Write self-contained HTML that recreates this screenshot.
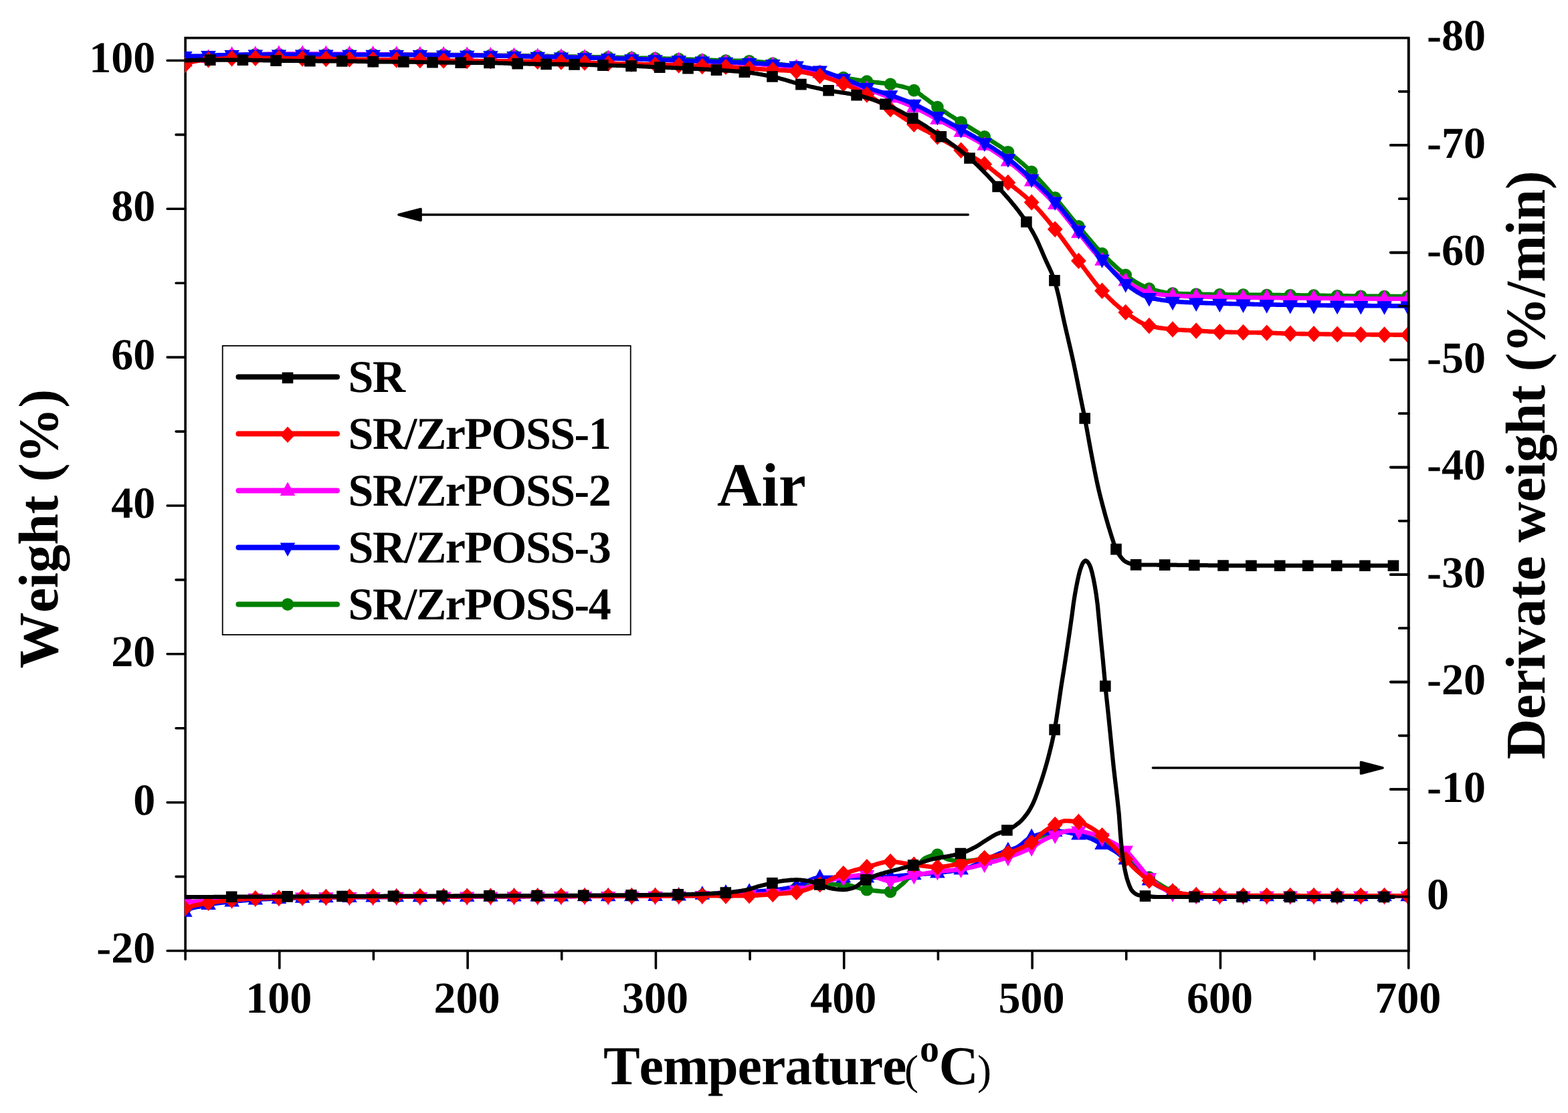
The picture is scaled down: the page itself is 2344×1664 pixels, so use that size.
<!DOCTYPE html>
<html lang="en">
<head>
<meta charset="utf-8">
<title>TG and DTG curves of SR and SR/ZrPOSS in air</title>
<style>
html,body{margin:0;padding:0;background:#fff}
body{width:2344px;height:1664px;overflow:hidden}
svg{display:block}
text{font-family:"Liberation Serif",serif;font-weight:700;fill:#000;font-kerning:none;text-rendering:geometricPrecision}
</style>
</head>
<body>
<svg width="2344" height="1664" viewBox="0 0 2344 1664">
<rect width="2344" height="1664" fill="#fff"/>
<defs><clipPath id="plot"><rect x="276.2" y="56.7" width="1827.8" height="1364.8"/></clipPath></defs>
<rect x="277.1" y="56.7" width="1828.6" height="1364.8" fill="none" stroke="#000" stroke-width="3.6"/>
<path d="M277.1 1421.5v12.8M417.8 1421.5v25.9M558.4 1421.5v12.8M699.1 1421.5v25.9M839.7 1421.5v12.8M980.4 1421.5v25.9M1121.1 1421.5v12.8M1261.7 1421.5v25.9M1402.4 1421.5v12.8M1543.1 1421.5v25.9M1683.7 1421.5v12.8M1824.4 1421.5v25.9M1965.0 1421.5v12.8M2105.7 1421.5v25.9M277.1 1421.5h-27.0M277.1 1310.6h-14.0M277.1 1199.7h-27.0M277.1 1088.7h-14.0M277.1 977.8h-27.0M277.1 866.9h-14.0M277.1 756.0h-27.0M277.1 645.1h-14.0M277.1 534.1h-27.0M277.1 423.2h-14.0M277.1 312.3h-27.0M277.1 201.4h-14.0M277.1 90.5h-27.0M2105.7 136.8h-14.0M2105.7 217.1h-27.0M2105.7 297.3h-14.0M2105.7 377.6h-27.0M2105.7 457.8h-14.0M2105.7 538.1h-27.0M2105.7 618.3h-14.0M2105.7 698.6h-27.0M2105.7 778.8h-14.0M2105.7 859.1h-27.0M2105.7 939.3h-14.0M2105.7 1019.6h-27.0M2105.7 1099.8h-14.0M2105.7 1180.1h-27.0M2105.7 1260.3h-14.0M2105.7 1340.6h-27.0" fill="none" stroke="#000" stroke-width="3.6" stroke-linecap="round"/>
<g clip-path="url(#plot)">
<g>
<path d="M276.0 90.0 L278.0 89.7 L280.0 89.4 L282.0 89.1 L284.0 88.8 L286.0 88.5 L288.0 88.2 L290.0 88.0 L292.0 87.8 L294.0 87.6 L296.0 87.4 L298.0 87.2 L300.0 87.0 L302.0 86.8 L304.0 86.6 L306.0 86.5 L308.0 86.3 L310.0 86.1 L312.0 85.9 L314.0 85.7 L316.0 85.5 L318.0 85.3 L320.0 85.1 L322.0 84.9 L324.0 84.7 L326.0 84.5 L328.0 84.3 L330.0 84.1 L332.0 83.9 L334.0 83.7 L336.0 83.6 L338.0 83.4 L340.0 83.2 L342.0 83.1 L344.0 82.9 L346.0 82.8 L348.0 82.7 L350.0 82.6 L352.0 82.4 L354.0 82.3 L356.0 82.2 L358.0 82.1 L360.0 82.0 L362.0 81.9 L364.0 81.8 L366.0 81.7 L368.0 81.6 L370.0 81.5 L372.0 81.4 L374.0 81.3 L376.0 81.3 L378.0 81.2 L380.0 81.2 L382.0 81.2 L384.0 81.2 L386.0 81.2 L388.0 81.1 L390.0 81.1 L392.0 81.1 L394.0 81.1 L396.0 81.1 L398.0 81.1 L400.0 81.0 L402.0 81.0 L404.0 81.0 L406.0 81.0 L408.0 81.0 L410.0 81.0 L412.0 81.0 L414.0 81.0 L416.0 81.0 L418.0 81.0 L420.0 81.0 L422.0 81.0 L424.0 81.0 L426.0 81.0 L428.0 81.0 L430.0 81.0 L432.0 81.0 L434.0 81.0 L436.0 81.0 L438.0 81.0 L440.0 81.0 L442.0 81.0 L444.0 81.0 L446.0 81.0 L448.0 81.0 L450.0 81.0 L452.0 81.0 L454.0 81.0 L456.0 81.0 L458.0 81.0 L460.0 81.1 L462.0 81.1 L464.0 81.1 L466.0 81.1 L468.0 81.1 L470.0 81.1 L472.0 81.1 L474.0 81.1 L476.0 81.1 L478.0 81.1 L480.0 81.1 L482.0 81.1 L484.0 81.1 L486.0 81.1 L488.0 81.1 L490.0 81.1 L492.0 81.1 L494.0 81.1 L496.0 81.2 L498.0 81.2 L500.0 81.2 L502.0 81.2 L504.0 81.2 L506.0 81.2 L508.0 81.2 L510.0 81.2 L512.0 81.2 L514.0 81.2 L516.0 81.2 L518.0 81.2 L520.0 81.2 L522.0 81.3 L524.0 81.3 L526.0 81.3 L528.0 81.3 L530.0 81.3 L532.0 81.3 L534.0 81.3 L536.0 81.3 L538.0 81.3 L540.0 81.3 L542.0 81.3 L544.0 81.3 L546.0 81.4 L548.0 81.4 L550.0 81.4 L552.0 81.4 L554.0 81.4 L556.0 81.4 L558.0 81.4 L560.0 81.4 L562.0 81.4 L564.0 81.4 L566.0 81.4 L568.0 81.5 L570.0 81.5 L572.0 81.5 L574.0 81.5 L576.0 81.5 L578.0 81.5 L580.0 81.5 L582.0 81.5 L584.0 81.5 L586.0 81.5 L588.0 81.5 L590.0 81.6 L592.0 81.6 L594.0 81.6 L596.0 81.6 L598.0 81.6 L600.0 81.6 L602.0 81.6 L604.0 81.6 L606.0 81.6 L608.0 81.6 L610.0 81.6 L612.0 81.7 L614.0 81.7 L616.0 81.7 L618.0 81.7 L620.0 81.7 L622.0 81.7 L624.0 81.7 L626.0 81.7 L628.0 81.7 L630.0 81.7 L632.0 81.8 L634.0 81.8 L636.0 81.8 L638.0 81.8 L640.0 81.8 L642.0 81.8 L644.0 81.8 L646.0 81.8 L648.0 81.8 L650.0 81.8 L652.0 81.9 L654.0 81.9 L656.0 81.9 L658.0 81.9 L660.0 81.9 L662.0 81.9 L664.0 81.9 L666.0 81.9 L668.0 82.0 L670.0 82.0 L672.0 82.0 L674.0 82.0 L676.0 82.0 L678.0 82.0 L680.0 82.0 L682.0 82.1 L684.0 82.1 L686.0 82.1 L688.0 82.1 L690.0 82.1 L692.0 82.1 L694.0 82.2 L696.0 82.2 L698.0 82.2 L700.0 82.2 L702.0 82.2 L704.0 82.2 L706.0 82.3 L708.0 82.3 L710.0 82.3 L712.0 82.3 L714.0 82.3 L716.0 82.4 L718.0 82.4 L720.0 82.4 L722.0 82.4 L724.0 82.5 L726.0 82.5 L728.0 82.5 L730.0 82.5 L732.0 82.6 L734.0 82.6 L736.0 82.6 L738.0 82.6 L740.0 82.7 L742.0 82.7 L744.0 82.7 L746.0 82.7 L748.0 82.8 L750.0 82.8 L752.0 82.8 L754.0 82.9 L756.0 82.9 L758.0 82.9 L760.0 83.0 L762.0 83.0 L764.0 83.0 L766.0 83.1 L768.0 83.1 L770.0 83.1 L772.0 83.2 L774.0 83.2 L776.0 83.2 L778.0 83.2 L780.0 83.3 L782.0 83.3 L784.0 83.3 L786.0 83.4 L788.0 83.4 L790.0 83.4 L792.0 83.5 L794.0 83.5 L796.0 83.5 L798.0 83.6 L800.0 83.6 L802.0 83.6 L804.0 83.7 L806.0 83.7 L808.0 83.7 L810.0 83.8 L812.0 83.8 L814.0 83.8 L816.0 83.9 L818.0 83.9 L820.0 83.9 L822.0 84.0 L824.0 84.0 L826.0 84.0 L828.0 84.1 L830.0 84.1 L832.0 84.1 L834.0 84.2 L836.0 84.2 L838.0 84.2 L840.0 84.3 L842.0 84.3 L844.0 84.3 L846.0 84.4 L848.0 84.4 L850.0 84.4 L852.0 84.5 L854.0 84.5 L856.0 84.5 L858.0 84.6 L860.0 84.6 L862.0 84.7 L864.0 84.7 L866.0 84.7 L868.0 84.8 L870.0 84.8 L872.0 84.8 L874.0 84.9 L876.0 84.9 L878.0 85.0 L880.0 85.0 L882.0 85.0 L884.0 85.1 L886.0 85.1 L888.0 85.2 L890.0 85.2 L892.0 85.2 L894.0 85.3 L896.0 85.3 L898.0 85.4 L900.0 85.4 L902.0 85.4 L904.0 85.5 L906.0 85.5 L908.0 85.6 L910.0 85.6 L912.0 85.7 L914.0 85.7 L916.0 85.7 L918.0 85.8 L920.0 85.8 L922.0 85.9 L924.0 85.9 L926.0 86.0 L928.0 86.0 L930.0 86.0 L932.0 86.1 L934.0 86.1 L936.0 86.2 L938.0 86.2 L940.0 86.3 L942.0 86.3 L944.0 86.4 L946.0 86.4 L948.0 86.5 L950.0 86.5 L952.0 86.6 L954.0 86.6 L956.0 86.7 L958.0 86.7 L960.0 86.8 L962.0 86.8 L964.0 86.9 L966.0 86.9 L968.0 87.0 L970.0 87.0 L972.0 87.1 L974.0 87.1 L976.0 87.2 L978.0 87.2 L980.0 87.3 L982.0 87.3 L984.0 87.4 L986.0 87.4 L988.0 87.5 L990.0 87.5 L992.0 87.6 L994.0 87.6 L996.0 87.7 L998.0 87.7 L1000.0 87.8 L1002.0 87.9 L1004.0 87.9 L1006.0 88.0 L1008.0 88.0 L1010.0 88.1 L1012.0 88.2 L1014.0 88.2 L1016.0 88.3 L1018.0 88.4 L1020.0 88.4 L1022.0 88.5 L1024.0 88.6 L1026.0 88.6 L1028.0 88.7 L1030.0 88.8 L1032.0 88.8 L1034.0 88.9 L1036.0 89.0 L1038.0 89.0 L1040.0 89.1 L1042.0 89.2 L1044.0 89.3 L1046.0 89.3 L1048.0 89.4 L1050.0 89.5 L1052.0 89.5 L1054.0 89.6 L1056.0 89.7 L1058.0 89.7 L1060.0 89.8 L1062.0 89.9 L1064.0 89.9 L1066.0 90.0 L1068.0 90.1 L1070.0 90.1 L1072.0 90.2 L1074.0 90.2 L1076.0 90.3 L1078.0 90.3 L1080.0 90.4 L1082.0 90.5 L1084.0 90.5 L1086.0 90.5 L1088.0 90.6 L1090.0 90.6 L1092.0 90.7 L1094.0 90.7 L1096.0 90.7 L1098.0 90.8 L1100.0 90.8 L1102.0 90.8 L1104.0 90.8 L1106.0 90.9 L1108.0 90.9 L1110.0 91.0 L1112.0 91.0 L1114.0 91.0 L1116.0 91.1 L1118.0 91.2 L1120.0 91.2 L1122.0 91.3 L1124.0 91.4 L1126.0 91.6 L1128.0 91.7 L1130.0 91.9 L1132.0 92.1 L1134.0 92.3 L1136.0 92.5 L1138.0 92.7 L1140.0 92.9 L1142.0 93.1 L1144.0 93.4 L1146.0 93.6 L1148.0 93.9 L1150.0 94.1 L1152.0 94.3 L1154.0 94.6 L1156.0 94.8 L1158.0 95.0 L1160.0 95.3 L1162.0 95.5 L1164.0 95.8 L1166.0 96.0 L1168.0 96.3 L1170.0 96.6 L1172.0 96.8 L1174.0 97.1 L1176.0 97.4 L1178.0 97.7 L1180.0 98.0 L1182.0 98.3 L1184.0 98.6 L1186.0 98.9 L1188.0 99.3 L1190.0 99.6 L1192.0 99.9 L1194.0 100.3 L1196.0 100.7 L1198.0 101.1 L1200.0 101.5 L1202.0 101.9 L1204.0 102.3 L1206.0 102.7 L1208.0 103.1 L1210.0 103.6 L1212.0 104.0 L1214.0 104.5 L1216.0 104.9 L1218.0 105.4 L1220.0 105.8 L1222.0 106.3 L1224.0 106.8 L1226.0 107.2 L1228.0 107.7 L1230.0 108.2 L1232.0 108.7 L1234.0 109.3 L1236.0 109.8 L1238.0 110.3 L1240.0 110.9 L1242.0 111.4 L1244.0 112.0 L1246.0 112.5 L1248.0 113.0 L1250.0 113.6 L1252.0 114.1 L1254.0 114.5 L1256.0 115.0 L1258.0 115.4 L1260.0 115.8 L1262.0 116.2 L1264.0 116.6 L1266.0 116.9 L1268.0 117.3 L1270.0 117.6 L1272.0 118.0 L1274.0 118.3 L1276.0 118.6 L1278.0 118.9 L1280.0 119.3 L1282.0 119.6 L1284.0 119.9 L1286.0 120.2 L1288.0 120.4 L1290.0 120.7 L1292.0 121.0 L1294.0 121.3 L1296.0 121.6 L1298.0 121.8 L1300.0 122.1 L1302.0 122.3 L1304.0 122.6 L1306.0 122.8 L1308.0 123.0 L1310.0 123.2 L1312.0 123.4 L1314.0 123.6 L1316.0 123.9 L1318.0 124.1 L1320.0 124.3 L1322.0 124.6 L1324.0 124.8 L1326.0 125.1 L1328.0 125.4 L1330.0 125.7 L1332.0 126.1 L1334.0 126.4 L1336.0 126.8 L1338.0 127.1 L1340.0 127.5 L1342.0 127.9 L1344.0 128.4 L1346.0 128.8 L1348.0 129.3 L1350.0 129.8 L1352.0 130.3 L1354.0 130.9 L1356.0 131.4 L1358.0 132.1 L1360.0 132.7 L1362.0 133.4 L1364.0 134.2 L1366.0 135.0 L1368.0 136.0 L1370.0 137.2 L1372.0 138.5 L1374.0 140.0 L1376.0 141.5 L1378.0 143.0 L1380.0 144.6 L1382.0 146.0 L1384.0 147.4 L1386.0 148.8 L1388.0 150.3 L1390.0 151.8 L1392.0 153.3 L1394.0 154.7 L1396.0 156.2 L1398.0 157.6 L1400.0 159.0 L1402.0 160.4 L1404.0 161.7 L1406.0 163.1 L1408.0 164.4 L1410.0 165.7 L1412.0 167.0 L1414.0 168.3 L1416.0 169.6 L1418.0 170.9 L1420.0 172.2 L1422.0 173.5 L1424.0 174.7 L1426.0 176.0 L1428.0 177.3 L1430.0 178.5 L1432.0 179.8 L1434.0 181.0 L1436.0 182.3 L1438.0 183.5 L1440.0 184.8 L1442.0 186.0 L1444.0 187.3 L1446.0 188.5 L1448.0 189.7 L1450.0 190.9 L1452.0 192.1 L1454.0 193.4 L1456.0 194.6 L1458.0 195.8 L1460.0 197.0 L1462.0 198.2 L1464.0 199.5 L1466.0 200.7 L1468.0 202.0 L1470.0 203.2 L1472.0 204.5 L1474.0 205.7 L1476.0 207.0 L1478.0 208.2 L1480.0 209.5 L1482.0 210.7 L1484.0 211.9 L1486.0 213.2 L1488.0 214.4 L1490.0 215.7 L1492.0 217.0 L1494.0 218.3 L1496.0 219.6 L1498.0 220.9 L1500.0 222.3 L1502.0 223.7 L1504.0 225.1 L1506.0 226.5 L1508.0 228.0 L1510.0 229.5 L1512.0 231.0 L1514.0 232.6 L1516.0 234.1 L1518.0 235.7 L1520.0 237.3 L1522.0 239.0 L1524.0 240.7 L1526.0 242.4 L1528.0 244.1 L1530.0 245.8 L1532.0 247.6 L1534.0 249.4 L1536.0 251.2 L1538.0 253.1 L1540.0 255.0 L1542.0 256.9 L1544.0 258.8 L1546.0 260.8 L1548.0 262.9 L1550.0 264.9 L1552.0 267.1 L1554.0 269.2 L1556.0 271.4 L1558.0 273.6 L1560.0 275.8 L1562.0 278.1 L1564.0 280.4 L1566.0 282.7 L1568.0 285.0 L1570.0 287.3 L1572.0 289.6 L1574.0 291.9 L1576.0 294.2 L1578.0 296.5 L1580.0 298.9 L1582.0 301.2 L1584.0 303.6 L1586.0 306.0 L1588.0 308.5 L1590.0 310.9 L1592.0 313.4 L1594.0 315.9 L1596.0 318.4 L1598.0 320.9 L1600.0 323.3 L1602.0 325.8 L1604.0 328.3 L1606.0 330.7 L1608.0 333.2 L1610.0 335.6 L1612.0 338.0 L1614.0 340.4 L1616.0 342.8 L1618.0 345.2 L1620.0 347.6 L1622.0 350.0 L1624.0 352.4 L1626.0 354.8 L1628.0 357.2 L1630.0 359.5 L1632.0 361.9 L1634.0 364.2 L1636.0 366.5 L1638.0 368.8 L1640.0 371.0 L1642.0 373.2 L1644.0 375.4 L1646.0 377.5 L1648.0 379.5 L1650.0 381.5 L1652.0 383.5 L1654.0 385.5 L1656.0 387.5 L1658.0 389.4 L1660.0 391.3 L1662.0 393.2 L1664.0 395.0 L1666.0 396.9 L1668.0 398.7 L1670.0 400.5 L1672.0 402.2 L1674.0 403.9 L1676.0 405.6 L1678.0 407.2 L1680.0 408.8 L1682.0 410.4 L1684.0 412.0 L1686.0 413.5 L1688.0 415.0 L1690.0 416.5 L1692.0 417.9 L1694.0 419.3 L1696.0 420.6 L1698.0 421.8 L1700.0 423.0 L1702.0 424.1 L1704.0 425.2 L1706.0 426.3 L1708.0 427.3 L1710.0 428.3 L1712.0 429.3 L1714.0 430.1 L1716.0 430.8 L1718.0 431.5 L1720.0 432.1 L1722.0 432.7 L1724.0 433.2 L1726.0 433.8 L1728.0 434.3 L1730.0 434.8 L1732.0 435.3 L1734.0 435.8 L1736.0 436.2 L1738.0 436.6 L1740.0 437.0 L1742.0 437.4 L1744.0 437.7 L1746.0 437.9 L1748.0 438.2 L1750.0 438.4 L1752.0 438.5 L1754.0 438.6 L1756.0 438.7 L1758.0 438.8 L1760.0 438.9 L1762.0 439.0 L1764.0 439.1 L1766.0 439.1 L1768.0 439.2 L1770.0 439.3 L1772.0 439.3 L1774.0 439.4 L1776.0 439.4 L1778.0 439.5 L1780.0 439.5 L1782.0 439.6 L1784.0 439.6 L1786.0 439.7 L1788.0 439.7 L1790.0 439.8 L1792.0 439.8 L1794.0 439.8 L1796.0 439.9 L1798.0 439.9 L1800.0 440.0 L1802.0 440.0 L1804.0 440.0 L1806.0 440.1 L1808.0 440.1 L1810.0 440.1 L1812.0 440.2 L1814.0 440.2 L1816.0 440.2 L1818.0 440.2 L1820.0 440.3 L1822.0 440.3 L1824.0 440.3 L1826.0 440.3 L1828.0 440.4 L1830.0 440.4 L1832.0 440.4 L1834.0 440.4 L1836.0 440.5 L1838.0 440.5 L1840.0 440.5 L1842.0 440.5 L1844.0 440.5 L1846.0 440.6 L1848.0 440.6 L1850.0 440.6 L1852.0 440.6 L1854.0 440.6 L1856.0 440.7 L1858.0 440.7 L1860.0 440.7 L1862.0 440.7 L1864.0 440.7 L1866.0 440.7 L1868.0 440.8 L1870.0 440.8 L1872.0 440.8 L1874.0 440.8 L1876.0 440.8 L1878.0 440.8 L1880.0 440.9 L1882.0 440.9 L1884.0 440.9 L1886.0 440.9 L1888.0 440.9 L1890.0 440.9 L1892.0 441.0 L1894.0 441.0 L1896.0 441.0 L1898.0 441.0 L1900.0 441.0 L1902.0 441.0 L1904.0 441.1 L1906.0 441.1 L1908.0 441.1 L1910.0 441.1 L1912.0 441.1 L1914.0 441.1 L1916.0 441.2 L1918.0 441.2 L1920.0 441.2 L1922.0 441.2 L1924.0 441.2 L1926.0 441.3 L1928.0 441.3 L1930.0 441.3 L1932.0 441.3 L1934.0 441.3 L1936.0 441.4 L1938.0 441.4 L1940.0 441.4 L1942.0 441.4 L1944.0 441.5 L1946.0 441.5 L1948.0 441.5 L1950.0 441.5 L1952.0 441.6 L1954.0 441.6 L1956.0 441.6 L1958.0 441.6 L1960.0 441.7 L1962.0 441.7 L1964.0 441.7 L1966.0 441.7 L1968.0 441.8 L1970.0 441.8 L1972.0 441.8 L1974.0 441.9 L1976.0 441.9 L1978.0 441.9 L1980.0 441.9 L1982.0 442.0 L1984.0 442.0 L1986.0 442.0 L1988.0 442.0 L1990.0 442.1 L1992.0 442.1 L1994.0 442.1 L1996.0 442.2 L1998.0 442.2 L2000.0 442.2 L2002.0 442.2 L2004.0 442.3 L2006.0 442.3 L2008.0 442.3 L2010.0 442.4 L2012.0 442.4 L2014.0 442.4 L2016.0 442.4 L2018.0 442.5 L2020.0 442.5 L2022.0 442.5 L2024.0 442.5 L2026.0 442.6 L2028.0 442.6 L2030.0 442.6 L2032.0 442.6 L2034.0 442.7 L2036.0 442.7 L2038.0 442.7 L2040.0 442.7 L2042.0 442.8 L2044.0 442.8 L2046.0 442.8 L2048.0 442.8 L2050.0 442.8 L2052.0 442.9 L2054.0 442.9 L2056.0 442.9 L2058.0 442.9 L2060.0 442.9 L2062.0 442.9 L2064.0 443.0 L2066.0 443.0 L2068.0 443.0 L2070.0 443.0 L2072.0 443.0 L2074.0 443.0 L2076.0 443.0 L2078.0 443.1 L2080.0 443.1 L2082.0 443.1 L2084.0 443.1 L2086.0 443.1 L2088.0 443.1 L2090.0 443.1 L2092.0 443.1 L2094.0 443.1 L2096.0 443.1 L2098.0 443.2 L2100.0 443.2 L2102.0 443.2 L2104.0 443.2 L2106.0 443.2 L2108.0 443.2 L2110.0 443.2" fill="none" stroke="#008000" stroke-width="6.6" stroke-linejoin="round" stroke-linecap="butt"/>
<path d="M267.0 90.0a9.3 9.3 0 1 0 18.6 0a9.3 9.3 0 1 0 -18.6 0zM302.2 86.0a9.3 9.3 0 1 0 18.6 0a9.3 9.3 0 1 0 -18.6 0zM337.3 82.8a9.3 9.3 0 1 0 18.6 0a9.3 9.3 0 1 0 -18.6 0zM372.5 81.2a9.3 9.3 0 1 0 18.6 0a9.3 9.3 0 1 0 -18.6 0zM407.6 81.0a9.3 9.3 0 1 0 18.6 0a9.3 9.3 0 1 0 -18.6 0zM442.8 81.0a9.3 9.3 0 1 0 18.6 0a9.3 9.3 0 1 0 -18.6 0zM478.0 81.1a9.3 9.3 0 1 0 18.6 0a9.3 9.3 0 1 0 -18.6 0zM513.1 81.3a9.3 9.3 0 1 0 18.6 0a9.3 9.3 0 1 0 -18.6 0zM548.3 81.4a9.3 9.3 0 1 0 18.6 0a9.3 9.3 0 1 0 -18.6 0zM583.4 81.6a9.3 9.3 0 1 0 18.6 0a9.3 9.3 0 1 0 -18.6 0zM618.6 81.7a9.3 9.3 0 1 0 18.6 0a9.3 9.3 0 1 0 -18.6 0zM653.8 81.9a9.3 9.3 0 1 0 18.6 0a9.3 9.3 0 1 0 -18.6 0zM688.9 82.2a9.3 9.3 0 1 0 18.6 0a9.3 9.3 0 1 0 -18.6 0zM724.1 82.6a9.3 9.3 0 1 0 18.6 0a9.3 9.3 0 1 0 -18.6 0zM759.2 83.1a9.3 9.3 0 1 0 18.6 0a9.3 9.3 0 1 0 -18.6 0zM794.4 83.7a9.3 9.3 0 1 0 18.6 0a9.3 9.3 0 1 0 -18.6 0zM829.6 84.2a9.3 9.3 0 1 0 18.6 0a9.3 9.3 0 1 0 -18.6 0zM864.7 84.9a9.3 9.3 0 1 0 18.6 0a9.3 9.3 0 1 0 -18.6 0zM899.9 85.6a9.3 9.3 0 1 0 18.6 0a9.3 9.3 0 1 0 -18.6 0zM935.0 86.4a9.3 9.3 0 1 0 18.6 0a9.3 9.3 0 1 0 -18.6 0zM970.2 87.2a9.3 9.3 0 1 0 18.6 0a9.3 9.3 0 1 0 -18.6 0zM1005.4 88.2a9.3 9.3 0 1 0 18.6 0a9.3 9.3 0 1 0 -18.6 0zM1040.5 89.5a9.3 9.3 0 1 0 18.6 0a9.3 9.3 0 1 0 -18.6 0zM1075.7 90.5a9.3 9.3 0 1 0 18.6 0a9.3 9.3 0 1 0 -18.6 0zM1110.8 91.2a9.3 9.3 0 1 0 18.6 0a9.3 9.3 0 1 0 -18.6 0zM1146.0 94.7a9.3 9.3 0 1 0 18.6 0a9.3 9.3 0 1 0 -18.6 0zM1181.2 99.7a9.3 9.3 0 1 0 18.6 0a9.3 9.3 0 1 0 -18.6 0zM1216.3 107.1a9.3 9.3 0 1 0 18.6 0a9.3 9.3 0 1 0 -18.6 0zM1251.5 116.0a9.3 9.3 0 1 0 18.6 0a9.3 9.3 0 1 0 -18.6 0zM1286.6 121.6a9.3 9.3 0 1 0 18.6 0a9.3 9.3 0 1 0 -18.6 0zM1321.8 125.9a9.3 9.3 0 1 0 18.6 0a9.3 9.3 0 1 0 -18.6 0zM1357.0 135.1a9.3 9.3 0 1 0 18.6 0a9.3 9.3 0 1 0 -18.6 0zM1392.1 160.0a9.3 9.3 0 1 0 18.6 0a9.3 9.3 0 1 0 -18.6 0zM1427.3 182.7a9.3 9.3 0 1 0 18.6 0a9.3 9.3 0 1 0 -18.6 0zM1462.4 204.3a9.3 9.3 0 1 0 18.6 0a9.3 9.3 0 1 0 -18.6 0zM1497.6 227.2a9.3 9.3 0 1 0 18.6 0a9.3 9.3 0 1 0 -18.6 0zM1532.8 256.9a9.3 9.3 0 1 0 18.6 0a9.3 9.3 0 1 0 -18.6 0zM1567.9 295.6a9.3 9.3 0 1 0 18.6 0a9.3 9.3 0 1 0 -18.6 0zM1603.1 338.4a9.3 9.3 0 1 0 18.6 0a9.3 9.3 0 1 0 -18.6 0zM1638.2 379.0a9.3 9.3 0 1 0 18.6 0a9.3 9.3 0 1 0 -18.6 0zM1673.4 411.0a9.3 9.3 0 1 0 18.6 0a9.3 9.3 0 1 0 -18.6 0zM1708.6 431.5a9.3 9.3 0 1 0 18.6 0a9.3 9.3 0 1 0 -18.6 0zM1743.7 438.6a9.3 9.3 0 1 0 18.6 0a9.3 9.3 0 1 0 -18.6 0zM1778.9 439.7a9.3 9.3 0 1 0 18.6 0a9.3 9.3 0 1 0 -18.6 0zM1814.0 440.3a9.3 9.3 0 1 0 18.6 0a9.3 9.3 0 1 0 -18.6 0zM1849.2 440.7a9.3 9.3 0 1 0 18.6 0a9.3 9.3 0 1 0 -18.6 0zM1884.4 441.0a9.3 9.3 0 1 0 18.6 0a9.3 9.3 0 1 0 -18.6 0zM1919.5 441.3a9.3 9.3 0 1 0 18.6 0a9.3 9.3 0 1 0 -18.6 0zM1954.7 441.7a9.3 9.3 0 1 0 18.6 0a9.3 9.3 0 1 0 -18.6 0zM1989.8 442.2a9.3 9.3 0 1 0 18.6 0a9.3 9.3 0 1 0 -18.6 0zM2025.0 442.7a9.3 9.3 0 1 0 18.6 0a9.3 9.3 0 1 0 -18.6 0zM2060.2 443.0a9.3 9.3 0 1 0 18.6 0a9.3 9.3 0 1 0 -18.6 0zM2095.3 443.2a9.3 9.3 0 1 0 18.6 0a9.3 9.3 0 1 0 -18.6 0z" fill="#008000"/>
<path d="M276.0 92.0 L278.0 91.5 L280.0 91.0 L282.0 90.6 L284.0 90.1 L286.0 89.7 L288.0 89.3 L290.0 89.0 L292.0 88.7 L294.0 88.4 L296.0 88.2 L298.0 87.9 L300.0 87.7 L302.0 87.5 L304.0 87.3 L306.0 87.1 L308.0 86.8 L310.0 86.6 L312.0 86.4 L314.0 86.1 L316.0 85.8 L318.0 85.6 L320.0 85.3 L322.0 85.0 L324.0 84.7 L326.0 84.4 L328.0 84.1 L330.0 83.8 L332.0 83.5 L334.0 83.3 L336.0 83.1 L338.0 82.9 L340.0 82.7 L342.0 82.5 L344.0 82.4 L346.0 82.3 L348.0 82.2 L350.0 82.2 L352.0 82.1 L354.0 82.1 L356.0 82.0 L358.0 82.0 L360.0 82.0 L362.0 81.9 L364.0 81.9 L366.0 81.9 L368.0 81.8 L370.0 81.8 L372.0 81.8 L374.0 81.7 L376.0 81.7 L378.0 81.7 L380.0 81.6 L382.0 81.6 L384.0 81.5 L386.0 81.5 L388.0 81.4 L390.0 81.3 L392.0 81.2 L394.0 81.2 L396.0 81.1 L398.0 81.0 L400.0 80.9 L402.0 80.9 L404.0 80.8 L406.0 80.8 L408.0 80.7 L410.0 80.7 L412.0 80.6 L414.0 80.6 L416.0 80.6 L418.0 80.6 L420.0 80.6 L422.0 80.6 L424.0 80.6 L426.0 80.6 L428.0 80.6 L430.0 80.6 L432.0 80.6 L434.0 80.6 L436.0 80.6 L438.0 80.6 L440.0 80.6 L442.0 80.6 L444.0 80.6 L446.0 80.6 L448.0 80.6 L450.0 80.6 L452.0 80.6 L454.0 80.6 L456.0 80.6 L458.0 80.6 L460.0 80.6 L462.0 80.6 L464.0 80.6 L466.0 80.6 L468.0 80.6 L470.0 80.6 L472.0 80.6 L474.0 80.6 L476.0 80.6 L478.0 80.7 L480.0 80.7 L482.0 80.7 L484.0 80.7 L486.0 80.7 L488.0 80.7 L490.0 80.7 L492.0 80.7 L494.0 80.7 L496.0 80.7 L498.0 80.8 L500.0 80.8 L502.0 80.8 L504.0 80.8 L506.0 80.8 L508.0 80.8 L510.0 80.8 L512.0 80.9 L514.0 80.9 L516.0 80.9 L518.0 80.9 L520.0 80.9 L522.0 80.9 L524.0 80.9 L526.0 81.0 L528.0 81.0 L530.0 81.0 L532.0 81.0 L534.0 81.0 L536.0 81.0 L538.0 81.1 L540.0 81.1 L542.0 81.1 L544.0 81.1 L546.0 81.1 L548.0 81.1 L550.0 81.2 L552.0 81.2 L554.0 81.2 L556.0 81.2 L558.0 81.2 L560.0 81.3 L562.0 81.3 L564.0 81.3 L566.0 81.3 L568.0 81.3 L570.0 81.3 L572.0 81.4 L574.0 81.4 L576.0 81.4 L578.0 81.4 L580.0 81.4 L582.0 81.5 L584.0 81.5 L586.0 81.5 L588.0 81.5 L590.0 81.5 L592.0 81.5 L594.0 81.6 L596.0 81.6 L598.0 81.6 L600.0 81.6 L602.0 81.6 L604.0 81.6 L606.0 81.6 L608.0 81.7 L610.0 81.7 L612.0 81.7 L614.0 81.7 L616.0 81.7 L618.0 81.7 L620.0 81.8 L622.0 81.8 L624.0 81.8 L626.0 81.8 L628.0 81.8 L630.0 81.8 L632.0 81.8 L634.0 81.9 L636.0 81.9 L638.0 81.9 L640.0 81.9 L642.0 81.9 L644.0 81.9 L646.0 82.0 L648.0 82.0 L650.0 82.0 L652.0 82.0 L654.0 82.0 L656.0 82.0 L658.0 82.1 L660.0 82.1 L662.0 82.1 L664.0 82.1 L666.0 82.1 L668.0 82.2 L670.0 82.2 L672.0 82.2 L674.0 82.2 L676.0 82.2 L678.0 82.3 L680.0 82.3 L682.0 82.3 L684.0 82.3 L686.0 82.3 L688.0 82.4 L690.0 82.4 L692.0 82.4 L694.0 82.4 L696.0 82.5 L698.0 82.5 L700.0 82.5 L702.0 82.5 L704.0 82.6 L706.0 82.6 L708.0 82.6 L710.0 82.6 L712.0 82.7 L714.0 82.7 L716.0 82.7 L718.0 82.8 L720.0 82.8 L722.0 82.8 L724.0 82.8 L726.0 82.9 L728.0 82.9 L730.0 83.0 L732.0 83.0 L734.0 83.0 L736.0 83.1 L738.0 83.1 L740.0 83.1 L742.0 83.2 L744.0 83.2 L746.0 83.2 L748.0 83.3 L750.0 83.3 L752.0 83.4 L754.0 83.4 L756.0 83.4 L758.0 83.5 L760.0 83.5 L762.0 83.6 L764.0 83.6 L766.0 83.7 L768.0 83.7 L770.0 83.7 L772.0 83.8 L774.0 83.8 L776.0 83.9 L778.0 83.9 L780.0 84.0 L782.0 84.0 L784.0 84.0 L786.0 84.1 L788.0 84.1 L790.0 84.2 L792.0 84.2 L794.0 84.3 L796.0 84.3 L798.0 84.4 L800.0 84.4 L802.0 84.4 L804.0 84.5 L806.0 84.5 L808.0 84.6 L810.0 84.6 L812.0 84.7 L814.0 84.7 L816.0 84.8 L818.0 84.8 L820.0 84.9 L822.0 84.9 L824.0 85.0 L826.0 85.0 L828.0 85.1 L830.0 85.1 L832.0 85.2 L834.0 85.2 L836.0 85.3 L838.0 85.3 L840.0 85.4 L842.0 85.4 L844.0 85.5 L846.0 85.5 L848.0 85.6 L850.0 85.6 L852.0 85.7 L854.0 85.7 L856.0 85.8 L858.0 85.8 L860.0 85.9 L862.0 85.9 L864.0 86.0 L866.0 86.1 L868.0 86.1 L870.0 86.2 L872.0 86.2 L874.0 86.3 L876.0 86.3 L878.0 86.4 L880.0 86.4 L882.0 86.5 L884.0 86.6 L886.0 86.6 L888.0 86.7 L890.0 86.7 L892.0 86.8 L894.0 86.8 L896.0 86.9 L898.0 86.9 L900.0 87.0 L902.0 87.1 L904.0 87.1 L906.0 87.2 L908.0 87.2 L910.0 87.3 L912.0 87.3 L914.0 87.4 L916.0 87.4 L918.0 87.5 L920.0 87.6 L922.0 87.6 L924.0 87.7 L926.0 87.7 L928.0 87.8 L930.0 87.8 L932.0 87.9 L934.0 88.0 L936.0 88.0 L938.0 88.1 L940.0 88.1 L942.0 88.2 L944.0 88.2 L946.0 88.3 L948.0 88.4 L950.0 88.4 L952.0 88.5 L954.0 88.5 L956.0 88.6 L958.0 88.7 L960.0 88.7 L962.0 88.8 L964.0 88.8 L966.0 88.9 L968.0 89.0 L970.0 89.0 L972.0 89.1 L974.0 89.1 L976.0 89.2 L978.0 89.3 L980.0 89.3 L982.0 89.4 L984.0 89.5 L986.0 89.5 L988.0 89.6 L990.0 89.7 L992.0 89.7 L994.0 89.8 L996.0 89.9 L998.0 89.9 L1000.0 90.0 L1002.0 90.1 L1004.0 90.1 L1006.0 90.2 L1008.0 90.3 L1010.0 90.4 L1012.0 90.4 L1014.0 90.5 L1016.0 90.6 L1018.0 90.6 L1020.0 90.7 L1022.0 90.8 L1024.0 90.9 L1026.0 90.9 L1028.0 91.0 L1030.0 91.1 L1032.0 91.2 L1034.0 91.3 L1036.0 91.3 L1038.0 91.4 L1040.0 91.5 L1042.0 91.6 L1044.0 91.7 L1046.0 91.7 L1048.0 91.8 L1050.0 91.9 L1052.0 92.0 L1054.0 92.1 L1056.0 92.2 L1058.0 92.2 L1060.0 92.3 L1062.0 92.4 L1064.0 92.5 L1066.0 92.6 L1068.0 92.7 L1070.0 92.8 L1072.0 92.9 L1074.0 92.9 L1076.0 93.0 L1078.0 93.1 L1080.0 93.2 L1082.0 93.3 L1084.0 93.4 L1086.0 93.5 L1088.0 93.6 L1090.0 93.7 L1092.0 93.8 L1094.0 93.9 L1096.0 94.0 L1098.0 94.1 L1100.0 94.2 L1102.0 94.3 L1104.0 94.4 L1106.0 94.5 L1108.0 94.6 L1110.0 94.7 L1112.0 94.8 L1114.0 94.9 L1116.0 95.0 L1118.0 95.1 L1120.0 95.3 L1122.0 95.4 L1124.0 95.5 L1126.0 95.6 L1128.0 95.7 L1130.0 95.8 L1132.0 95.9 L1134.0 96.1 L1136.0 96.2 L1138.0 96.3 L1140.0 96.4 L1142.0 96.6 L1144.0 96.7 L1146.0 96.8 L1148.0 97.0 L1150.0 97.1 L1152.0 97.3 L1154.0 97.4 L1156.0 97.6 L1158.0 97.7 L1160.0 97.9 L1162.0 98.0 L1164.0 98.2 L1166.0 98.3 L1168.0 98.5 L1170.0 98.7 L1172.0 98.8 L1174.0 99.0 L1176.0 99.2 L1178.0 99.4 L1180.0 99.6 L1182.0 99.8 L1184.0 100.0 L1186.0 100.3 L1188.0 100.5 L1190.0 100.8 L1192.0 101.1 L1194.0 101.4 L1196.0 101.8 L1198.0 102.1 L1200.0 102.5 L1202.0 103.0 L1204.0 103.4 L1206.0 103.9 L1208.0 104.4 L1210.0 104.9 L1212.0 105.4 L1214.0 105.9 L1216.0 106.5 L1218.0 107.0 L1220.0 107.6 L1222.0 108.2 L1224.0 108.7 L1226.0 109.3 L1228.0 109.9 L1230.0 110.5 L1232.0 111.1 L1234.0 111.8 L1236.0 112.5 L1238.0 113.2 L1240.0 113.9 L1242.0 114.7 L1244.0 115.4 L1246.0 116.1 L1248.0 116.9 L1250.0 117.6 L1252.0 118.4 L1254.0 119.1 L1256.0 119.8 L1258.0 120.5 L1260.0 121.2 L1262.0 121.9 L1264.0 122.5 L1266.0 123.2 L1268.0 123.9 L1270.0 124.5 L1272.0 125.2 L1274.0 125.8 L1276.0 126.5 L1278.0 127.1 L1280.0 127.8 L1282.0 128.4 L1284.0 129.1 L1286.0 129.8 L1288.0 130.4 L1290.0 131.1 L1292.0 131.8 L1294.0 132.5 L1296.0 133.2 L1298.0 133.9 L1300.0 134.6 L1302.0 135.3 L1304.0 136.0 L1306.0 136.7 L1308.0 137.5 L1310.0 138.2 L1312.0 138.9 L1314.0 139.7 L1316.0 140.4 L1318.0 141.1 L1320.0 141.9 L1322.0 142.6 L1324.0 143.4 L1326.0 144.2 L1328.0 144.9 L1330.0 145.7 L1332.0 146.5 L1334.0 147.2 L1336.0 148.0 L1338.0 148.8 L1340.0 149.5 L1342.0 150.3 L1344.0 151.1 L1346.0 151.9 L1348.0 152.7 L1350.0 153.5 L1352.0 154.3 L1354.0 155.1 L1356.0 155.9 L1358.0 156.8 L1360.0 157.6 L1362.0 158.5 L1364.0 159.4 L1366.0 160.3 L1368.0 161.2 L1370.0 162.1 L1372.0 163.1 L1374.0 164.1 L1376.0 165.1 L1378.0 166.1 L1380.0 167.1 L1382.0 168.1 L1384.0 169.2 L1386.0 170.2 L1388.0 171.3 L1390.0 172.3 L1392.0 173.4 L1394.0 174.5 L1396.0 175.5 L1398.0 176.6 L1400.0 177.6 L1402.0 178.7 L1404.0 179.7 L1406.0 180.8 L1408.0 181.8 L1410.0 182.9 L1412.0 184.0 L1414.0 185.0 L1416.0 186.1 L1418.0 187.2 L1420.0 188.3 L1422.0 189.4 L1424.0 190.4 L1426.0 191.5 L1428.0 192.6 L1430.0 193.7 L1432.0 194.8 L1434.0 195.9 L1436.0 197.0 L1438.0 198.1 L1440.0 199.2 L1442.0 200.3 L1444.0 201.4 L1446.0 202.5 L1448.0 203.6 L1450.0 204.7 L1452.0 205.8 L1454.0 206.9 L1456.0 208.0 L1458.0 209.1 L1460.0 210.2 L1462.0 211.4 L1464.0 212.6 L1466.0 213.7 L1468.0 214.9 L1470.0 216.1 L1472.0 217.4 L1474.0 218.6 L1476.0 219.8 L1478.0 221.1 L1480.0 222.4 L1482.0 223.6 L1484.0 224.9 L1486.0 226.2 L1488.0 227.5 L1490.0 228.9 L1492.0 230.2 L1494.0 231.6 L1496.0 233.0 L1498.0 234.4 L1500.0 235.8 L1502.0 237.2 L1504.0 238.7 L1506.0 240.2 L1508.0 241.7 L1510.0 243.3 L1512.0 244.8 L1514.0 246.5 L1516.0 248.1 L1518.0 249.8 L1520.0 251.4 L1522.0 253.1 L1524.0 254.9 L1526.0 256.6 L1528.0 258.4 L1530.0 260.2 L1532.0 261.9 L1534.0 263.7 L1536.0 265.6 L1538.0 267.4 L1540.0 269.2 L1542.0 271.0 L1544.0 272.8 L1546.0 274.7 L1548.0 276.5 L1550.0 278.3 L1552.0 280.2 L1554.0 282.1 L1556.0 284.0 L1558.0 285.9 L1560.0 287.8 L1562.0 289.7 L1564.0 291.7 L1566.0 293.7 L1568.0 295.7 L1570.0 297.8 L1572.0 299.8 L1574.0 301.9 L1576.0 304.1 L1578.0 306.2 L1580.0 308.5 L1582.0 310.8 L1584.0 313.1 L1586.0 315.5 L1588.0 317.9 L1590.0 320.4 L1592.0 322.9 L1594.0 325.4 L1596.0 327.9 L1598.0 330.4 L1600.0 332.9 L1602.0 335.4 L1604.0 337.9 L1606.0 340.4 L1608.0 342.9 L1610.0 345.3 L1612.0 347.8 L1614.0 350.2 L1616.0 352.6 L1618.0 355.0 L1620.0 357.5 L1622.0 360.0 L1624.0 362.4 L1626.0 364.9 L1628.0 367.4 L1630.0 369.8 L1632.0 372.2 L1634.0 374.6 L1636.0 376.9 L1638.0 379.2 L1640.0 381.5 L1642.0 383.7 L1644.0 385.8 L1646.0 387.9 L1648.0 389.9 L1650.0 391.9 L1652.0 393.9 L1654.0 395.8 L1656.0 397.7 L1658.0 399.6 L1660.0 401.5 L1662.0 403.3 L1664.0 405.1 L1666.0 406.8 L1668.0 408.6 L1670.0 410.2 L1672.0 411.9 L1674.0 413.5 L1676.0 415.1 L1678.0 416.6 L1680.0 418.1 L1682.0 419.5 L1684.0 420.9 L1686.0 422.3 L1688.0 423.6 L1690.0 424.9 L1692.0 426.1 L1694.0 427.3 L1696.0 428.4 L1698.0 429.5 L1700.0 430.5 L1702.0 431.5 L1704.0 432.4 L1706.0 433.4 L1708.0 434.3 L1710.0 435.1 L1712.0 435.9 L1714.0 436.6 L1716.0 437.1 L1718.0 437.6 L1720.0 438.0 L1722.0 438.4 L1724.0 438.7 L1726.0 439.1 L1728.0 439.4 L1730.0 439.7 L1732.0 440.0 L1734.0 440.3 L1736.0 440.5 L1738.0 440.8 L1740.0 441.0 L1742.0 441.2 L1744.0 441.4 L1746.0 441.6 L1748.0 441.7 L1750.0 441.9 L1752.0 442.0 L1754.0 442.1 L1756.0 442.2 L1758.0 442.3 L1760.0 442.4 L1762.0 442.5 L1764.0 442.6 L1766.0 442.7 L1768.0 442.8 L1770.0 442.9 L1772.0 442.9 L1774.0 443.0 L1776.0 443.1 L1778.0 443.1 L1780.0 443.2 L1782.0 443.3 L1784.0 443.3 L1786.0 443.4 L1788.0 443.4 L1790.0 443.5 L1792.0 443.5 L1794.0 443.6 L1796.0 443.6 L1798.0 443.7 L1800.0 443.7 L1802.0 443.8 L1804.0 443.8 L1806.0 443.9 L1808.0 443.9 L1810.0 444.0 L1812.0 444.0 L1814.0 444.0 L1816.0 444.1 L1818.0 444.1 L1820.0 444.2 L1822.0 444.2 L1824.0 444.2 L1826.0 444.3 L1828.0 444.3 L1830.0 444.3 L1832.0 444.3 L1834.0 444.4 L1836.0 444.4 L1838.0 444.4 L1840.0 444.5 L1842.0 444.5 L1844.0 444.5 L1846.0 444.6 L1848.0 444.6 L1850.0 444.6 L1852.0 444.6 L1854.0 444.7 L1856.0 444.7 L1858.0 444.7 L1860.0 444.7 L1862.0 444.8 L1864.0 444.8 L1866.0 444.8 L1868.0 444.8 L1870.0 444.9 L1872.0 444.9 L1874.0 444.9 L1876.0 444.9 L1878.0 445.0 L1880.0 445.0 L1882.0 445.0 L1884.0 445.0 L1886.0 445.0 L1888.0 445.1 L1890.0 445.1 L1892.0 445.1 L1894.0 445.1 L1896.0 445.2 L1898.0 445.2 L1900.0 445.2 L1902.0 445.2 L1904.0 445.2 L1906.0 445.3 L1908.0 445.3 L1910.0 445.3 L1912.0 445.3 L1914.0 445.3 L1916.0 445.4 L1918.0 445.4 L1920.0 445.4 L1922.0 445.4 L1924.0 445.4 L1926.0 445.5 L1928.0 445.5 L1930.0 445.5 L1932.0 445.5 L1934.0 445.5 L1936.0 445.6 L1938.0 445.6 L1940.0 445.6 L1942.0 445.6 L1944.0 445.6 L1946.0 445.7 L1948.0 445.7 L1950.0 445.7 L1952.0 445.7 L1954.0 445.7 L1956.0 445.8 L1958.0 445.8 L1960.0 445.8 L1962.0 445.8 L1964.0 445.8 L1966.0 445.9 L1968.0 445.9 L1970.0 445.9 L1972.0 445.9 L1974.0 445.9 L1976.0 446.0 L1978.0 446.0 L1980.0 446.0 L1982.0 446.0 L1984.0 446.0 L1986.0 446.0 L1988.0 446.1 L1990.0 446.1 L1992.0 446.1 L1994.0 446.1 L1996.0 446.1 L1998.0 446.2 L2000.0 446.2 L2002.0 446.2 L2004.0 446.2 L2006.0 446.2 L2008.0 446.2 L2010.0 446.3 L2012.0 446.3 L2014.0 446.3 L2016.0 446.3 L2018.0 446.3 L2020.0 446.3 L2022.0 446.4 L2024.0 446.4 L2026.0 446.4 L2028.0 446.4 L2030.0 446.4 L2032.0 446.4 L2034.0 446.5 L2036.0 446.5 L2038.0 446.5 L2040.0 446.5 L2042.0 446.5 L2044.0 446.5 L2046.0 446.5 L2048.0 446.6 L2050.0 446.6 L2052.0 446.6 L2054.0 446.6 L2056.0 446.6 L2058.0 446.6 L2060.0 446.6 L2062.0 446.7 L2064.0 446.7 L2066.0 446.7 L2068.0 446.7 L2070.0 446.7 L2072.0 446.7 L2074.0 446.7 L2076.0 446.7 L2078.0 446.7 L2080.0 446.8 L2082.0 446.8 L2084.0 446.8 L2086.0 446.8 L2088.0 446.8 L2090.0 446.8 L2092.0 446.8 L2094.0 446.8 L2096.0 446.8 L2098.0 446.8 L2100.0 446.9 L2102.0 446.9 L2104.0 446.9 L2106.0 446.9 L2108.0 446.9 L2110.0 446.9" fill="none" stroke="#ff00ff" stroke-width="6.6" stroke-linejoin="round" stroke-linecap="butt"/>
<path d="M276.3 78.9l11.3 20.5h-22.6zM311.5 73.4l11.3 20.5h-22.6zM346.6 69.3l11.3 20.5h-22.6zM381.8 68.6l11.3 20.5h-22.6zM416.9 67.6l11.3 20.5h-22.6zM452.1 67.6l11.3 20.5h-22.6zM487.3 67.7l11.3 20.5h-22.6zM522.4 67.9l11.3 20.5h-22.6zM557.6 68.2l11.3 20.5h-22.6zM592.7 68.5l11.3 20.5h-22.6zM627.9 68.8l11.3 20.5h-22.6zM663.1 69.1l11.3 20.5h-22.6zM698.2 69.5l11.3 20.5h-22.6zM733.4 70.0l11.3 20.5h-22.6zM768.5 70.7l11.3 20.5h-22.6zM803.7 71.5l11.3 20.5h-22.6zM838.9 72.3l11.3 20.5h-22.6zM874.0 73.3l11.3 20.5h-22.6zM909.2 74.3l11.3 20.5h-22.6zM944.3 75.3l11.3 20.5h-22.6zM979.5 76.3l11.3 20.5h-22.6zM1014.7 77.5l11.3 20.5h-22.6zM1049.8 78.9l11.3 20.5h-22.6zM1085.0 80.4l11.3 20.5h-22.6zM1120.1 82.3l11.3 20.5h-22.6zM1155.3 84.5l11.3 20.5h-22.6zM1190.5 87.9l11.3 20.5h-22.6zM1225.6 96.2l11.3 20.5h-22.6zM1260.8 108.5l11.3 20.5h-22.6zM1295.9 120.2l11.3 20.5h-22.6zM1331.1 133.1l11.3 20.5h-22.6zM1366.3 147.4l11.3 20.5h-22.6zM1401.4 165.4l11.3 20.5h-22.6zM1436.6 184.3l11.3 20.5h-22.6zM1471.7 204.2l11.3 20.5h-22.6zM1506.9 227.9l11.3 20.5h-22.6zM1542.1 258.1l11.3 20.5h-22.6zM1577.2 292.4l11.3 20.5h-22.6zM1612.4 335.2l11.3 20.5h-22.6zM1647.5 376.4l11.3 20.5h-22.6zM1682.7 407.0l11.3 20.5h-22.6zM1717.9 424.6l11.3 20.5h-22.6zM1753.0 429.1l11.3 20.5h-22.6zM1788.2 430.4l11.3 20.5h-22.6zM1823.3 431.2l11.3 20.5h-22.6zM1858.5 431.7l11.3 20.5h-22.6zM1893.7 432.1l11.3 20.5h-22.6zM1928.8 432.5l11.3 20.5h-22.6zM1964.0 432.8l11.3 20.5h-22.6zM1999.1 433.2l11.3 20.5h-22.6zM2034.3 433.5l11.3 20.5h-22.6zM2069.5 433.7l11.3 20.5h-22.6zM2104.6 433.9l11.3 20.5h-22.6z" fill="#ff00ff"/>
<path d="M276.0 84.0 L278.0 84.0 L280.0 84.0 L282.0 84.0 L284.0 84.0 L286.0 83.9 L288.0 83.9 L290.0 83.9 L292.0 83.9 L294.0 83.8 L296.0 83.8 L298.0 83.7 L300.0 83.7 L302.0 83.6 L304.0 83.5 L306.0 83.3 L308.0 83.1 L310.0 83.0 L312.0 82.9 L314.0 82.8 L316.0 82.7 L318.0 82.6 L320.0 82.6 L322.0 82.5 L324.0 82.5 L326.0 82.4 L328.0 82.4 L330.0 82.3 L332.0 82.3 L334.0 82.2 L336.0 82.2 L338.0 82.1 L340.0 82.1 L342.0 82.1 L344.0 82.0 L346.0 82.0 L348.0 82.0 L350.0 81.9 L352.0 81.9 L354.0 81.8 L356.0 81.8 L358.0 81.8 L360.0 81.7 L362.0 81.7 L364.0 81.7 L366.0 81.6 L368.0 81.6 L370.0 81.6 L372.0 81.6 L374.0 81.5 L376.0 81.5 L378.0 81.5 L380.0 81.5 L382.0 81.5 L384.0 81.5 L386.0 81.5 L388.0 81.5 L390.0 81.5 L392.0 81.5 L394.0 81.5 L396.0 81.5 L398.0 81.5 L400.0 81.5 L402.0 81.5 L404.0 81.5 L406.0 81.5 L408.0 81.5 L410.0 81.5 L412.0 81.5 L414.0 81.5 L416.0 81.5 L418.0 81.5 L420.0 81.5 L422.0 81.5 L424.0 81.5 L426.0 81.5 L428.0 81.5 L430.0 81.5 L432.0 81.5 L434.0 81.5 L436.0 81.5 L438.0 81.5 L440.0 81.5 L442.0 81.5 L444.0 81.5 L446.0 81.5 L448.0 81.5 L450.0 81.5 L452.0 81.5 L454.0 81.5 L456.0 81.5 L458.0 81.5 L460.0 81.5 L462.0 81.6 L464.0 81.6 L466.0 81.6 L468.0 81.6 L470.0 81.6 L472.0 81.6 L474.0 81.6 L476.0 81.6 L478.0 81.6 L480.0 81.6 L482.0 81.6 L484.0 81.6 L486.0 81.6 L488.0 81.6 L490.0 81.6 L492.0 81.6 L494.0 81.6 L496.0 81.6 L498.0 81.6 L500.0 81.6 L502.0 81.6 L504.0 81.6 L506.0 81.6 L508.0 81.6 L510.0 81.6 L512.0 81.6 L514.0 81.6 L516.0 81.6 L518.0 81.6 L520.0 81.6 L522.0 81.6 L524.0 81.7 L526.0 81.7 L528.0 81.7 L530.0 81.7 L532.0 81.7 L534.0 81.7 L536.0 81.7 L538.0 81.7 L540.0 81.7 L542.0 81.7 L544.0 81.7 L546.0 81.7 L548.0 81.7 L550.0 81.8 L552.0 81.8 L554.0 81.8 L556.0 81.8 L558.0 81.8 L560.0 81.8 L562.0 81.8 L564.0 81.8 L566.0 81.8 L568.0 81.8 L570.0 81.9 L572.0 81.9 L574.0 81.9 L576.0 81.9 L578.0 81.9 L580.0 81.9 L582.0 81.9 L584.0 81.9 L586.0 81.9 L588.0 81.9 L590.0 82.0 L592.0 82.0 L594.0 82.0 L596.0 82.0 L598.0 82.0 L600.0 82.0 L602.0 82.0 L604.0 82.0 L606.0 82.0 L608.0 82.0 L610.0 82.0 L612.0 82.1 L614.0 82.1 L616.0 82.1 L618.0 82.1 L620.0 82.1 L622.0 82.1 L624.0 82.1 L626.0 82.1 L628.0 82.1 L630.0 82.2 L632.0 82.2 L634.0 82.2 L636.0 82.2 L638.0 82.2 L640.0 82.2 L642.0 82.2 L644.0 82.2 L646.0 82.2 L648.0 82.3 L650.0 82.3 L652.0 82.3 L654.0 82.3 L656.0 82.3 L658.0 82.3 L660.0 82.3 L662.0 82.4 L664.0 82.4 L666.0 82.4 L668.0 82.4 L670.0 82.4 L672.0 82.4 L674.0 82.4 L676.0 82.5 L678.0 82.5 L680.0 82.5 L682.0 82.5 L684.0 82.5 L686.0 82.6 L688.0 82.6 L690.0 82.6 L692.0 82.6 L694.0 82.7 L696.0 82.7 L698.0 82.7 L700.0 82.7 L702.0 82.8 L704.0 82.8 L706.0 82.8 L708.0 82.9 L710.0 82.9 L712.0 82.9 L714.0 83.0 L716.0 83.0 L718.0 83.0 L720.0 83.1 L722.0 83.1 L724.0 83.2 L726.0 83.2 L728.0 83.2 L730.0 83.3 L732.0 83.3 L734.0 83.3 L736.0 83.4 L738.0 83.4 L740.0 83.5 L742.0 83.5 L744.0 83.6 L746.0 83.6 L748.0 83.6 L750.0 83.7 L752.0 83.7 L754.0 83.8 L756.0 83.8 L758.0 83.8 L760.0 83.9 L762.0 83.9 L764.0 84.0 L766.0 84.0 L768.0 84.1 L770.0 84.1 L772.0 84.1 L774.0 84.2 L776.0 84.2 L778.0 84.3 L780.0 84.3 L782.0 84.3 L784.0 84.4 L786.0 84.4 L788.0 84.5 L790.0 84.5 L792.0 84.5 L794.0 84.6 L796.0 84.6 L798.0 84.7 L800.0 84.7 L802.0 84.7 L804.0 84.8 L806.0 84.8 L808.0 84.9 L810.0 84.9 L812.0 85.0 L814.0 85.0 L816.0 85.0 L818.0 85.1 L820.0 85.1 L822.0 85.2 L824.0 85.2 L826.0 85.3 L828.0 85.3 L830.0 85.3 L832.0 85.4 L834.0 85.4 L836.0 85.5 L838.0 85.5 L840.0 85.6 L842.0 85.6 L844.0 85.7 L846.0 85.7 L848.0 85.7 L850.0 85.8 L852.0 85.8 L854.0 85.9 L856.0 85.9 L858.0 86.0 L860.0 86.0 L862.0 86.1 L864.0 86.1 L866.0 86.2 L868.0 86.2 L870.0 86.3 L872.0 86.3 L874.0 86.3 L876.0 86.4 L878.0 86.4 L880.0 86.5 L882.0 86.5 L884.0 86.6 L886.0 86.6 L888.0 86.7 L890.0 86.7 L892.0 86.8 L894.0 86.8 L896.0 86.9 L898.0 86.9 L900.0 87.0 L902.0 87.0 L904.0 87.1 L906.0 87.1 L908.0 87.2 L910.0 87.2 L912.0 87.3 L914.0 87.3 L916.0 87.4 L918.0 87.4 L920.0 87.5 L922.0 87.5 L924.0 87.6 L926.0 87.7 L928.0 87.7 L930.0 87.8 L932.0 87.8 L934.0 87.9 L936.0 87.9 L938.0 88.0 L940.0 88.0 L942.0 88.1 L944.0 88.1 L946.0 88.2 L948.0 88.3 L950.0 88.3 L952.0 88.4 L954.0 88.4 L956.0 88.5 L958.0 88.5 L960.0 88.6 L962.0 88.7 L964.0 88.7 L966.0 88.8 L968.0 88.8 L970.0 88.9 L972.0 89.0 L974.0 89.0 L976.0 89.1 L978.0 89.1 L980.0 89.2 L982.0 89.3 L984.0 89.3 L986.0 89.4 L988.0 89.5 L990.0 89.5 L992.0 89.6 L994.0 89.7 L996.0 89.7 L998.0 89.8 L1000.0 89.8 L1002.0 89.9 L1004.0 90.0 L1006.0 90.0 L1008.0 90.1 L1010.0 90.2 L1012.0 90.2 L1014.0 90.3 L1016.0 90.4 L1018.0 90.4 L1020.0 90.5 L1022.0 90.6 L1024.0 90.7 L1026.0 90.7 L1028.0 90.8 L1030.0 90.9 L1032.0 90.9 L1034.0 91.0 L1036.0 91.1 L1038.0 91.1 L1040.0 91.2 L1042.0 91.3 L1044.0 91.3 L1046.0 91.4 L1048.0 91.5 L1050.0 91.5 L1052.0 91.6 L1054.0 91.7 L1056.0 91.7 L1058.0 91.8 L1060.0 91.9 L1062.0 91.9 L1064.0 92.0 L1066.0 92.1 L1068.0 92.1 L1070.0 92.2 L1072.0 92.3 L1074.0 92.3 L1076.0 92.4 L1078.0 92.5 L1080.0 92.5 L1082.0 92.6 L1084.0 92.6 L1086.0 92.7 L1088.0 92.8 L1090.0 92.8 L1092.0 92.9 L1094.0 93.0 L1096.0 93.1 L1098.0 93.1 L1100.0 93.2 L1102.0 93.3 L1104.0 93.4 L1106.0 93.4 L1108.0 93.5 L1110.0 93.6 L1112.0 93.7 L1114.0 93.8 L1116.0 93.9 L1118.0 93.9 L1120.0 94.0 L1122.0 94.1 L1124.0 94.2 L1126.0 94.3 L1128.0 94.4 L1130.0 94.6 L1132.0 94.7 L1134.0 94.8 L1136.0 94.9 L1138.0 95.0 L1140.0 95.1 L1142.0 95.2 L1144.0 95.4 L1146.0 95.5 L1148.0 95.6 L1150.0 95.7 L1152.0 95.9 L1154.0 96.0 L1156.0 96.1 L1158.0 96.2 L1160.0 96.4 L1162.0 96.5 L1164.0 96.6 L1166.0 96.7 L1168.0 96.8 L1170.0 97.0 L1172.0 97.1 L1174.0 97.2 L1176.0 97.4 L1178.0 97.5 L1180.0 97.7 L1182.0 97.8 L1184.0 98.0 L1186.0 98.2 L1188.0 98.4 L1190.0 98.6 L1192.0 98.8 L1194.0 99.1 L1196.0 99.3 L1198.0 99.6 L1200.0 100.0 L1202.0 100.3 L1204.0 100.7 L1206.0 101.0 L1208.0 101.4 L1210.0 101.8 L1212.0 102.3 L1214.0 102.7 L1216.0 103.2 L1218.0 103.6 L1220.0 104.1 L1222.0 104.6 L1224.0 105.1 L1226.0 105.6 L1228.0 106.1 L1230.0 106.6 L1232.0 107.2 L1234.0 107.9 L1236.0 108.5 L1238.0 109.2 L1240.0 109.9 L1242.0 110.6 L1244.0 111.3 L1246.0 112.0 L1248.0 112.8 L1250.0 113.5 L1252.0 114.3 L1254.0 115.0 L1256.0 115.8 L1258.0 116.5 L1260.0 117.2 L1262.0 117.9 L1264.0 118.7 L1266.0 119.5 L1268.0 120.2 L1270.0 121.0 L1272.0 121.8 L1274.0 122.6 L1276.0 123.4 L1278.0 124.2 L1280.0 125.0 L1282.0 125.7 L1284.0 126.5 L1286.0 127.3 L1288.0 128.1 L1290.0 128.8 L1292.0 129.5 L1294.0 130.3 L1296.0 131.0 L1298.0 131.7 L1300.0 132.3 L1302.0 133.0 L1304.0 133.6 L1306.0 134.3 L1308.0 134.9 L1310.0 135.5 L1312.0 136.1 L1314.0 136.8 L1316.0 137.4 L1318.0 138.0 L1320.0 138.6 L1322.0 139.3 L1324.0 139.9 L1326.0 140.6 L1328.0 141.2 L1330.0 141.9 L1332.0 142.6 L1334.0 143.3 L1336.0 144.0 L1338.0 144.7 L1340.0 145.4 L1342.0 146.1 L1344.0 146.9 L1346.0 147.6 L1348.0 148.3 L1350.0 149.1 L1352.0 149.8 L1354.0 150.6 L1356.0 151.4 L1358.0 152.2 L1360.0 153.0 L1362.0 153.8 L1364.0 154.7 L1366.0 155.6 L1368.0 156.5 L1370.0 157.4 L1372.0 158.4 L1374.0 159.3 L1376.0 160.3 L1378.0 161.4 L1380.0 162.4 L1382.0 163.5 L1384.0 164.5 L1386.0 165.6 L1388.0 166.7 L1390.0 167.8 L1392.0 168.9 L1394.0 170.0 L1396.0 171.1 L1398.0 172.2 L1400.0 173.2 L1402.0 174.3 L1404.0 175.4 L1406.0 176.4 L1408.0 177.5 L1410.0 178.6 L1412.0 179.7 L1414.0 180.8 L1416.0 181.8 L1418.0 182.9 L1420.0 184.0 L1422.0 185.1 L1424.0 186.2 L1426.0 187.3 L1428.0 188.4 L1430.0 189.5 L1432.0 190.7 L1434.0 191.8 L1436.0 192.9 L1438.0 194.0 L1440.0 195.1 L1442.0 196.3 L1444.0 197.4 L1446.0 198.5 L1448.0 199.6 L1450.0 200.7 L1452.0 201.9 L1454.0 203.0 L1456.0 204.1 L1458.0 205.3 L1460.0 206.4 L1462.0 207.6 L1464.0 208.8 L1466.0 210.0 L1468.0 211.2 L1470.0 212.4 L1472.0 213.7 L1474.0 214.9 L1476.0 216.2 L1478.0 217.4 L1480.0 218.7 L1482.0 220.0 L1484.0 221.2 L1486.0 222.5 L1488.0 223.9 L1490.0 225.2 L1492.0 226.5 L1494.0 227.9 L1496.0 229.3 L1498.0 230.7 L1500.0 232.1 L1502.0 233.5 L1504.0 235.0 L1506.0 236.5 L1508.0 238.0 L1510.0 239.6 L1512.0 241.2 L1514.0 242.8 L1516.0 244.4 L1518.0 246.1 L1520.0 247.8 L1522.0 249.5 L1524.0 251.3 L1526.0 253.1 L1528.0 254.8 L1530.0 256.6 L1532.0 258.4 L1534.0 260.2 L1536.0 262.0 L1538.0 263.9 L1540.0 265.7 L1542.0 267.5 L1544.0 269.3 L1546.0 271.1 L1548.0 273.0 L1550.0 274.8 L1552.0 276.6 L1554.0 278.5 L1556.0 280.3 L1558.0 282.2 L1560.0 284.1 L1562.0 286.0 L1564.0 287.9 L1566.0 289.9 L1568.0 291.9 L1570.0 293.9 L1572.0 296.0 L1574.0 298.0 L1576.0 300.2 L1578.0 302.3 L1580.0 304.6 L1582.0 306.9 L1584.0 309.2 L1586.0 311.6 L1588.0 314.0 L1590.0 316.4 L1592.0 318.9 L1594.0 321.4 L1596.0 323.9 L1598.0 326.5 L1600.0 329.0 L1602.0 331.5 L1604.0 334.1 L1606.0 336.6 L1608.0 339.1 L1610.0 341.6 L1612.0 344.1 L1614.0 346.5 L1616.0 349.0 L1618.0 351.5 L1620.0 353.9 L1622.0 356.4 L1624.0 358.9 L1626.0 361.4 L1628.0 363.9 L1630.0 366.4 L1632.0 368.9 L1634.0 371.4 L1636.0 373.8 L1638.0 376.2 L1640.0 378.6 L1642.0 381.0 L1644.0 383.3 L1646.0 385.6 L1648.0 387.9 L1650.0 390.2 L1652.0 392.5 L1654.0 394.7 L1656.0 397.0 L1658.0 399.3 L1660.0 401.5 L1662.0 403.8 L1664.0 406.0 L1666.0 408.1 L1668.0 410.2 L1670.0 412.3 L1672.0 414.4 L1674.0 416.3 L1676.0 418.3 L1678.0 420.1 L1680.0 421.9 L1682.0 423.6 L1684.0 425.2 L1686.0 426.9 L1688.0 428.4 L1690.0 430.0 L1692.0 431.4 L1694.0 432.8 L1696.0 434.1 L1698.0 435.4 L1700.0 436.6 L1702.0 437.8 L1704.0 438.9 L1706.0 440.0 L1708.0 441.1 L1710.0 442.1 L1712.0 443.0 L1714.0 443.8 L1716.0 444.5 L1718.0 445.1 L1720.0 445.6 L1722.0 446.0 L1724.0 446.4 L1726.0 446.8 L1728.0 447.1 L1730.0 447.4 L1732.0 447.7 L1734.0 448.0 L1736.0 448.4 L1738.0 448.7 L1740.0 449.0 L1742.0 449.3 L1744.0 449.6 L1746.0 449.9 L1748.0 450.2 L1750.0 450.4 L1752.0 450.6 L1754.0 450.8 L1756.0 450.9 L1758.0 451.0 L1760.0 451.2 L1762.0 451.3 L1764.0 451.4 L1766.0 451.5 L1768.0 451.6 L1770.0 451.8 L1772.0 451.9 L1774.0 451.9 L1776.0 452.0 L1778.0 452.1 L1780.0 452.2 L1782.0 452.3 L1784.0 452.4 L1786.0 452.5 L1788.0 452.5 L1790.0 452.6 L1792.0 452.7 L1794.0 452.8 L1796.0 452.9 L1798.0 452.9 L1800.0 453.0 L1802.0 453.1 L1804.0 453.1 L1806.0 453.2 L1808.0 453.3 L1810.0 453.3 L1812.0 453.4 L1814.0 453.5 L1816.0 453.5 L1818.0 453.6 L1820.0 453.6 L1822.0 453.7 L1824.0 453.7 L1826.0 453.8 L1828.0 453.8 L1830.0 453.9 L1832.0 453.9 L1834.0 454.0 L1836.0 454.0 L1838.0 454.1 L1840.0 454.1 L1842.0 454.2 L1844.0 454.2 L1846.0 454.3 L1848.0 454.3 L1850.0 454.4 L1852.0 454.4 L1854.0 454.5 L1856.0 454.5 L1858.0 454.6 L1860.0 454.6 L1862.0 454.7 L1864.0 454.7 L1866.0 454.7 L1868.0 454.8 L1870.0 454.8 L1872.0 454.9 L1874.0 454.9 L1876.0 455.0 L1878.0 455.0 L1880.0 455.0 L1882.0 455.1 L1884.0 455.1 L1886.0 455.2 L1888.0 455.2 L1890.0 455.2 L1892.0 455.3 L1894.0 455.3 L1896.0 455.4 L1898.0 455.4 L1900.0 455.4 L1902.0 455.5 L1904.0 455.5 L1906.0 455.5 L1908.0 455.6 L1910.0 455.6 L1912.0 455.6 L1914.0 455.7 L1916.0 455.7 L1918.0 455.7 L1920.0 455.8 L1922.0 455.8 L1924.0 455.8 L1926.0 455.8 L1928.0 455.9 L1930.0 455.9 L1932.0 455.9 L1934.0 456.0 L1936.0 456.0 L1938.0 456.0 L1940.0 456.0 L1942.0 456.1 L1944.0 456.1 L1946.0 456.1 L1948.0 456.1 L1950.0 456.2 L1952.0 456.2 L1954.0 456.2 L1956.0 456.2 L1958.0 456.3 L1960.0 456.3 L1962.0 456.3 L1964.0 456.3 L1966.0 456.4 L1968.0 456.4 L1970.0 456.4 L1972.0 456.4 L1974.0 456.5 L1976.0 456.5 L1978.0 456.5 L1980.0 456.5 L1982.0 456.5 L1984.0 456.6 L1986.0 456.6 L1988.0 456.6 L1990.0 456.6 L1992.0 456.6 L1994.0 456.7 L1996.0 456.7 L1998.0 456.7 L2000.0 456.7 L2002.0 456.7 L2004.0 456.8 L2006.0 456.8 L2008.0 456.8 L2010.0 456.8 L2012.0 456.8 L2014.0 456.9 L2016.0 456.9 L2018.0 456.9 L2020.0 456.9 L2022.0 456.9 L2024.0 457.0 L2026.0 457.0 L2028.0 457.0 L2030.0 457.0 L2032.0 457.0 L2034.0 457.0 L2036.0 457.1 L2038.0 457.1 L2040.0 457.1 L2042.0 457.1 L2044.0 457.1 L2046.0 457.1 L2048.0 457.1 L2050.0 457.2 L2052.0 457.2 L2054.0 457.2 L2056.0 457.2 L2058.0 457.2 L2060.0 457.2 L2062.0 457.2 L2064.0 457.3 L2066.0 457.3 L2068.0 457.3 L2070.0 457.3 L2072.0 457.3 L2074.0 457.3 L2076.0 457.3 L2078.0 457.3 L2080.0 457.4 L2082.0 457.4 L2084.0 457.4 L2086.0 457.4 L2088.0 457.4 L2090.0 457.4 L2092.0 457.4 L2094.0 457.4 L2096.0 457.4 L2098.0 457.4 L2100.0 457.5 L2102.0 457.5 L2104.0 457.5 L2106.0 457.5 L2108.0 457.5 L2110.0 457.5" fill="none" stroke="#0000ff" stroke-width="6.6" stroke-linejoin="round" stroke-linecap="butt"/>
<path d="M276.3 97.5l11.3 -20.5h-22.6zM311.5 96.4l11.3 -20.5h-22.6zM346.6 95.5l11.3 -20.5h-22.6zM381.8 95.0l11.3 -20.5h-22.6zM416.9 95.0l11.3 -20.5h-22.6zM452.1 95.0l11.3 -20.5h-22.6zM487.3 95.1l11.3 -20.5h-22.6zM522.4 95.2l11.3 -20.5h-22.6zM557.6 95.3l11.3 -20.5h-22.6zM592.7 95.5l11.3 -20.5h-22.6zM627.9 95.6l11.3 -20.5h-22.6zM663.1 95.9l11.3 -20.5h-22.6zM698.2 96.2l11.3 -20.5h-22.6zM733.4 96.8l11.3 -20.5h-22.6zM768.5 97.6l11.3 -20.5h-22.6zM803.7 98.3l11.3 -20.5h-22.6zM838.9 99.0l11.3 -20.5h-22.6zM874.0 99.8l11.3 -20.5h-22.6zM909.2 100.7l11.3 -20.5h-22.6zM944.3 101.7l11.3 -20.5h-22.6zM979.5 102.7l11.3 -20.5h-22.6zM1014.7 103.8l11.3 -20.5h-22.6zM1049.8 105.0l11.3 -20.5h-22.6zM1085.0 106.2l11.3 -20.5h-22.6zM1120.1 107.5l11.3 -20.5h-22.6zM1155.3 109.6l11.3 -20.5h-22.6zM1190.5 112.1l11.3 -20.5h-22.6zM1225.6 119.0l11.3 -20.5h-22.6zM1260.8 131.0l11.3 -20.5h-22.6zM1295.9 144.5l11.3 -20.5h-22.6zM1331.1 155.8l11.3 -20.5h-22.6zM1366.3 169.2l11.3 -20.5h-22.6zM1401.4 187.5l11.3 -20.5h-22.6zM1436.6 206.7l11.3 -20.5h-22.6zM1471.7 227.0l11.3 -20.5h-22.6zM1506.9 250.7l11.3 -20.5h-22.6zM1542.1 281.1l11.3 -20.5h-22.6zM1577.2 315.0l11.3 -20.5h-22.6zM1612.4 358.0l11.3 -20.5h-22.6zM1647.5 400.9l11.3 -20.5h-22.6zM1682.7 437.7l11.3 -20.5h-22.6zM1717.9 458.6l11.3 -20.5h-22.6zM1753.0 464.2l11.3 -20.5h-22.6zM1788.2 466.0l11.3 -20.5h-22.6zM1823.3 467.2l11.3 -20.5h-22.6zM1858.5 468.1l11.3 -20.5h-22.6zM1893.7 468.8l11.3 -20.5h-22.6zM1928.8 469.4l11.3 -20.5h-22.6zM1964.0 469.8l11.3 -20.5h-22.6zM1999.1 470.2l11.3 -20.5h-22.6zM2034.3 470.5l11.3 -20.5h-22.6zM2069.5 470.8l11.3 -20.5h-22.6zM2104.6 471.0l11.3 -20.5h-22.6z" fill="#0000ff"/>
<path d="M276.0 97.5 L278.0 96.3 L280.0 95.2 L282.0 94.3 L284.0 93.5 L286.0 92.9 L288.0 92.4 L290.0 91.9 L292.0 91.5 L294.0 91.2 L296.0 90.8 L298.0 90.6 L300.0 90.3 L302.0 90.1 L304.0 89.8 L306.0 89.6 L308.0 89.5 L310.0 89.3 L312.0 89.1 L314.0 89.0 L316.0 88.8 L318.0 88.7 L320.0 88.5 L322.0 88.4 L324.0 88.2 L326.0 88.1 L328.0 88.0 L330.0 87.9 L332.0 87.8 L334.0 87.6 L336.0 87.6 L338.0 87.5 L340.0 87.4 L342.0 87.3 L344.0 87.3 L346.0 87.2 L348.0 87.2 L350.0 87.1 L352.0 87.1 L354.0 87.0 L356.0 87.0 L358.0 86.9 L360.0 86.9 L362.0 86.9 L364.0 86.8 L366.0 86.8 L368.0 86.8 L370.0 86.8 L372.0 86.7 L374.0 86.7 L376.0 86.7 L378.0 86.7 L380.0 86.7 L382.0 86.7 L384.0 86.7 L386.0 86.7 L388.0 86.7 L390.0 86.7 L392.0 86.7 L394.0 86.8 L396.0 86.8 L398.0 86.8 L400.0 86.8 L402.0 86.8 L404.0 86.9 L406.0 86.9 L408.0 86.9 L410.0 86.9 L412.0 87.0 L414.0 87.0 L416.0 87.0 L418.0 87.0 L420.0 87.0 L422.0 87.1 L424.0 87.1 L426.0 87.1 L428.0 87.1 L430.0 87.2 L432.0 87.2 L434.0 87.2 L436.0 87.2 L438.0 87.3 L440.0 87.3 L442.0 87.3 L444.0 87.4 L446.0 87.4 L448.0 87.4 L450.0 87.5 L452.0 87.5 L454.0 87.5 L456.0 87.5 L458.0 87.6 L460.0 87.6 L462.0 87.6 L464.0 87.7 L466.0 87.7 L468.0 87.7 L470.0 87.8 L472.0 87.8 L474.0 87.8 L476.0 87.9 L478.0 87.9 L480.0 87.9 L482.0 87.9 L484.0 88.0 L486.0 88.0 L488.0 88.0 L490.0 88.1 L492.0 88.1 L494.0 88.1 L496.0 88.1 L498.0 88.2 L500.0 88.2 L502.0 88.2 L504.0 88.3 L506.0 88.3 L508.0 88.3 L510.0 88.3 L512.0 88.4 L514.0 88.4 L516.0 88.4 L518.0 88.5 L520.0 88.5 L522.0 88.5 L524.0 88.5 L526.0 88.6 L528.0 88.6 L530.0 88.6 L532.0 88.6 L534.0 88.7 L536.0 88.7 L538.0 88.7 L540.0 88.8 L542.0 88.8 L544.0 88.8 L546.0 88.8 L548.0 88.9 L550.0 88.9 L552.0 88.9 L554.0 89.0 L556.0 89.0 L558.0 89.0 L560.0 89.0 L562.0 89.1 L564.0 89.1 L566.0 89.1 L568.0 89.2 L570.0 89.2 L572.0 89.2 L574.0 89.2 L576.0 89.3 L578.0 89.3 L580.0 89.3 L582.0 89.4 L584.0 89.4 L586.0 89.4 L588.0 89.4 L590.0 89.5 L592.0 89.5 L594.0 89.5 L596.0 89.6 L598.0 89.6 L600.0 89.6 L602.0 89.7 L604.0 89.7 L606.0 89.7 L608.0 89.7 L610.0 89.8 L612.0 89.8 L614.0 89.8 L616.0 89.9 L618.0 89.9 L620.0 89.9 L622.0 89.9 L624.0 90.0 L626.0 90.0 L628.0 90.0 L630.0 90.1 L632.0 90.1 L634.0 90.1 L636.0 90.1 L638.0 90.2 L640.0 90.2 L642.0 90.2 L644.0 90.3 L646.0 90.3 L648.0 90.3 L650.0 90.4 L652.0 90.4 L654.0 90.4 L656.0 90.5 L658.0 90.5 L660.0 90.5 L662.0 90.6 L664.0 90.6 L666.0 90.6 L668.0 90.6 L670.0 90.7 L672.0 90.7 L674.0 90.7 L676.0 90.8 L678.0 90.8 L680.0 90.8 L682.0 90.8 L684.0 90.9 L686.0 90.9 L688.0 90.9 L690.0 90.9 L692.0 90.9 L694.0 91.0 L696.0 91.0 L698.0 91.0 L700.0 91.0 L702.0 91.0 L704.0 91.1 L706.0 91.1 L708.0 91.1 L710.0 91.1 L712.0 91.1 L714.0 91.1 L716.0 91.2 L718.0 91.2 L720.0 91.2 L722.0 91.2 L724.0 91.2 L726.0 91.2 L728.0 91.2 L730.0 91.2 L732.0 91.2 L734.0 91.3 L736.0 91.3 L738.0 91.3 L740.0 91.3 L742.0 91.3 L744.0 91.3 L746.0 91.3 L748.0 91.3 L750.0 91.4 L752.0 91.4 L754.0 91.4 L756.0 91.4 L758.0 91.4 L760.0 91.4 L762.0 91.5 L764.0 91.5 L766.0 91.5 L768.0 91.5 L770.0 91.5 L772.0 91.5 L774.0 91.6 L776.0 91.6 L778.0 91.6 L780.0 91.6 L782.0 91.7 L784.0 91.7 L786.0 91.7 L788.0 91.7 L790.0 91.8 L792.0 91.8 L794.0 91.8 L796.0 91.8 L798.0 91.9 L800.0 91.9 L802.0 91.9 L804.0 91.9 L806.0 92.0 L808.0 92.0 L810.0 92.0 L812.0 92.1 L814.0 92.1 L816.0 92.1 L818.0 92.2 L820.0 92.2 L822.0 92.2 L824.0 92.3 L826.0 92.3 L828.0 92.3 L830.0 92.4 L832.0 92.4 L834.0 92.4 L836.0 92.5 L838.0 92.5 L840.0 92.6 L842.0 92.6 L844.0 92.7 L846.0 92.7 L848.0 92.8 L850.0 92.8 L852.0 92.9 L854.0 92.9 L856.0 93.0 L858.0 93.1 L860.0 93.1 L862.0 93.2 L864.0 93.3 L866.0 93.3 L868.0 93.4 L870.0 93.5 L872.0 93.6 L874.0 93.6 L876.0 93.7 L878.0 93.8 L880.0 93.8 L882.0 93.9 L884.0 94.0 L886.0 94.1 L888.0 94.1 L890.0 94.2 L892.0 94.3 L894.0 94.4 L896.0 94.4 L898.0 94.5 L900.0 94.6 L902.0 94.6 L904.0 94.7 L906.0 94.7 L908.0 94.8 L910.0 94.9 L912.0 94.9 L914.0 95.0 L916.0 95.0 L918.0 95.1 L920.0 95.1 L922.0 95.2 L924.0 95.2 L926.0 95.3 L928.0 95.3 L930.0 95.4 L932.0 95.4 L934.0 95.5 L936.0 95.5 L938.0 95.6 L940.0 95.6 L942.0 95.7 L944.0 95.7 L946.0 95.8 L948.0 95.8 L950.0 95.9 L952.0 95.9 L954.0 96.0 L956.0 96.0 L958.0 96.1 L960.0 96.1 L962.0 96.2 L964.0 96.2 L966.0 96.3 L968.0 96.3 L970.0 96.4 L972.0 96.4 L974.0 96.5 L976.0 96.5 L978.0 96.6 L980.0 96.7 L982.0 96.7 L984.0 96.8 L986.0 96.8 L988.0 96.9 L990.0 96.9 L992.0 97.0 L994.0 97.0 L996.0 97.1 L998.0 97.1 L1000.0 97.2 L1002.0 97.2 L1004.0 97.3 L1006.0 97.4 L1008.0 97.4 L1010.0 97.5 L1012.0 97.5 L1014.0 97.6 L1016.0 97.7 L1018.0 97.7 L1020.0 97.8 L1022.0 97.9 L1024.0 98.0 L1026.0 98.1 L1028.0 98.2 L1030.0 98.3 L1032.0 98.4 L1034.0 98.4 L1036.0 98.5 L1038.0 98.6 L1040.0 98.7 L1042.0 98.8 L1044.0 98.9 L1046.0 98.9 L1048.0 99.0 L1050.0 99.1 L1052.0 99.1 L1054.0 99.2 L1056.0 99.2 L1058.0 99.3 L1060.0 99.3 L1062.0 99.3 L1064.0 99.4 L1066.0 99.4 L1068.0 99.5 L1070.0 99.5 L1072.0 99.6 L1074.0 99.6 L1076.0 99.7 L1078.0 99.7 L1080.0 99.8 L1082.0 99.8 L1084.0 99.9 L1086.0 100.0 L1088.0 100.1 L1090.0 100.2 L1092.0 100.3 L1094.0 100.4 L1096.0 100.6 L1098.0 100.7 L1100.0 100.9 L1102.0 101.0 L1104.0 101.2 L1106.0 101.3 L1108.0 101.5 L1110.0 101.7 L1112.0 101.8 L1114.0 102.0 L1116.0 102.1 L1118.0 102.2 L1120.0 102.4 L1122.0 102.5 L1124.0 102.6 L1126.0 102.7 L1128.0 102.8 L1130.0 102.9 L1132.0 103.1 L1134.0 103.2 L1136.0 103.3 L1138.0 103.4 L1140.0 103.5 L1142.0 103.6 L1144.0 103.7 L1146.0 103.8 L1148.0 103.9 L1150.0 104.1 L1152.0 104.2 L1154.0 104.3 L1156.0 104.4 L1158.0 104.5 L1160.0 104.6 L1162.0 104.7 L1164.0 104.9 L1166.0 105.0 L1168.0 105.1 L1170.0 105.2 L1172.0 105.3 L1174.0 105.4 L1176.0 105.5 L1178.0 105.7 L1180.0 105.8 L1182.0 105.9 L1184.0 106.1 L1186.0 106.2 L1188.0 106.4 L1190.0 106.6 L1192.0 106.8 L1194.0 107.0 L1196.0 107.3 L1198.0 107.6 L1200.0 107.9 L1202.0 108.3 L1204.0 108.6 L1206.0 109.0 L1208.0 109.4 L1210.0 109.8 L1212.0 110.3 L1214.0 110.7 L1216.0 111.2 L1218.0 111.6 L1220.0 112.1 L1222.0 112.6 L1224.0 113.1 L1226.0 113.5 L1228.0 114.1 L1230.0 114.6 L1232.0 115.2 L1234.0 115.8 L1236.0 116.4 L1238.0 117.0 L1240.0 117.7 L1242.0 118.3 L1244.0 119.0 L1246.0 119.7 L1248.0 120.4 L1250.0 121.2 L1252.0 121.9 L1254.0 122.6 L1256.0 123.4 L1258.0 124.2 L1260.0 124.9 L1262.0 125.7 L1264.0 126.5 L1266.0 127.3 L1268.0 128.2 L1270.0 129.0 L1272.0 129.9 L1274.0 130.8 L1276.0 131.7 L1278.0 132.6 L1280.0 133.5 L1282.0 134.5 L1284.0 135.5 L1286.0 136.4 L1288.0 137.4 L1290.0 138.5 L1292.0 139.5 L1294.0 140.5 L1296.0 141.6 L1298.0 142.6 L1300.0 143.8 L1302.0 144.9 L1304.0 146.1 L1306.0 147.3 L1308.0 148.5 L1310.0 149.8 L1312.0 151.0 L1314.0 152.3 L1316.0 153.6 L1318.0 154.9 L1320.0 156.2 L1322.0 157.5 L1324.0 158.8 L1326.0 160.0 L1328.0 161.3 L1330.0 162.6 L1332.0 163.9 L1334.0 165.1 L1336.0 166.4 L1338.0 167.7 L1340.0 169.1 L1342.0 170.4 L1344.0 171.7 L1346.0 173.0 L1348.0 174.3 L1350.0 175.7 L1352.0 177.0 L1354.0 178.3 L1356.0 179.5 L1358.0 180.8 L1360.0 182.1 L1362.0 183.3 L1364.0 184.5 L1366.0 185.6 L1368.0 186.8 L1370.0 187.9 L1372.0 189.0 L1374.0 190.1 L1376.0 191.2 L1378.0 192.2 L1380.0 193.3 L1382.0 194.3 L1384.0 195.4 L1386.0 196.4 L1388.0 197.4 L1390.0 198.5 L1392.0 199.5 L1394.0 200.6 L1396.0 201.6 L1398.0 202.7 L1400.0 203.8 L1402.0 204.9 L1404.0 206.0 L1406.0 207.2 L1408.0 208.3 L1410.0 209.4 L1412.0 210.6 L1414.0 211.7 L1416.0 212.9 L1418.0 214.0 L1420.0 215.2 L1422.0 216.3 L1424.0 217.5 L1426.0 218.7 L1428.0 219.8 L1430.0 221.0 L1432.0 222.2 L1434.0 223.3 L1436.0 224.5 L1438.0 225.6 L1440.0 226.8 L1442.0 227.9 L1444.0 229.0 L1446.0 230.1 L1448.0 231.2 L1450.0 232.4 L1452.0 233.5 L1454.0 234.6 L1456.0 235.8 L1458.0 236.9 L1460.0 238.1 L1462.0 239.3 L1464.0 240.5 L1466.0 241.8 L1468.0 243.0 L1470.0 244.3 L1472.0 245.7 L1474.0 247.1 L1476.0 248.5 L1478.0 249.9 L1480.0 251.4 L1482.0 252.9 L1484.0 254.5 L1486.0 256.1 L1488.0 257.7 L1490.0 259.3 L1492.0 260.9 L1494.0 262.5 L1496.0 264.1 L1498.0 265.8 L1500.0 267.4 L1502.0 269.1 L1504.0 270.7 L1506.0 272.3 L1508.0 273.9 L1510.0 275.5 L1512.0 277.1 L1514.0 278.7 L1516.0 280.2 L1518.0 281.8 L1520.0 283.4 L1522.0 285.0 L1524.0 286.6 L1526.0 288.3 L1528.0 289.9 L1530.0 291.6 L1532.0 293.3 L1534.0 295.1 L1536.0 296.8 L1538.0 298.7 L1540.0 300.5 L1542.0 302.5 L1544.0 304.4 L1546.0 306.5 L1548.0 308.6 L1550.0 310.7 L1552.0 312.9 L1554.0 315.1 L1556.0 317.3 L1558.0 319.6 L1560.0 321.9 L1562.0 324.3 L1564.0 326.6 L1566.0 329.0 L1568.0 331.4 L1570.0 333.9 L1572.0 336.3 L1574.0 338.7 L1576.0 341.2 L1578.0 343.7 L1580.0 346.2 L1582.0 348.8 L1584.0 351.4 L1586.0 354.1 L1588.0 356.8 L1590.0 359.5 L1592.0 362.2 L1594.0 365.0 L1596.0 367.7 L1598.0 370.5 L1600.0 373.3 L1602.0 376.0 L1604.0 378.8 L1606.0 381.5 L1608.0 384.2 L1610.0 386.9 L1612.0 389.5 L1614.0 392.2 L1616.0 394.8 L1618.0 397.5 L1620.0 400.2 L1622.0 402.9 L1624.0 405.6 L1626.0 408.3 L1628.0 411.0 L1630.0 413.6 L1632.0 416.2 L1634.0 418.8 L1636.0 421.4 L1638.0 423.9 L1640.0 426.3 L1642.0 428.6 L1644.0 430.9 L1646.0 433.2 L1648.0 435.3 L1650.0 437.4 L1652.0 439.5 L1654.0 441.6 L1656.0 443.6 L1658.0 445.6 L1660.0 447.6 L1662.0 449.5 L1664.0 451.4 L1666.0 453.3 L1668.0 455.1 L1670.0 456.8 L1672.0 458.6 L1674.0 460.2 L1676.0 461.8 L1678.0 463.4 L1680.0 464.9 L1682.0 466.4 L1684.0 467.8 L1686.0 469.2 L1688.0 470.7 L1690.0 472.1 L1692.0 473.5 L1694.0 474.9 L1696.0 476.3 L1698.0 477.6 L1700.0 478.9 L1702.0 480.1 L1704.0 481.3 L1706.0 482.4 L1708.0 483.4 L1710.0 484.3 L1712.0 485.2 L1714.0 485.9 L1716.0 486.5 L1718.0 487.0 L1720.0 487.5 L1722.0 488.0 L1724.0 488.4 L1726.0 488.8 L1728.0 489.2 L1730.0 489.5 L1732.0 489.9 L1734.0 490.2 L1736.0 490.5 L1738.0 490.8 L1740.0 491.0 L1742.0 491.3 L1744.0 491.5 L1746.0 491.7 L1748.0 491.9 L1750.0 492.1 L1752.0 492.3 L1754.0 492.5 L1756.0 492.6 L1758.0 492.8 L1760.0 492.9 L1762.0 493.1 L1764.0 493.2 L1766.0 493.3 L1768.0 493.4 L1770.0 493.5 L1772.0 493.6 L1774.0 493.7 L1776.0 493.8 L1778.0 493.9 L1780.0 494.0 L1782.0 494.1 L1784.0 494.2 L1786.0 494.3 L1788.0 494.5 L1790.0 494.6 L1792.0 494.7 L1794.0 494.8 L1796.0 494.9 L1798.0 495.0 L1800.0 495.1 L1802.0 495.2 L1804.0 495.3 L1806.0 495.5 L1808.0 495.6 L1810.0 495.7 L1812.0 495.8 L1814.0 495.8 L1816.0 495.9 L1818.0 496.0 L1820.0 496.1 L1822.0 496.2 L1824.0 496.2 L1826.0 496.3 L1828.0 496.3 L1830.0 496.4 L1832.0 496.5 L1834.0 496.5 L1836.0 496.5 L1838.0 496.6 L1840.0 496.6 L1842.0 496.7 L1844.0 496.7 L1846.0 496.8 L1848.0 496.8 L1850.0 496.8 L1852.0 496.9 L1854.0 496.9 L1856.0 497.0 L1858.0 497.0 L1860.0 497.0 L1862.0 497.1 L1864.0 497.1 L1866.0 497.1 L1868.0 497.2 L1870.0 497.2 L1872.0 497.2 L1874.0 497.3 L1876.0 497.3 L1878.0 497.3 L1880.0 497.4 L1882.0 497.4 L1884.0 497.4 L1886.0 497.5 L1888.0 497.5 L1890.0 497.5 L1892.0 497.6 L1894.0 497.6 L1896.0 497.7 L1898.0 497.7 L1900.0 497.8 L1902.0 497.9 L1904.0 498.0 L1906.0 498.0 L1908.0 498.1 L1910.0 498.2 L1912.0 498.3 L1914.0 498.3 L1916.0 498.4 L1918.0 498.5 L1920.0 498.6 L1922.0 498.6 L1924.0 498.7 L1926.0 498.7 L1928.0 498.8 L1930.0 498.8 L1932.0 498.9 L1934.0 498.9 L1936.0 498.9 L1938.0 499.0 L1940.0 499.0 L1942.0 499.0 L1944.0 499.1 L1946.0 499.1 L1948.0 499.1 L1950.0 499.1 L1952.0 499.2 L1954.0 499.2 L1956.0 499.2 L1958.0 499.2 L1960.0 499.3 L1962.0 499.3 L1964.0 499.3 L1966.0 499.3 L1968.0 499.4 L1970.0 499.4 L1972.0 499.4 L1974.0 499.5 L1976.0 499.5 L1978.0 499.5 L1980.0 499.6 L1982.0 499.6 L1984.0 499.6 L1986.0 499.6 L1988.0 499.7 L1990.0 499.7 L1992.0 499.7 L1994.0 499.7 L1996.0 499.8 L1998.0 499.8 L2000.0 499.8 L2002.0 499.8 L2004.0 499.9 L2006.0 499.9 L2008.0 499.9 L2010.0 499.9 L2012.0 500.0 L2014.0 500.0 L2016.0 500.0 L2018.0 500.0 L2020.0 500.1 L2022.0 500.1 L2024.0 500.1 L2026.0 500.1 L2028.0 500.1 L2030.0 500.2 L2032.0 500.2 L2034.0 500.2 L2036.0 500.2 L2038.0 500.2 L2040.0 500.3 L2042.0 500.3 L2044.0 500.3 L2046.0 500.3 L2048.0 500.3 L2050.0 500.4 L2052.0 500.4 L2054.0 500.4 L2056.0 500.4 L2058.0 500.4 L2060.0 500.4 L2062.0 500.5 L2064.0 500.5 L2066.0 500.5 L2068.0 500.5 L2070.0 500.5 L2072.0 500.5 L2074.0 500.5 L2076.0 500.5 L2078.0 500.5 L2080.0 500.5 L2082.0 500.5 L2084.0 500.6 L2086.0 500.6 L2088.0 500.6 L2090.0 500.6 L2092.0 500.6 L2094.0 500.6 L2096.0 500.6 L2098.0 500.6 L2100.0 500.6 L2102.0 500.6 L2104.0 500.6 L2106.0 500.6 L2108.0 500.6 L2110.0 500.6" fill="none" stroke="#ff0000" stroke-width="6.6" stroke-linejoin="round" stroke-linecap="butt"/>
<path d="M276.3 85.1l11.4 12.2l-11.4 12.2l-11.4 -12.2zM311.5 77.0l11.4 12.2l-11.4 12.2l-11.4 -12.2zM346.6 75.0l11.4 12.2l-11.4 12.2l-11.4 -12.2zM381.8 74.5l11.4 12.2l-11.4 12.2l-11.4 -12.2zM416.9 74.8l11.4 12.2l-11.4 12.2l-11.4 -12.2zM452.1 75.3l11.4 12.2l-11.4 12.2l-11.4 -12.2zM487.3 75.8l11.4 12.2l-11.4 12.2l-11.4 -12.2zM522.4 76.3l11.4 12.2l-11.4 12.2l-11.4 -12.2zM557.6 76.8l11.4 12.2l-11.4 12.2l-11.4 -12.2zM592.7 77.3l11.4 12.2l-11.4 12.2l-11.4 -12.2zM627.9 77.8l11.4 12.2l-11.4 12.2l-11.4 -12.2zM663.1 78.4l11.4 12.2l-11.4 12.2l-11.4 -12.2zM698.2 78.8l11.4 12.2l-11.4 12.2l-11.4 -12.2zM733.4 79.1l11.4 12.2l-11.4 12.2l-11.4 -12.2zM768.5 79.3l11.4 12.2l-11.4 12.2l-11.4 -12.2zM803.7 79.7l11.4 12.2l-11.4 12.2l-11.4 -12.2zM838.9 80.3l11.4 12.2l-11.4 12.2l-11.4 -12.2zM874.0 81.4l11.4 12.2l-11.4 12.2l-11.4 -12.2zM909.2 82.6l11.4 12.2l-11.4 12.2l-11.4 -12.2zM944.3 83.5l11.4 12.2l-11.4 12.2l-11.4 -12.2zM979.5 84.4l11.4 12.2l-11.4 12.2l-11.4 -12.2zM1014.7 85.4l11.4 12.2l-11.4 12.2l-11.4 -12.2zM1049.8 86.9l11.4 12.2l-11.4 12.2l-11.4 -12.2zM1085.0 87.7l11.4 12.2l-11.4 12.2l-11.4 -12.2zM1120.1 90.2l11.4 12.2l-11.4 12.2l-11.4 -12.2zM1155.3 92.2l11.4 12.2l-11.4 12.2l-11.4 -12.2zM1190.5 94.4l11.4 12.2l-11.4 12.2l-11.4 -12.2zM1225.6 101.3l11.4 12.2l-11.4 12.2l-11.4 -12.2zM1260.8 113.0l11.4 12.2l-11.4 12.2l-11.4 -12.2zM1295.9 129.3l11.4 12.2l-11.4 12.2l-11.4 -12.2zM1331.1 151.1l11.4 12.2l-11.4 12.2l-11.4 -12.2zM1366.3 173.6l11.4 12.2l-11.4 12.2l-11.4 -12.2zM1401.4 192.4l11.4 12.2l-11.4 12.2l-11.4 -12.2zM1436.6 212.6l11.4 12.2l-11.4 12.2l-11.4 -12.2zM1471.7 233.3l11.4 12.2l-11.4 12.2l-11.4 -12.2zM1506.9 260.8l11.4 12.2l-11.4 12.2l-11.4 -12.2zM1542.1 290.3l11.4 12.2l-11.4 12.2l-11.4 -12.2zM1577.2 330.5l11.4 12.2l-11.4 12.2l-11.4 -12.2zM1612.4 377.8l11.4 12.2l-11.4 12.2l-11.4 -12.2zM1647.5 422.6l11.4 12.2l-11.4 12.2l-11.4 -12.2zM1682.7 454.7l11.4 12.2l-11.4 12.2l-11.4 -12.2zM1717.9 474.8l11.4 12.2l-11.4 12.2l-11.4 -12.2zM1753.0 480.2l11.4 12.2l-11.4 12.2l-11.4 -12.2zM1788.2 482.3l11.4 12.2l-11.4 12.2l-11.4 -12.2zM1823.3 484.0l11.4 12.2l-11.4 12.2l-11.4 -12.2zM1858.5 484.8l11.4 12.2l-11.4 12.2l-11.4 -12.2zM1893.7 485.4l11.4 12.2l-11.4 12.2l-11.4 -12.2zM1928.8 486.6l11.4 12.2l-11.4 12.2l-11.4 -12.2zM1964.0 487.1l11.4 12.2l-11.4 12.2l-11.4 -12.2zM1999.1 487.6l11.4 12.2l-11.4 12.2l-11.4 -12.2zM2034.3 488.0l11.4 12.2l-11.4 12.2l-11.4 -12.2zM2069.5 488.3l11.4 12.2l-11.4 12.2l-11.4 -12.2zM2104.6 488.4l11.4 12.2l-11.4 12.2l-11.4 -12.2z" fill="#ff0000"/>
<path d="M276.0 90.4 L278.0 90.3 L280.0 90.3 L282.0 90.2 L284.0 90.1 L286.0 90.1 L288.0 90.0 L290.0 90.0 L292.0 89.9 L294.0 89.9 L296.0 89.8 L298.0 89.8 L300.0 89.7 L302.0 89.7 L304.0 89.7 L306.0 89.7 L308.0 89.6 L310.0 89.6 L312.0 89.6 L314.0 89.6 L316.0 89.6 L318.0 89.6 L320.0 89.6 L322.0 89.6 L324.0 89.6 L326.0 89.6 L328.0 89.6 L330.0 89.6 L332.0 89.6 L334.0 89.6 L336.0 89.6 L338.0 89.7 L340.0 89.7 L342.0 89.7 L344.0 89.7 L346.0 89.7 L348.0 89.7 L350.0 89.7 L352.0 89.7 L354.0 89.7 L356.0 89.8 L358.0 89.8 L360.0 89.8 L362.0 89.8 L364.0 89.8 L366.0 89.8 L368.0 89.8 L370.0 89.9 L372.0 89.9 L374.0 89.9 L376.0 90.0 L378.1 90.0 L380.1 90.0 L382.1 90.1 L384.1 90.1 L386.1 90.1 L388.1 90.2 L390.1 90.2 L392.1 90.2 L394.1 90.3 L396.1 90.3 L398.1 90.4 L400.1 90.4 L402.1 90.4 L404.1 90.5 L406.1 90.5 L408.1 90.5 L410.1 90.6 L412.1 90.6 L414.1 90.6 L416.1 90.6 L418.1 90.7 L420.1 90.7 L422.1 90.7 L424.1 90.8 L426.1 90.8 L428.1 90.8 L430.1 90.8 L432.1 90.9 L434.1 90.9 L436.1 90.9 L438.1 91.0 L440.1 91.0 L442.1 91.0 L444.1 91.0 L446.1 91.0 L448.1 91.1 L450.1 91.1 L452.1 91.1 L454.1 91.1 L456.1 91.1 L458.1 91.2 L460.1 91.2 L462.1 91.2 L464.1 91.2 L466.1 91.2 L468.1 91.2 L470.1 91.2 L472.1 91.2 L474.1 91.3 L476.1 91.3 L478.1 91.3 L480.1 91.3 L482.1 91.3 L484.1 91.3 L486.1 91.3 L488.1 91.3 L490.1 91.3 L492.1 91.3 L494.1 91.3 L496.1 91.3 L498.1 91.3 L500.1 91.3 L502.1 91.3 L504.1 91.4 L506.1 91.4 L508.1 91.4 L510.1 91.4 L512.1 91.4 L514.1 91.4 L516.1 91.4 L518.1 91.5 L520.1 91.5 L522.1 91.5 L524.1 91.6 L526.1 91.6 L528.1 91.6 L530.1 91.7 L532.1 91.7 L534.1 91.8 L536.1 91.8 L538.1 91.9 L540.1 91.9 L542.1 91.9 L544.1 92.0 L546.1 92.0 L548.1 92.1 L550.1 92.1 L552.1 92.1 L554.1 92.2 L556.1 92.2 L558.1 92.2 L560.1 92.2 L562.1 92.2 L564.1 92.3 L566.1 92.3 L568.1 92.3 L570.1 92.3 L572.1 92.3 L574.1 92.3 L576.1 92.3 L578.2 92.3 L580.2 92.3 L582.2 92.4 L584.2 92.4 L586.2 92.4 L588.2 92.4 L590.2 92.4 L592.2 92.4 L594.2 92.4 L596.2 92.4 L598.2 92.5 L600.2 92.5 L602.2 92.5 L604.2 92.5 L606.2 92.5 L608.2 92.6 L610.2 92.6 L612.2 92.6 L614.2 92.6 L616.2 92.7 L618.2 92.7 L620.2 92.7 L622.2 92.8 L624.2 92.8 L626.2 92.8 L628.2 92.9 L630.2 92.9 L632.2 93.0 L634.2 93.0 L636.2 93.0 L638.2 93.1 L640.2 93.1 L642.2 93.1 L644.2 93.2 L646.2 93.2 L648.2 93.2 L650.2 93.3 L652.2 93.3 L654.2 93.3 L656.2 93.4 L658.2 93.4 L660.2 93.4 L662.2 93.5 L664.2 93.5 L666.2 93.5 L668.2 93.6 L670.2 93.6 L672.2 93.6 L674.2 93.6 L676.2 93.7 L678.2 93.7 L680.2 93.7 L682.2 93.7 L684.2 93.8 L686.2 93.8 L688.2 93.8 L690.2 93.8 L692.2 93.8 L694.2 93.8 L696.2 93.8 L698.2 93.9 L700.2 93.9 L702.2 93.9 L704.2 93.9 L706.2 93.9 L708.2 93.9 L710.2 93.9 L712.2 93.9 L714.2 93.9 L716.2 93.9 L718.2 93.9 L720.2 93.9 L722.2 93.9 L724.2 94.0 L726.2 94.0 L728.2 94.0 L730.2 94.0 L732.2 94.0 L734.2 94.0 L736.2 94.1 L738.2 94.1 L740.2 94.1 L742.2 94.2 L744.2 94.3 L746.2 94.3 L748.2 94.4 L750.2 94.4 L752.2 94.5 L754.2 94.6 L756.2 94.7 L758.2 94.7 L760.2 94.8 L762.2 94.9 L764.2 94.9 L766.2 95.0 L768.2 95.1 L770.2 95.1 L772.2 95.2 L774.2 95.2 L776.2 95.3 L778.3 95.3 L780.3 95.3 L782.3 95.4 L784.3 95.4 L786.3 95.5 L788.3 95.5 L790.3 95.6 L792.3 95.6 L794.3 95.6 L796.3 95.7 L798.3 95.7 L800.3 95.7 L802.3 95.8 L804.3 95.8 L806.3 95.9 L808.3 95.9 L810.3 95.9 L812.3 95.9 L814.3 96.0 L816.3 96.0 L818.3 96.0 L820.3 96.0 L822.3 96.1 L824.3 96.1 L826.3 96.1 L828.3 96.1 L830.3 96.1 L832.3 96.2 L834.3 96.2 L836.3 96.2 L838.3 96.2 L840.3 96.2 L842.3 96.2 L844.3 96.2 L846.3 96.3 L848.3 96.3 L850.3 96.3 L852.3 96.3 L854.3 96.3 L856.3 96.4 L858.3 96.4 L860.3 96.4 L862.3 96.5 L864.3 96.5 L866.3 96.5 L868.3 96.6 L870.3 96.7 L872.3 96.7 L874.3 96.8 L876.3 96.8 L878.3 96.9 L880.3 97.0 L882.3 97.0 L884.3 97.1 L886.3 97.1 L888.3 97.2 L890.3 97.3 L892.3 97.3 L894.3 97.4 L896.3 97.5 L898.3 97.5 L900.3 97.6 L902.3 97.6 L904.3 97.7 L906.3 97.7 L908.3 97.8 L910.3 97.8 L912.3 97.9 L914.3 97.9 L916.3 97.9 L918.3 98.0 L920.3 98.0 L922.3 98.1 L924.3 98.1 L926.3 98.2 L928.3 98.2 L930.3 98.2 L932.3 98.3 L934.3 98.3 L936.3 98.4 L938.3 98.4 L940.3 98.5 L942.3 98.6 L944.3 98.6 L946.3 98.7 L948.3 98.8 L950.3 98.8 L952.3 98.9 L954.3 99.0 L956.3 99.1 L958.3 99.2 L960.3 99.3 L962.3 99.4 L964.3 99.5 L966.3 99.6 L968.3 99.7 L970.3 99.8 L972.3 99.9 L974.3 100.0 L976.3 100.1 L978.3 100.2 L980.4 100.3 L982.4 100.4 L984.4 100.5 L986.4 100.6 L988.4 100.7 L990.4 100.8 L992.4 100.9 L994.4 100.9 L996.4 101.0 L998.4 101.1 L1000.4 101.2 L1002.4 101.2 L1004.4 101.3 L1006.4 101.4 L1008.4 101.5 L1010.4 101.5 L1012.4 101.6 L1014.4 101.7 L1016.4 101.8 L1018.4 101.9 L1020.4 101.9 L1022.4 102.0 L1024.4 102.1 L1026.4 102.2 L1028.4 102.3 L1030.4 102.4 L1032.4 102.5 L1034.4 102.6 L1036.4 102.7 L1038.4 102.8 L1040.4 102.9 L1042.4 103.0 L1044.4 103.1 L1046.4 103.2 L1048.4 103.3 L1050.4 103.4 L1052.4 103.5 L1054.4 103.6 L1056.4 103.7 L1058.4 103.8 L1060.4 104.0 L1062.4 104.1 L1064.4 104.2 L1066.4 104.3 L1068.4 104.4 L1070.4 104.6 L1072.4 104.7 L1074.4 104.8 L1076.4 104.9 L1078.4 105.1 L1080.4 105.2 L1082.4 105.3 L1084.4 105.4 L1086.4 105.6 L1088.4 105.7 L1090.4 105.8 L1092.4 106.0 L1094.4 106.1 L1096.4 106.3 L1098.4 106.4 L1100.4 106.6 L1102.4 106.7 L1104.4 106.9 L1106.4 107.1 L1108.4 107.3 L1110.4 107.5 L1112.4 107.7 L1114.4 107.9 L1116.4 108.1 L1118.4 108.3 L1120.4 108.6 L1122.4 108.8 L1124.4 109.1 L1126.4 109.4 L1128.4 109.7 L1130.4 110.0 L1132.4 110.4 L1134.4 110.7 L1136.4 111.0 L1138.4 111.4 L1140.4 111.8 L1142.4 112.1 L1144.4 112.5 L1146.4 112.9 L1148.4 113.3 L1150.4 113.7 L1152.4 114.1 L1154.4 114.5 L1156.4 114.9 L1158.4 115.4 L1160.4 115.8 L1162.4 116.3 L1164.4 116.8 L1166.4 117.4 L1168.4 117.9 L1170.4 118.5 L1172.4 119.1 L1174.4 119.6 L1176.4 120.2 L1178.4 120.8 L1180.5 121.4 L1182.5 122.0 L1184.5 122.6 L1186.5 123.2 L1188.5 123.7 L1190.5 124.3 L1192.5 124.8 L1194.5 125.4 L1196.5 125.9 L1198.5 126.4 L1200.5 126.8 L1202.5 127.3 L1204.5 127.8 L1206.5 128.3 L1208.5 128.7 L1210.5 129.2 L1212.5 129.7 L1214.5 130.1 L1216.5 130.6 L1218.5 131.0 L1220.5 131.5 L1222.5 131.9 L1224.5 132.3 L1226.5 132.8 L1228.5 133.2 L1230.5 133.6 L1232.5 134.0 L1234.5 134.4 L1236.5 134.8 L1238.5 135.2 L1240.5 135.5 L1242.5 135.9 L1244.5 136.2 L1246.5 136.6 L1248.5 136.9 L1250.5 137.2 L1252.5 137.5 L1254.5 137.8 L1256.5 138.1 L1258.5 138.4 L1260.5 138.7 L1262.5 139.0 L1264.5 139.3 L1266.5 139.6 L1268.5 139.9 L1270.5 140.3 L1272.5 140.6 L1274.5 141.0 L1276.5 141.4 L1278.5 141.8 L1280.5 142.2 L1282.5 142.6 L1284.5 143.1 L1286.5 143.6 L1288.5 144.1 L1290.5 144.6 L1292.5 145.2 L1294.5 145.8 L1296.5 146.4 L1298.5 147.0 L1300.5 147.6 L1302.5 148.2 L1304.5 148.9 L1306.5 149.6 L1308.5 150.3 L1310.5 151.0 L1312.5 151.7 L1314.5 152.4 L1316.5 153.2 L1318.5 153.9 L1320.5 154.7 L1322.5 155.5 L1324.5 156.2 L1326.5 157.1 L1328.5 157.9 L1330.5 158.8 L1332.5 159.7 L1334.5 160.7 L1336.5 161.6 L1338.5 162.6 L1340.5 163.7 L1342.5 164.7 L1344.5 165.8 L1346.5 166.8 L1348.5 167.9 L1350.5 169.0 L1352.5 170.1 L1354.5 171.2 L1356.5 172.4 L1358.5 173.5 L1360.5 174.7 L1362.5 175.8 L1364.5 176.9 L1366.5 178.1 L1368.5 179.3 L1370.5 180.5 L1372.5 181.7 L1374.5 182.9 L1376.5 184.1 L1378.5 185.4 L1380.6 186.6 L1382.6 187.9 L1384.6 189.2 L1386.6 190.5 L1388.6 191.8 L1390.6 193.1 L1392.6 194.5 L1394.6 195.8 L1396.6 197.2 L1398.6 198.5 L1400.6 199.9 L1402.6 201.3 L1404.6 202.6 L1406.6 204.0 L1408.6 205.4 L1410.6 206.8 L1412.6 208.2 L1414.6 209.6 L1416.6 211.1 L1418.6 212.5 L1420.6 213.9 L1422.6 215.4 L1424.6 216.8 L1426.6 218.3 L1428.6 219.8 L1430.6 221.3 L1432.6 222.8 L1434.6 224.3 L1436.6 225.9 L1438.6 227.5 L1440.6 229.1 L1442.6 230.7 L1444.6 232.3 L1446.6 234.0 L1448.6 235.7 L1450.6 237.4 L1452.6 239.2 L1454.6 241.0 L1456.6 242.8 L1458.6 244.7 L1460.6 246.6 L1462.6 248.5 L1464.6 250.5 L1466.6 252.5 L1468.6 254.5 L1470.6 256.5 L1472.6 258.6 L1474.6 260.6 L1476.6 262.7 L1478.6 264.9 L1480.6 267.0 L1482.6 269.1 L1484.6 271.3 L1486.6 273.5 L1488.6 275.7 L1490.6 277.9 L1492.6 280.1 L1494.6 282.3 L1496.6 284.6 L1498.6 286.8 L1500.6 289.1 L1502.6 291.3 L1504.6 293.6 L1506.6 295.9 L1508.6 298.2 L1510.6 300.6 L1512.6 303.0 L1514.6 305.4 L1516.6 307.8 L1518.6 310.3 L1520.6 312.9 L1522.6 315.4 L1524.6 318.1 L1526.6 320.8 L1528.6 323.5 L1530.6 326.3 L1532.6 329.1 L1534.6 332.0 L1536.6 335.1 L1538.6 338.2 L1540.6 341.5 L1542.6 344.9 L1544.6 348.4 L1546.6 352.1 L1548.6 356.0 L1550.6 360.0 L1552.6 364.4 L1554.6 368.9 L1556.6 373.5 L1558.6 378.2 L1560.6 382.9 L1562.6 387.5 L1564.6 391.9 L1566.6 396.1 L1568.6 400.3 L1570.6 404.7 L1572.6 409.3 L1574.6 414.4 L1576.6 420.2 L1578.6 426.9 L1580.6 434.7 L1582.7 443.3 L1584.7 452.4 L1586.7 461.8 L1588.7 471.3 L1590.7 480.6 L1592.7 489.5 L1594.7 498.1 L1596.7 506.6 L1598.7 515.2 L1600.7 523.8 L1602.7 532.6 L1604.7 541.7 L1606.7 551.2 L1608.7 560.9 L1610.7 570.8 L1612.7 580.9 L1614.7 590.9 L1616.7 600.9 L1618.7 610.6 L1620.7 620.3 L1622.7 630.6 L1624.7 641.4 L1626.7 652.5 L1628.7 663.6 L1630.7 674.3 L1632.7 684.8 L1634.7 695.2 L1636.7 705.4 L1638.7 715.2 L1640.7 724.5 L1642.7 733.2 L1644.7 741.4 L1646.7 749.3 L1648.7 756.9 L1650.7 764.4 L1652.7 771.7 L1654.7 778.7 L1656.7 785.6 L1658.7 792.1 L1660.7 798.6 L1662.7 805.0 L1664.7 811.2 L1666.7 816.8 L1668.7 821.5 L1670.7 825.4 L1672.7 828.9 L1674.7 831.8 L1676.7 834.3 L1678.7 836.6 L1680.7 838.5 L1682.7 839.8 L1684.7 840.8 L1686.7 841.7 L1688.7 842.4 L1690.7 843.1 L1692.7 843.7 L1694.7 844.1 L1696.7 844.3 L1698.7 844.4 L1700.7 844.4 L1702.7 844.4 L1704.7 844.5 L1706.7 844.5 L1708.7 844.5 L1710.7 844.5 L1712.7 844.5 L1714.7 844.5 L1716.7 844.5 L1718.7 844.5 L1720.7 844.5 L1722.7 844.5 L1724.7 844.5 L1726.7 844.5 L1728.7 844.5 L1730.7 844.6 L1732.7 844.6 L1734.7 844.6 L1736.7 844.6 L1738.7 844.6 L1740.7 844.6 L1742.7 844.6 L1744.7 844.6 L1746.7 844.6 L1748.7 844.7 L1750.7 844.7 L1752.7 844.7 L1754.7 844.7 L1756.7 844.7 L1758.7 844.7 L1760.7 844.8 L1762.7 844.8 L1764.7 844.8 L1766.7 844.8 L1768.7 844.8 L1770.7 844.9 L1772.7 844.9 L1774.7 844.9 L1776.7 844.9 L1778.7 844.9 L1780.7 845.0 L1782.8 845.0 L1784.8 845.0 L1786.8 845.0 L1788.8 845.0 L1790.8 845.1 L1792.8 845.1 L1794.8 845.1 L1796.8 845.1 L1798.8 845.2 L1800.8 845.2 L1802.8 845.2 L1804.8 845.2 L1806.8 845.3 L1808.8 845.3 L1810.8 845.3 L1812.8 845.3 L1814.8 845.4 L1816.8 845.4 L1818.8 845.4 L1820.8 845.4 L1822.8 845.5 L1824.8 845.5 L1826.8 845.5 L1828.8 845.5 L1830.8 845.5 L1832.8 845.5 L1834.8 845.5 L1836.8 845.6 L1838.8 845.6 L1840.8 845.6 L1842.8 845.6 L1844.8 845.6 L1846.8 845.6 L1848.8 845.6 L1850.8 845.6 L1852.8 845.7 L1854.8 845.7 L1856.8 845.7 L1858.8 845.7 L1860.8 845.7 L1862.8 845.7 L1864.8 845.7 L1866.8 845.7 L1868.8 845.7 L1870.8 845.7 L1872.8 845.7 L1874.8 845.7 L1876.8 845.7 L1878.8 845.7 L1880.8 845.7 L1882.8 845.7 L1884.8 845.7 L1886.8 845.7 L1888.8 845.7 L1890.8 845.7 L1892.8 845.7 L1894.8 845.7 L1896.8 845.7 L1898.8 845.7 L1900.8 845.7 L1902.8 845.7 L1904.8 845.7 L1906.8 845.7 L1908.8 845.7 L1910.8 845.7 L1912.8 845.7 L1914.8 845.7 L1916.8 845.7 L1918.8 845.7 L1920.8 845.7 L1922.8 845.7 L1924.8 845.7 L1926.8 845.7 L1928.8 845.7 L1930.8 845.7 L1932.8 845.7 L1934.8 845.7 L1936.8 845.7 L1938.8 845.7 L1940.8 845.7 L1942.8 845.7 L1944.8 845.7 L1946.8 845.7 L1948.8 845.7 L1950.8 845.7 L1952.8 845.7 L1954.8 845.7 L1956.8 845.7 L1958.8 845.7 L1960.8 845.7 L1962.8 845.7 L1964.8 845.7 L1966.8 845.7 L1968.8 845.7 L1970.8 845.7 L1972.8 845.7 L1974.8 845.7 L1976.8 845.7 L1978.8 845.7 L1980.8 845.7 L1982.9 845.7 L1984.9 845.7 L1986.9 845.7 L1988.9 845.7 L1990.9 845.7 L1992.9 845.7 L1994.9 845.7 L1996.9 845.7 L1998.9 845.7 L2000.9 845.7 L2002.9 845.7 L2004.9 845.7 L2006.9 845.7 L2008.9 845.7 L2010.9 845.7 L2012.9 845.7 L2014.9 845.7 L2016.9 845.7 L2018.9 845.7 L2020.9 845.7 L2022.9 845.7 L2024.9 845.7 L2026.9 845.7 L2028.9 845.7 L2030.9 845.7 L2032.9 845.7 L2034.9 845.7 L2036.9 845.7 L2038.9 845.7 L2040.9 845.7 L2042.9 845.7 L2044.9 845.7 L2046.9 845.7 L2048.9 845.7 L2050.9 845.7 L2052.9 845.7 L2054.9 845.7 L2056.9 845.7 L2058.9 845.7 L2060.9 845.7 L2062.9 845.7 L2064.9 845.7 L2066.9 845.7 L2068.9 845.7 L2070.9 845.7 L2072.9 845.7 L2074.9 845.7 L2076.9 845.7 L2078.9 845.7 L2080.9 845.7 L2082.9 845.7" fill="none" stroke="#000000" stroke-width="6.2" stroke-linejoin="round" stroke-linecap="butt"/>
<path d="M305.9 81.3h16.6v16.6h-16.6zM354.6 81.5h16.6v16.6h-16.6zM404.2 82.3h16.6v16.6h-16.6zM455.0 82.9h16.6v16.6h-16.6zM503.0 83.1h16.6v16.6h-16.6zM549.4 83.9h16.6v16.6h-16.6zM595.0 84.2h16.6v16.6h-16.6zM638.2 84.9h16.6v16.6h-16.6zM680.4 85.5h16.6v16.6h-16.6zM723.2 85.7h16.6v16.6h-16.6zM765.4 86.9h16.6v16.6h-16.6zM808.2 87.7h16.6v16.6h-16.6zM850.2 88.1h16.6v16.6h-16.6zM893.0 89.3h16.6v16.6h-16.6zM935.2 90.3h16.6v16.6h-16.6zM977.9 92.3h16.6v16.6h-16.6zM1020.2 94.0h16.6v16.6h-16.6zM1062.7 96.3h16.6v16.6h-16.6zM1104.6 99.4h16.6v16.6h-16.6zM1146.2 106.2h16.6v16.6h-16.6zM1189.1 117.8h16.6v16.6h-16.6zM1230.3 126.9h16.6v16.6h-16.6zM1272.3 133.9h16.6v16.6h-16.6zM1315.1 147.5h16.6v16.6h-16.6zM1356.0 168.5h16.6v16.6h-16.6zM1398.5 195.9h16.6v16.6h-16.6zM1441.2 228.2h16.6v16.6h-16.6zM1483.3 270.7h16.6v16.6h-16.6zM1526.1 323.4h16.6v16.6h-16.6zM1568.1 411.1h16.6v16.6h-16.6zM1613.4 617.2h16.6v16.6h-16.6zM1660.2 812.8h16.6v16.6h-16.6zM1689.8 836.1h16.6v16.6h-16.6zM1732.8 836.3h16.6v16.6h-16.6zM1776.9 836.7h16.6v16.6h-16.6zM1820.2 837.2h16.6v16.6h-16.6zM1862.1 837.4h16.6v16.6h-16.6zM1904.9 837.4h16.6v16.6h-16.6zM1946.9 837.4h16.6v16.6h-16.6zM1989.9 837.4h16.6v16.6h-16.6zM2032.1 837.4h16.6v16.6h-16.6zM2074.6 837.4h16.6v16.6h-16.6z" fill="#000000"/>
</g>
<g>
<path d="M276.0 1359.0 L278.0 1358.3 L280.0 1357.7 L282.0 1357.0 L284.0 1356.4 L286.0 1355.8 L288.0 1355.3 L290.0 1354.8 L292.0 1354.3 L294.0 1353.9 L296.0 1353.5 L298.0 1353.1 L300.0 1352.7 L302.0 1352.3 L304.0 1351.9 L306.0 1351.6 L308.0 1351.3 L310.0 1351.0 L312.0 1350.7 L314.0 1350.4 L316.0 1350.1 L318.0 1349.8 L320.0 1349.5 L322.0 1349.3 L324.0 1349.0 L326.0 1348.7 L328.0 1348.5 L330.0 1348.3 L332.0 1348.0 L334.0 1347.8 L336.0 1347.6 L338.0 1347.4 L340.0 1347.2 L342.0 1347.0 L344.0 1346.8 L346.0 1346.6 L348.0 1346.4 L350.0 1346.2 L352.0 1346.1 L354.0 1345.9 L356.0 1345.7 L358.0 1345.5 L360.0 1345.4 L362.0 1345.2 L364.0 1345.0 L366.0 1344.9 L368.0 1344.7 L370.0 1344.6 L372.0 1344.5 L374.0 1344.4 L376.0 1344.2 L378.0 1344.1 L380.0 1344.0 L382.0 1344.0 L384.0 1343.9 L386.0 1343.8 L388.0 1343.7 L390.0 1343.7 L392.0 1343.6 L394.0 1343.6 L396.0 1343.5 L398.0 1343.4 L400.0 1343.4 L402.0 1343.3 L404.0 1343.3 L406.0 1343.2 L408.0 1343.2 L410.0 1343.1 L412.0 1343.1 L414.0 1343.1 L416.0 1343.0 L418.0 1342.9 L420.0 1342.9 L422.0 1342.8 L424.0 1342.8 L426.0 1342.8 L428.0 1342.7 L430.0 1342.7 L432.0 1342.6 L434.0 1342.6 L436.0 1342.5 L438.0 1342.5 L440.0 1342.4 L442.0 1342.4 L444.0 1342.3 L446.0 1342.3 L448.0 1342.3 L450.0 1342.2 L452.0 1342.2 L454.0 1342.1 L456.0 1342.1 L458.0 1342.1 L460.0 1342.0 L462.0 1342.0 L464.0 1341.9 L466.0 1341.9 L468.0 1341.9 L470.0 1341.8 L472.0 1341.8 L474.0 1341.8 L476.0 1341.7 L478.0 1341.7 L480.0 1341.7 L482.0 1341.6 L484.0 1341.6 L486.0 1341.6 L488.0 1341.5 L490.0 1341.5 L492.0 1341.5 L494.0 1341.5 L496.0 1341.4 L498.0 1341.4 L500.0 1341.4 L502.0 1341.4 L504.0 1341.4 L506.0 1341.3 L508.0 1341.3 L510.0 1341.3 L512.0 1341.3 L514.0 1341.3 L516.0 1341.3 L518.0 1341.2 L520.0 1341.2 L522.0 1341.2 L524.0 1341.2 L526.0 1341.2 L528.0 1341.2 L530.0 1341.2 L532.0 1341.2 L534.0 1341.1 L536.0 1341.1 L538.0 1341.1 L540.0 1341.1 L542.0 1341.1 L544.0 1341.1 L546.0 1341.1 L548.0 1341.1 L550.0 1341.0 L552.0 1341.0 L554.0 1341.0 L556.0 1341.0 L558.0 1341.0 L560.0 1341.0 L562.0 1341.0 L564.0 1341.0 L566.0 1341.0 L568.0 1341.0 L570.0 1340.9 L572.0 1340.9 L574.0 1340.9 L576.0 1340.9 L578.0 1340.9 L580.0 1340.9 L582.0 1340.9 L584.0 1340.9 L586.0 1340.9 L588.0 1340.9 L590.0 1340.8 L592.0 1340.8 L594.0 1340.8 L596.0 1340.8 L598.0 1340.8 L600.0 1340.8 L602.0 1340.8 L604.0 1340.8 L606.0 1340.8 L608.0 1340.8 L610.0 1340.8 L612.0 1340.7 L614.0 1340.7 L616.0 1340.7 L618.0 1340.7 L620.0 1340.7 L622.0 1340.7 L624.0 1340.7 L626.0 1340.7 L628.0 1340.7 L630.0 1340.7 L632.0 1340.6 L634.0 1340.6 L636.0 1340.6 L638.0 1340.6 L640.0 1340.6 L642.0 1340.6 L644.0 1340.6 L646.0 1340.6 L648.0 1340.6 L650.0 1340.6 L652.0 1340.6 L654.0 1340.6 L656.0 1340.5 L658.0 1340.5 L660.0 1340.5 L662.0 1340.5 L664.0 1340.5 L666.0 1340.5 L668.0 1340.5 L670.0 1340.5 L672.0 1340.5 L674.0 1340.5 L676.0 1340.5 L678.0 1340.5 L680.0 1340.4 L682.0 1340.4 L684.0 1340.4 L686.0 1340.4 L688.0 1340.4 L690.0 1340.4 L692.0 1340.4 L694.0 1340.4 L696.0 1340.4 L698.0 1340.4 L700.0 1340.4 L702.0 1340.4 L704.0 1340.3 L706.0 1340.3 L708.0 1340.3 L710.0 1340.3 L712.0 1340.3 L714.0 1340.3 L716.0 1340.3 L718.0 1340.3 L720.0 1340.3 L722.0 1340.3 L724.0 1340.3 L726.0 1340.3 L728.0 1340.3 L730.0 1340.2 L732.0 1340.2 L734.0 1340.2 L736.0 1340.2 L738.0 1340.2 L740.0 1340.2 L742.0 1340.2 L744.0 1340.2 L746.0 1340.2 L748.0 1340.2 L750.0 1340.2 L752.0 1340.2 L754.0 1340.2 L756.0 1340.2 L758.0 1340.1 L760.0 1340.1 L762.0 1340.1 L764.0 1340.1 L766.0 1340.1 L768.0 1340.1 L770.0 1340.1 L772.0 1340.1 L774.0 1340.1 L776.0 1340.1 L778.0 1340.1 L780.0 1340.1 L782.0 1340.1 L784.0 1340.1 L786.0 1340.0 L788.0 1340.0 L790.0 1340.0 L792.0 1340.0 L794.0 1340.0 L796.0 1340.0 L798.0 1340.0 L800.0 1340.0 L802.0 1340.0 L804.0 1340.0 L806.0 1340.0 L808.0 1340.0 L810.0 1340.0 L812.0 1340.0 L814.0 1340.0 L816.0 1339.9 L818.0 1339.9 L820.0 1339.9 L822.0 1339.9 L824.0 1339.9 L826.0 1339.9 L828.0 1339.9 L830.0 1339.9 L832.0 1339.9 L834.0 1339.9 L836.0 1339.9 L838.0 1339.9 L840.0 1339.9 L842.0 1339.9 L844.0 1339.9 L846.0 1339.9 L848.0 1339.9 L850.0 1339.9 L852.0 1339.9 L854.0 1339.9 L856.0 1339.9 L858.0 1339.8 L860.0 1339.8 L862.0 1339.8 L864.0 1339.8 L866.0 1339.8 L868.0 1339.8 L870.0 1339.8 L872.0 1339.8 L874.0 1339.8 L876.0 1339.8 L878.0 1339.8 L880.0 1339.8 L882.0 1339.8 L884.0 1339.8 L886.0 1339.8 L888.0 1339.8 L890.0 1339.8 L892.0 1339.8 L894.0 1339.8 L896.0 1339.8 L898.0 1339.8 L900.0 1339.8 L902.0 1339.8 L904.0 1339.8 L906.0 1339.7 L908.0 1339.7 L910.0 1339.7 L912.0 1339.7 L914.0 1339.7 L916.0 1339.7 L918.0 1339.7 L920.0 1339.7 L922.0 1339.7 L924.0 1339.7 L926.0 1339.7 L928.0 1339.7 L930.0 1339.7 L932.0 1339.7 L934.0 1339.7 L936.0 1339.7 L938.0 1339.7 L940.0 1339.7 L942.0 1339.7 L944.0 1339.6 L946.0 1339.6 L948.0 1339.6 L950.0 1339.6 L952.0 1339.6 L954.0 1339.6 L956.0 1339.6 L958.0 1339.6 L960.0 1339.6 L962.0 1339.6 L964.0 1339.6 L966.0 1339.6 L968.0 1339.6 L970.0 1339.6 L972.0 1339.5 L974.0 1339.5 L976.0 1339.5 L978.0 1339.5 L980.0 1339.5 L982.0 1339.5 L984.0 1339.5 L986.0 1339.5 L988.0 1339.5 L990.0 1339.5 L992.0 1339.4 L994.0 1339.4 L996.0 1339.4 L998.0 1339.4 L1000.0 1339.4 L1002.0 1339.4 L1004.0 1339.4 L1006.0 1339.4 L1008.0 1339.3 L1010.0 1339.3 L1012.0 1339.3 L1014.0 1339.3 L1016.0 1339.2 L1018.0 1339.2 L1020.0 1339.2 L1022.0 1339.2 L1024.0 1339.1 L1026.0 1339.1 L1028.0 1339.0 L1030.0 1339.0 L1032.0 1339.0 L1034.0 1338.9 L1036.0 1338.9 L1038.0 1338.8 L1040.0 1338.8 L1042.0 1338.8 L1044.0 1338.7 L1046.0 1338.7 L1048.0 1338.6 L1050.0 1338.6 L1052.0 1338.5 L1054.0 1338.4 L1056.0 1338.4 L1058.0 1338.3 L1060.0 1338.3 L1062.0 1338.2 L1064.0 1338.2 L1066.0 1338.1 L1068.0 1338.0 L1070.0 1338.0 L1072.0 1337.9 L1074.0 1337.8 L1076.0 1337.8 L1078.0 1337.7 L1080.0 1337.7 L1082.0 1337.6 L1084.0 1337.5 L1086.0 1337.4 L1088.0 1337.4 L1090.0 1337.3 L1092.0 1337.2 L1094.0 1337.1 L1096.0 1337.0 L1098.0 1337.0 L1100.0 1336.9 L1102.0 1336.8 L1104.0 1336.7 L1106.0 1336.6 L1108.0 1336.4 L1110.0 1336.3 L1112.0 1336.2 L1114.0 1336.1 L1116.0 1336.0 L1118.0 1335.9 L1120.0 1335.7 L1122.0 1335.6 L1124.0 1335.5 L1126.0 1335.3 L1128.0 1335.2 L1130.0 1335.0 L1132.0 1334.9 L1134.0 1334.7 L1136.0 1334.6 L1138.0 1334.4 L1140.0 1334.3 L1142.0 1334.1 L1144.0 1333.9 L1146.0 1333.7 L1148.0 1333.6 L1150.0 1333.4 L1152.0 1333.2 L1154.0 1333.0 L1156.0 1332.8 L1158.0 1332.6 L1160.0 1332.4 L1162.0 1332.2 L1164.0 1331.9 L1166.0 1331.6 L1168.0 1331.4 L1170.0 1331.1 L1172.0 1330.8 L1174.0 1330.5 L1176.0 1330.1 L1178.0 1329.8 L1180.0 1329.5 L1182.0 1329.2 L1184.0 1328.9 L1186.0 1328.6 L1188.0 1328.3 L1190.0 1328.0 L1192.0 1327.6 L1194.0 1327.3 L1196.0 1326.9 L1198.0 1326.5 L1200.0 1326.1 L1202.0 1325.7 L1204.0 1325.2 L1206.0 1324.8 L1208.0 1324.4 L1210.0 1324.0 L1212.0 1323.7 L1214.0 1323.4 L1216.0 1323.1 L1218.0 1322.8 L1220.0 1322.6 L1222.0 1322.5 L1224.0 1322.4 L1226.0 1322.4 L1228.0 1322.4 L1230.0 1322.4 L1232.0 1322.4 L1234.0 1322.4 L1236.0 1322.4 L1238.0 1322.4 L1240.0 1322.4 L1242.0 1322.4 L1244.0 1322.4 L1246.0 1322.4 L1248.0 1322.4 L1250.0 1322.4 L1252.0 1322.4 L1254.0 1322.4 L1256.0 1322.4 L1258.0 1322.4 L1260.0 1322.4 L1262.0 1322.5 L1264.0 1322.7 L1266.0 1322.9 L1268.0 1323.3 L1270.0 1323.7 L1272.0 1324.2 L1274.0 1324.7 L1276.0 1325.3 L1278.0 1325.9 L1280.0 1326.5 L1282.0 1327.1 L1284.0 1327.7 L1286.0 1328.3 L1288.0 1328.8 L1290.0 1329.3 L1292.0 1329.7 L1294.0 1330.0 L1296.0 1330.3 L1298.0 1330.5 L1300.0 1330.8 L1302.0 1331.0 L1304.0 1331.3 L1306.0 1331.5 L1308.0 1331.7 L1310.0 1331.9 L1312.0 1332.1 L1314.0 1332.3 L1316.0 1332.5 L1318.0 1332.7 L1320.0 1332.8 L1322.0 1332.9 L1324.0 1333.0 L1326.0 1333.1 L1328.0 1333.2 L1330.0 1333.2 L1332.0 1333.1 L1334.0 1332.6 L1336.0 1331.7 L1338.0 1330.5 L1340.0 1329.0 L1342.0 1327.5 L1344.0 1325.8 L1346.0 1324.1 L1348.0 1322.5 L1350.0 1320.8 L1352.0 1318.9 L1354.0 1316.8 L1356.0 1314.6 L1358.0 1312.3 L1360.0 1309.9 L1362.0 1307.6 L1364.0 1305.3 L1366.0 1303.0 L1368.0 1300.4 L1370.0 1297.7 L1372.0 1294.9 L1374.0 1292.1 L1376.0 1289.5 L1378.0 1287.1 L1380.0 1285.1 L1382.0 1283.5 L1384.0 1282.5 L1386.0 1281.6 L1388.0 1280.8 L1390.0 1280.0 L1392.0 1279.3 L1394.0 1278.8 L1396.0 1278.3 L1398.0 1278.0 L1400.0 1277.8 L1402.0 1277.9 L1404.0 1278.3 L1406.0 1279.1 L1408.0 1280.1 L1410.0 1281.3 L1412.0 1282.4 L1414.0 1283.5 L1416.0 1284.4 L1418.0 1285.0 L1420.0 1285.4 L1422.0 1285.8 L1424.0 1286.2 L1426.0 1286.6 L1428.0 1286.9 L1430.0 1287.1 L1432.0 1287.3 L1434.0 1287.5 L1436.0 1287.5 L1438.0 1287.5 L1440.0 1287.4 L1442.0 1287.3 L1444.0 1287.2 L1446.0 1287.1 L1448.0 1286.9 L1450.0 1286.7 L1452.0 1286.5 L1454.0 1286.3 L1456.0 1286.0 L1458.0 1285.8 L1460.0 1285.5 L1462.0 1285.2 L1464.0 1285.0 L1466.0 1284.7 L1468.0 1284.4 L1470.0 1284.1 L1472.0 1283.8 L1474.0 1283.5 L1476.0 1283.2 L1478.0 1282.9 L1480.0 1282.5 L1482.0 1282.1 L1484.0 1281.7 L1486.0 1281.3 L1488.0 1280.9 L1490.0 1280.4 L1492.0 1279.9 L1494.0 1279.4 L1496.0 1278.9 L1498.0 1278.4 L1500.0 1277.8 L1502.0 1277.2 L1504.0 1276.6 L1506.0 1276.0 L1508.0 1275.3 L1510.0 1274.5 L1512.0 1273.7 L1514.0 1272.8 L1516.0 1271.8 L1518.0 1270.7 L1520.0 1269.6 L1522.0 1268.5 L1524.0 1267.4 L1526.0 1266.2 L1528.0 1265.0 L1530.0 1263.9 L1532.0 1262.7 L1534.0 1261.6 L1536.0 1260.4 L1538.0 1259.4 L1540.0 1258.3 L1542.0 1257.4 L1544.0 1256.3 L1546.0 1255.3 L1548.0 1254.3 L1550.0 1253.3 L1552.0 1252.3 L1554.0 1251.3 L1556.0 1250.5 L1558.0 1249.7 L1560.0 1249.0 L1562.0 1248.4 L1564.0 1247.7 L1566.0 1247.1 L1568.0 1246.5 L1570.0 1245.9 L1572.0 1245.3 L1574.0 1244.9 L1576.0 1244.4 L1578.0 1244.0 L1580.0 1243.8 L1582.0 1243.6 L1584.0 1243.5 L1586.0 1243.4 L1588.0 1243.3 L1590.0 1243.2 L1592.0 1243.1 L1594.0 1243.1 L1596.0 1243.0 L1598.0 1243.0 L1600.0 1243.0 L1602.0 1243.1 L1604.0 1243.3 L1606.0 1243.6 L1608.0 1244.1 L1610.0 1244.6 L1612.0 1245.2 L1614.0 1245.9 L1616.0 1246.5 L1618.0 1247.3 L1620.0 1248.0 L1622.0 1248.7 L1624.0 1249.4 L1626.0 1250.0 L1628.0 1250.6 L1630.0 1251.2 L1632.0 1251.8 L1634.0 1252.5 L1636.0 1253.1 L1638.0 1253.8 L1640.0 1254.5 L1642.0 1255.2 L1644.0 1256.0 L1646.0 1256.8 L1648.0 1257.6 L1650.0 1258.5 L1652.0 1259.4 L1654.0 1260.4 L1656.0 1261.4 L1658.0 1262.4 L1660.0 1263.6 L1662.0 1264.8 L1664.0 1266.0 L1666.0 1267.4 L1668.0 1268.9 L1670.0 1270.5 L1672.0 1272.3 L1674.0 1274.1 L1676.0 1275.9 L1678.0 1277.8 L1680.0 1279.6 L1682.0 1281.4 L1684.0 1283.1 L1686.0 1284.9 L1688.0 1286.6 L1690.0 1288.4 L1692.0 1290.1 L1694.0 1291.9 L1696.0 1293.6 L1698.0 1295.3 L1700.0 1297.0 L1702.0 1298.7 L1704.0 1300.4 L1706.0 1302.0 L1708.0 1303.7 L1710.0 1305.3 L1712.0 1307.0 L1714.0 1308.5 L1716.0 1310.1 L1718.0 1311.6 L1720.0 1313.0 L1722.0 1314.5 L1724.0 1315.9 L1726.0 1317.2 L1728.0 1318.6 L1730.0 1319.9 L1732.0 1321.2 L1734.0 1322.4 L1736.0 1323.6 L1738.0 1324.8 L1740.0 1326.0 L1742.0 1327.2 L1744.0 1328.3 L1746.0 1329.4 L1748.0 1330.4 L1750.0 1331.3 L1752.0 1332.1 L1754.0 1332.8 L1756.0 1333.5 L1758.0 1334.2 L1760.0 1334.8 L1762.0 1335.3 L1764.0 1335.8 L1766.0 1336.3 L1768.0 1336.7 L1770.0 1337.0 L1772.0 1337.3 L1774.0 1337.6 L1776.0 1337.8 L1778.0 1338.0 L1780.0 1338.3 L1782.0 1338.4 L1784.0 1338.6 L1786.0 1338.7 L1788.0 1338.8 L1790.0 1338.9 L1792.0 1338.9 L1794.0 1339.0 L1796.0 1339.0 L1798.0 1339.1 L1800.0 1339.1 L1802.0 1339.2 L1804.0 1339.2 L1806.0 1339.2 L1808.0 1339.3 L1810.0 1339.3 L1812.0 1339.3 L1814.0 1339.4 L1816.0 1339.4 L1818.0 1339.4 L1820.0 1339.4 L1822.0 1339.4 L1824.0 1339.4 L1826.0 1339.4 L1828.0 1339.4 L1830.0 1339.4 L1832.0 1339.4 L1834.0 1339.4 L1836.0 1339.4 L1838.0 1339.4 L1840.0 1339.4 L1842.0 1339.4 L1844.0 1339.4 L1846.0 1339.4 L1848.0 1339.4 L1850.0 1339.4 L1852.0 1339.4 L1854.0 1339.5 L1856.0 1339.5 L1858.0 1339.5 L1860.0 1339.5 L1862.0 1339.5 L1864.0 1339.5 L1866.0 1339.5 L1868.0 1339.5 L1870.0 1339.5 L1872.0 1339.5 L1874.0 1339.5 L1876.0 1339.5 L1878.0 1339.5 L1880.0 1339.5 L1882.0 1339.5 L1884.0 1339.5 L1886.0 1339.5 L1888.0 1339.5 L1890.0 1339.5 L1892.0 1339.5 L1894.0 1339.5 L1896.0 1339.5 L1898.0 1339.5 L1900.0 1339.5 L1902.0 1339.5 L1904.0 1339.5 L1906.0 1339.5 L1908.0 1339.5 L1910.0 1339.5 L1912.0 1339.5 L1914.0 1339.5 L1916.0 1339.5 L1918.0 1339.5 L1920.0 1339.5 L1922.0 1339.5 L1924.0 1339.5 L1926.0 1339.5 L1928.0 1339.5 L1930.0 1339.5 L1932.0 1339.5 L1934.0 1339.5 L1936.0 1339.5 L1938.0 1339.5 L1940.0 1339.5 L1942.0 1339.5 L1944.0 1339.5 L1946.0 1339.6 L1948.0 1339.6 L1950.0 1339.6 L1952.0 1339.6 L1954.0 1339.6 L1956.0 1339.6 L1958.0 1339.6 L1960.0 1339.6 L1962.0 1339.6 L1964.0 1339.6 L1966.0 1339.6 L1968.0 1339.6 L1970.0 1339.6 L1972.0 1339.6 L1974.0 1339.6 L1976.0 1339.6 L1978.0 1339.6 L1980.0 1339.6 L1982.0 1339.6 L1984.0 1339.6 L1986.0 1339.6 L1988.0 1339.6 L1990.0 1339.6 L1992.0 1339.6 L1994.0 1339.6 L1996.0 1339.6 L1998.0 1339.6 L2000.0 1339.6 L2002.0 1339.6 L2004.0 1339.6 L2006.0 1339.6 L2008.0 1339.6 L2010.0 1339.6 L2012.0 1339.6 L2014.0 1339.6 L2016.0 1339.6 L2018.0 1339.6 L2020.0 1339.6 L2022.0 1339.6 L2024.0 1339.6 L2026.0 1339.6 L2028.0 1339.6 L2030.0 1339.6 L2032.0 1339.6 L2034.0 1339.6 L2036.0 1339.6 L2038.0 1339.6 L2040.0 1339.6 L2042.0 1339.6 L2044.0 1339.6 L2046.0 1339.6 L2048.0 1339.6 L2050.0 1339.6 L2052.0 1339.6 L2054.0 1339.6 L2056.0 1339.6 L2058.0 1339.6 L2060.0 1339.6 L2062.0 1339.6 L2064.0 1339.6 L2066.0 1339.6 L2068.0 1339.6 L2070.0 1339.6 L2072.0 1339.6 L2074.0 1339.6 L2076.0 1339.6 L2078.0 1339.6 L2080.0 1339.6 L2082.0 1339.6 L2084.0 1339.6 L2086.0 1339.6 L2088.0 1339.6 L2090.0 1339.6 L2092.0 1339.6 L2094.0 1339.6 L2096.0 1339.6 L2098.0 1339.6 L2100.0 1339.6 L2102.0 1339.6 L2104.0 1339.6 L2106.0 1339.6 L2108.0 1339.6 L2110.0 1339.6" fill="none" stroke="#008000" stroke-width="6.6" stroke-linejoin="round" stroke-linecap="butt"/>
<path d="M267.0 1358.9a9.3 9.3 0 1 0 18.6 0a9.3 9.3 0 1 0 -18.6 0zM302.2 1350.7a9.3 9.3 0 1 0 18.6 0a9.3 9.3 0 1 0 -18.6 0zM337.3 1346.5a9.3 9.3 0 1 0 18.6 0a9.3 9.3 0 1 0 -18.6 0zM372.5 1344.0a9.3 9.3 0 1 0 18.6 0a9.3 9.3 0 1 0 -18.6 0zM407.6 1343.0a9.3 9.3 0 1 0 18.6 0a9.3 9.3 0 1 0 -18.6 0zM442.8 1342.2a9.3 9.3 0 1 0 18.6 0a9.3 9.3 0 1 0 -18.6 0zM478.0 1341.6a9.3 9.3 0 1 0 18.6 0a9.3 9.3 0 1 0 -18.6 0zM513.1 1341.2a9.3 9.3 0 1 0 18.6 0a9.3 9.3 0 1 0 -18.6 0zM548.3 1341.0a9.3 9.3 0 1 0 18.6 0a9.3 9.3 0 1 0 -18.6 0zM583.4 1340.8a9.3 9.3 0 1 0 18.6 0a9.3 9.3 0 1 0 -18.6 0zM618.6 1340.7a9.3 9.3 0 1 0 18.6 0a9.3 9.3 0 1 0 -18.6 0zM653.8 1340.5a9.3 9.3 0 1 0 18.6 0a9.3 9.3 0 1 0 -18.6 0zM688.9 1340.4a9.3 9.3 0 1 0 18.6 0a9.3 9.3 0 1 0 -18.6 0zM724.1 1340.2a9.3 9.3 0 1 0 18.6 0a9.3 9.3 0 1 0 -18.6 0zM759.2 1340.1a9.3 9.3 0 1 0 18.6 0a9.3 9.3 0 1 0 -18.6 0zM794.4 1340.0a9.3 9.3 0 1 0 18.6 0a9.3 9.3 0 1 0 -18.6 0zM829.6 1339.9a9.3 9.3 0 1 0 18.6 0a9.3 9.3 0 1 0 -18.6 0zM864.7 1339.8a9.3 9.3 0 1 0 18.6 0a9.3 9.3 0 1 0 -18.6 0zM899.9 1339.7a9.3 9.3 0 1 0 18.6 0a9.3 9.3 0 1 0 -18.6 0zM935.0 1339.6a9.3 9.3 0 1 0 18.6 0a9.3 9.3 0 1 0 -18.6 0zM970.2 1339.5a9.3 9.3 0 1 0 18.6 0a9.3 9.3 0 1 0 -18.6 0zM1005.4 1339.3a9.3 9.3 0 1 0 18.6 0a9.3 9.3 0 1 0 -18.6 0zM1040.5 1338.6a9.3 9.3 0 1 0 18.6 0a9.3 9.3 0 1 0 -18.6 0zM1075.7 1337.5a9.3 9.3 0 1 0 18.6 0a9.3 9.3 0 1 0 -18.6 0zM1110.8 1335.7a9.3 9.3 0 1 0 18.6 0a9.3 9.3 0 1 0 -18.6 0zM1146.0 1332.9a9.3 9.3 0 1 0 18.6 0a9.3 9.3 0 1 0 -18.6 0zM1181.2 1327.9a9.3 9.3 0 1 0 18.6 0a9.3 9.3 0 1 0 -18.6 0zM1216.3 1322.4a9.3 9.3 0 1 0 18.6 0a9.3 9.3 0 1 0 -18.6 0zM1251.5 1322.4a9.3 9.3 0 1 0 18.6 0a9.3 9.3 0 1 0 -18.6 0zM1286.6 1330.3a9.3 9.3 0 1 0 18.6 0a9.3 9.3 0 1 0 -18.6 0zM1321.8 1333.2a9.3 9.3 0 1 0 18.6 0a9.3 9.3 0 1 0 -18.6 0zM1357.0 1302.6a9.3 9.3 0 1 0 18.6 0a9.3 9.3 0 1 0 -18.6 0zM1392.1 1277.8a9.3 9.3 0 1 0 18.6 0a9.3 9.3 0 1 0 -18.6 0zM1427.3 1287.5a9.3 9.3 0 1 0 18.6 0a9.3 9.3 0 1 0 -18.6 0zM1462.4 1283.9a9.3 9.3 0 1 0 18.6 0a9.3 9.3 0 1 0 -18.6 0zM1497.6 1275.7a9.3 9.3 0 1 0 18.6 0a9.3 9.3 0 1 0 -18.6 0zM1532.8 1257.3a9.3 9.3 0 1 0 18.6 0a9.3 9.3 0 1 0 -18.6 0zM1567.9 1244.2a9.3 9.3 0 1 0 18.6 0a9.3 9.3 0 1 0 -18.6 0zM1603.1 1245.3a9.3 9.3 0 1 0 18.6 0a9.3 9.3 0 1 0 -18.6 0zM1638.2 1257.4a9.3 9.3 0 1 0 18.6 0a9.3 9.3 0 1 0 -18.6 0zM1673.4 1282.0a9.3 9.3 0 1 0 18.6 0a9.3 9.3 0 1 0 -18.6 0zM1708.6 1311.5a9.3 9.3 0 1 0 18.6 0a9.3 9.3 0 1 0 -18.6 0zM1743.7 1332.5a9.3 9.3 0 1 0 18.6 0a9.3 9.3 0 1 0 -18.6 0zM1778.9 1338.8a9.3 9.3 0 1 0 18.6 0a9.3 9.3 0 1 0 -18.6 0zM1814.0 1339.4a9.3 9.3 0 1 0 18.6 0a9.3 9.3 0 1 0 -18.6 0zM1849.2 1339.5a9.3 9.3 0 1 0 18.6 0a9.3 9.3 0 1 0 -18.6 0zM1884.4 1339.5a9.3 9.3 0 1 0 18.6 0a9.3 9.3 0 1 0 -18.6 0zM1919.5 1339.5a9.3 9.3 0 1 0 18.6 0a9.3 9.3 0 1 0 -18.6 0zM1954.7 1339.6a9.3 9.3 0 1 0 18.6 0a9.3 9.3 0 1 0 -18.6 0zM1989.8 1339.6a9.3 9.3 0 1 0 18.6 0a9.3 9.3 0 1 0 -18.6 0zM2025.0 1339.6a9.3 9.3 0 1 0 18.6 0a9.3 9.3 0 1 0 -18.6 0zM2060.2 1339.6a9.3 9.3 0 1 0 18.6 0a9.3 9.3 0 1 0 -18.6 0zM2095.3 1339.6a9.3 9.3 0 1 0 18.6 0a9.3 9.3 0 1 0 -18.6 0z" fill="#008000"/>
<path d="M276.0 1363.5 L278.0 1362.1 L280.0 1360.9 L282.0 1359.7 L284.0 1358.8 L286.0 1358.0 L288.0 1357.4 L290.0 1356.9 L292.0 1356.5 L294.0 1356.1 L296.0 1355.8 L298.0 1355.4 L300.0 1355.0 L302.0 1354.5 L304.0 1354.1 L306.0 1353.6 L308.0 1353.1 L310.0 1352.7 L312.0 1352.3 L314.0 1352.0 L316.0 1351.7 L318.0 1351.4 L320.0 1351.1 L322.0 1350.8 L324.0 1350.5 L326.0 1350.3 L328.0 1350.0 L330.0 1349.8 L332.0 1349.5 L334.0 1349.3 L336.0 1349.1 L338.0 1348.8 L340.0 1348.6 L342.0 1348.4 L344.0 1348.2 L346.0 1348.0 L348.0 1347.8 L350.0 1347.6 L352.0 1347.4 L354.0 1347.2 L356.0 1347.0 L358.0 1346.8 L360.0 1346.6 L362.0 1346.4 L364.0 1346.3 L366.0 1346.1 L368.0 1345.9 L370.0 1345.8 L372.0 1345.6 L374.0 1345.5 L376.0 1345.3 L378.0 1345.2 L380.0 1345.1 L382.0 1344.9 L384.0 1344.8 L386.0 1344.7 L388.0 1344.6 L390.0 1344.5 L392.0 1344.4 L394.0 1344.3 L396.0 1344.2 L398.0 1344.1 L400.0 1344.0 L402.0 1344.0 L404.0 1343.9 L406.0 1343.8 L408.0 1343.7 L410.0 1343.6 L412.0 1343.6 L414.0 1343.5 L416.0 1343.4 L418.0 1343.3 L420.0 1343.3 L422.0 1343.2 L424.0 1343.1 L426.0 1343.0 L428.0 1343.0 L430.0 1342.9 L432.0 1342.8 L434.0 1342.8 L436.0 1342.7 L438.0 1342.6 L440.0 1342.6 L442.0 1342.5 L444.0 1342.5 L446.0 1342.4 L448.0 1342.4 L450.0 1342.3 L452.0 1342.3 L454.0 1342.2 L456.0 1342.2 L458.0 1342.2 L460.0 1342.1 L462.0 1342.1 L464.0 1342.1 L466.0 1342.0 L468.0 1342.0 L470.0 1342.0 L472.0 1341.9 L474.0 1341.9 L476.0 1341.9 L478.0 1341.9 L480.0 1341.8 L482.0 1341.8 L484.0 1341.8 L486.0 1341.8 L488.0 1341.7 L490.0 1341.7 L492.0 1341.7 L494.0 1341.7 L496.0 1341.6 L498.0 1341.6 L500.0 1341.6 L502.0 1341.6 L504.0 1341.6 L506.0 1341.5 L508.0 1341.5 L510.0 1341.5 L512.0 1341.5 L514.0 1341.5 L516.0 1341.4 L518.0 1341.4 L520.0 1341.4 L522.0 1341.4 L524.0 1341.4 L526.0 1341.3 L528.0 1341.3 L530.0 1341.3 L532.0 1341.3 L534.0 1341.3 L536.0 1341.3 L538.0 1341.2 L540.0 1341.2 L542.0 1341.2 L544.0 1341.2 L546.0 1341.2 L548.0 1341.2 L550.0 1341.1 L552.0 1341.1 L554.0 1341.1 L556.0 1341.1 L558.0 1341.1 L560.0 1341.1 L562.0 1341.0 L564.0 1341.0 L566.0 1341.0 L568.0 1341.0 L570.0 1341.0 L572.0 1341.0 L574.0 1341.0 L576.0 1340.9 L578.0 1340.9 L580.0 1340.9 L582.0 1340.9 L584.0 1340.9 L586.0 1340.9 L588.0 1340.9 L590.0 1340.9 L592.0 1340.8 L594.0 1340.8 L596.0 1340.8 L598.0 1340.8 L600.0 1340.8 L602.0 1340.8 L604.0 1340.8 L606.0 1340.8 L608.0 1340.8 L610.0 1340.7 L612.0 1340.7 L614.0 1340.7 L616.0 1340.7 L618.0 1340.7 L620.0 1340.7 L622.0 1340.7 L624.0 1340.7 L626.0 1340.7 L628.0 1340.7 L630.0 1340.6 L632.0 1340.6 L634.0 1340.6 L636.0 1340.6 L638.0 1340.6 L640.0 1340.6 L642.0 1340.6 L644.0 1340.6 L646.0 1340.6 L648.0 1340.6 L650.0 1340.6 L652.0 1340.5 L654.0 1340.5 L656.0 1340.5 L658.0 1340.5 L660.0 1340.5 L662.0 1340.5 L664.0 1340.5 L666.0 1340.5 L668.0 1340.5 L670.0 1340.5 L672.0 1340.5 L674.0 1340.4 L676.0 1340.4 L678.0 1340.4 L680.0 1340.4 L682.0 1340.4 L684.0 1340.4 L686.0 1340.4 L688.0 1340.4 L690.0 1340.4 L692.0 1340.4 L694.0 1340.4 L696.0 1340.4 L698.0 1340.4 L700.0 1340.3 L702.0 1340.3 L704.0 1340.3 L706.0 1340.3 L708.0 1340.3 L710.0 1340.3 L712.0 1340.3 L714.0 1340.3 L716.0 1340.3 L718.0 1340.3 L720.0 1340.3 L722.0 1340.3 L724.0 1340.3 L726.0 1340.3 L728.0 1340.2 L730.0 1340.2 L732.0 1340.2 L734.0 1340.2 L736.0 1340.2 L738.0 1340.2 L740.0 1340.2 L742.0 1340.2 L744.0 1340.2 L746.0 1340.2 L748.0 1340.2 L750.0 1340.2 L752.0 1340.2 L754.0 1340.2 L756.0 1340.1 L758.0 1340.1 L760.0 1340.1 L762.0 1340.1 L764.0 1340.1 L766.0 1340.1 L768.0 1340.1 L770.0 1340.1 L772.0 1340.1 L774.0 1340.1 L776.0 1340.1 L778.0 1340.1 L780.0 1340.1 L782.0 1340.1 L784.0 1340.1 L786.0 1340.0 L788.0 1340.0 L790.0 1340.0 L792.0 1340.0 L794.0 1340.0 L796.0 1340.0 L798.0 1340.0 L800.0 1340.0 L802.0 1340.0 L804.0 1340.0 L806.0 1340.0 L808.0 1340.0 L810.0 1340.0 L812.0 1340.0 L814.0 1340.0 L816.0 1340.0 L818.0 1339.9 L820.0 1339.9 L822.0 1339.9 L824.0 1339.9 L826.0 1339.9 L828.0 1339.9 L830.0 1339.9 L832.0 1339.9 L834.0 1339.9 L836.0 1339.9 L838.0 1339.9 L840.0 1339.9 L842.0 1339.9 L844.0 1339.9 L846.0 1339.9 L848.0 1339.9 L850.0 1339.9 L852.0 1339.9 L854.0 1339.9 L856.0 1339.9 L858.0 1339.9 L860.0 1339.9 L862.0 1339.8 L864.0 1339.8 L866.0 1339.8 L868.0 1339.8 L870.0 1339.8 L872.0 1339.8 L874.0 1339.8 L876.0 1339.8 L878.0 1339.8 L880.0 1339.8 L882.0 1339.8 L884.0 1339.8 L886.0 1339.8 L888.0 1339.8 L890.0 1339.8 L892.0 1339.8 L894.0 1339.8 L896.0 1339.8 L898.0 1339.8 L900.0 1339.8 L902.0 1339.8 L904.0 1339.8 L906.0 1339.8 L908.0 1339.8 L910.0 1339.8 L912.0 1339.8 L914.0 1339.7 L916.0 1339.7 L918.0 1339.7 L920.0 1339.7 L922.0 1339.7 L924.0 1339.7 L926.0 1339.7 L928.0 1339.7 L930.0 1339.7 L932.0 1339.7 L934.0 1339.7 L936.0 1339.7 L938.0 1339.7 L940.0 1339.7 L942.0 1339.7 L944.0 1339.7 L946.0 1339.7 L948.0 1339.7 L950.0 1339.6 L952.0 1339.6 L954.0 1339.6 L956.0 1339.6 L958.0 1339.6 L960.0 1339.6 L962.0 1339.6 L964.0 1339.6 L966.0 1339.6 L968.0 1339.6 L970.0 1339.6 L972.0 1339.6 L974.0 1339.5 L976.0 1339.5 L978.0 1339.5 L980.0 1339.5 L982.0 1339.5 L984.0 1339.5 L986.0 1339.5 L988.0 1339.5 L990.0 1339.5 L992.0 1339.4 L994.0 1339.4 L996.0 1339.4 L998.0 1339.4 L1000.0 1339.4 L1002.0 1339.4 L1004.0 1339.4 L1006.0 1339.3 L1008.0 1339.3 L1010.0 1339.2 L1012.0 1339.2 L1014.0 1339.1 L1016.0 1339.0 L1018.0 1339.0 L1020.0 1338.9 L1022.0 1338.8 L1024.0 1338.7 L1026.0 1338.6 L1028.0 1338.5 L1030.0 1338.4 L1032.0 1338.3 L1034.0 1338.2 L1036.0 1338.1 L1038.0 1338.0 L1040.0 1337.8 L1042.0 1337.7 L1044.0 1337.6 L1046.0 1337.4 L1048.0 1337.3 L1050.0 1337.2 L1052.0 1337.1 L1054.0 1336.9 L1056.0 1336.8 L1058.0 1336.6 L1060.0 1336.5 L1062.0 1336.4 L1064.0 1336.2 L1066.0 1336.1 L1068.0 1336.0 L1070.0 1335.8 L1072.0 1335.7 L1074.0 1335.6 L1076.0 1335.5 L1078.0 1335.3 L1080.0 1335.2 L1082.0 1335.1 L1084.0 1335.0 L1086.0 1334.9 L1088.0 1334.8 L1090.0 1334.7 L1092.0 1334.6 L1094.0 1334.5 L1096.0 1334.4 L1098.0 1334.3 L1100.0 1334.2 L1102.0 1334.1 L1104.0 1334.0 L1106.0 1333.9 L1108.0 1333.8 L1110.0 1333.7 L1112.0 1333.6 L1114.0 1333.5 L1116.0 1333.5 L1118.0 1333.4 L1120.0 1333.3 L1122.0 1333.2 L1124.0 1333.1 L1126.0 1332.9 L1128.0 1332.8 L1130.0 1332.7 L1132.0 1332.6 L1134.0 1332.5 L1136.0 1332.4 L1138.0 1332.2 L1140.0 1332.1 L1142.0 1332.0 L1144.0 1331.8 L1146.0 1331.7 L1148.0 1331.5 L1150.0 1331.3 L1152.0 1331.2 L1154.0 1331.0 L1156.0 1330.8 L1158.0 1330.6 L1160.0 1330.4 L1162.0 1330.1 L1164.0 1329.9 L1166.0 1329.6 L1168.0 1329.3 L1170.0 1329.0 L1172.0 1328.6 L1174.0 1328.3 L1176.0 1327.9 L1178.0 1327.5 L1180.0 1327.2 L1182.0 1326.7 L1184.0 1326.3 L1186.0 1325.9 L1188.0 1325.5 L1190.0 1325.0 L1192.0 1324.5 L1194.0 1323.8 L1196.0 1323.0 L1198.0 1322.2 L1200.0 1321.2 L1202.0 1320.3 L1204.0 1319.3 L1206.0 1318.2 L1208.0 1317.2 L1210.0 1316.3 L1212.0 1315.3 L1214.0 1314.5 L1216.0 1313.7 L1218.0 1313.1 L1220.0 1312.6 L1222.0 1312.2 L1224.0 1312.0 L1226.0 1312.0 L1228.0 1312.0 L1230.0 1312.0 L1232.0 1312.0 L1234.0 1312.0 L1236.0 1312.0 L1238.0 1312.0 L1240.0 1312.0 L1242.0 1312.0 L1244.0 1312.0 L1246.0 1312.0 L1248.0 1312.0 L1250.0 1312.0 L1252.0 1312.0 L1254.0 1312.0 L1256.0 1312.0 L1258.0 1312.0 L1260.0 1312.0 L1262.0 1312.0 L1264.0 1312.0 L1266.0 1312.0 L1268.0 1312.0 L1270.0 1312.0 L1272.0 1312.0 L1274.0 1312.0 L1276.0 1312.0 L1278.0 1312.0 L1280.0 1312.0 L1282.0 1312.0 L1284.0 1312.0 L1286.0 1312.0 L1288.0 1312.0 L1290.0 1312.0 L1292.0 1312.0 L1294.0 1312.0 L1296.0 1312.0 L1298.0 1312.0 L1300.0 1312.0 L1302.0 1312.0 L1304.0 1312.0 L1306.0 1312.0 L1308.0 1312.0 L1310.0 1311.9 L1312.0 1311.9 L1314.0 1311.8 L1316.0 1311.7 L1318.0 1311.6 L1320.0 1311.5 L1322.0 1311.4 L1324.0 1311.2 L1326.0 1311.1 L1328.0 1310.9 L1330.0 1310.8 L1332.0 1310.6 L1334.0 1310.4 L1336.0 1310.2 L1338.0 1310.1 L1340.0 1309.9 L1342.0 1309.7 L1344.0 1309.5 L1346.0 1309.3 L1348.0 1309.1 L1350.0 1309.0 L1352.0 1308.8 L1354.0 1308.6 L1356.0 1308.5 L1358.0 1308.3 L1360.0 1308.2 L1362.0 1308.0 L1364.0 1307.9 L1366.0 1307.8 L1368.0 1307.6 L1370.0 1307.5 L1372.0 1307.4 L1374.0 1307.2 L1376.0 1307.1 L1378.0 1306.9 L1380.0 1306.8 L1382.0 1306.7 L1384.0 1306.5 L1386.0 1306.3 L1388.0 1306.2 L1390.0 1306.0 L1392.0 1305.9 L1394.0 1305.7 L1396.0 1305.5 L1398.0 1305.3 L1400.0 1305.1 L1402.0 1304.9 L1404.0 1304.7 L1406.0 1304.5 L1408.0 1304.2 L1410.0 1304.0 L1412.0 1303.8 L1414.0 1303.5 L1416.0 1303.3 L1418.0 1303.0 L1420.0 1302.7 L1422.0 1302.4 L1424.0 1302.1 L1426.0 1301.8 L1428.0 1301.5 L1430.0 1301.1 L1432.0 1300.8 L1434.0 1300.4 L1436.0 1300.0 L1438.0 1299.6 L1440.0 1299.2 L1442.0 1298.7 L1444.0 1298.2 L1446.0 1297.7 L1448.0 1297.1 L1450.0 1296.4 L1452.0 1295.6 L1454.0 1294.8 L1456.0 1293.8 L1458.0 1292.9 L1460.0 1291.9 L1462.0 1290.9 L1464.0 1289.9 L1466.0 1288.9 L1468.0 1287.9 L1470.0 1287.0 L1472.0 1286.1 L1474.0 1285.2 L1476.0 1284.3 L1478.0 1283.3 L1480.0 1282.4 L1482.0 1281.5 L1484.0 1280.5 L1486.0 1279.6 L1488.0 1278.7 L1490.0 1277.8 L1492.0 1277.0 L1494.0 1276.1 L1496.0 1275.3 L1498.0 1274.5 L1500.0 1273.8 L1502.0 1273.1 L1504.0 1272.5 L1506.0 1271.9 L1508.0 1271.3 L1510.0 1270.7 L1512.0 1270.0 L1514.0 1269.4 L1516.0 1268.7 L1518.0 1267.9 L1520.0 1267.0 L1522.0 1265.9 L1524.0 1264.6 L1526.0 1263.1 L1528.0 1261.4 L1530.0 1259.7 L1532.0 1258.0 L1534.0 1256.3 L1536.0 1254.8 L1538.0 1253.4 L1540.0 1252.3 L1542.0 1251.4 L1544.0 1250.6 L1546.0 1249.9 L1548.0 1249.2 L1550.0 1248.5 L1552.0 1247.9 L1554.0 1247.3 L1556.0 1246.8 L1558.0 1246.4 L1560.0 1246.0 L1562.0 1245.6 L1564.0 1245.3 L1566.0 1244.9 L1568.0 1244.6 L1570.0 1244.2 L1572.0 1243.9 L1574.0 1243.7 L1576.0 1243.4 L1578.0 1243.2 L1580.0 1243.1 L1582.0 1243.0 L1584.0 1243.0 L1586.0 1243.1 L1588.0 1243.2 L1590.0 1243.4 L1592.0 1243.7 L1594.0 1244.0 L1596.0 1244.4 L1598.0 1244.8 L1600.0 1245.2 L1602.0 1245.7 L1604.0 1246.2 L1606.0 1246.6 L1608.0 1247.1 L1610.0 1247.5 L1612.0 1248.0 L1614.0 1248.5 L1616.0 1249.0 L1618.0 1249.6 L1620.0 1250.1 L1622.0 1250.7 L1624.0 1251.4 L1626.0 1252.1 L1628.0 1252.8 L1630.0 1253.5 L1632.0 1254.3 L1634.0 1255.2 L1636.0 1256.2 L1638.0 1257.3 L1640.0 1258.4 L1642.0 1259.5 L1644.0 1260.6 L1646.0 1261.7 L1648.0 1262.8 L1650.0 1263.8 L1652.0 1264.7 L1654.0 1265.7 L1656.0 1266.7 L1658.0 1267.6 L1660.0 1268.7 L1662.0 1269.8 L1664.0 1270.9 L1666.0 1272.1 L1668.0 1273.4 L1670.0 1274.9 L1672.0 1276.3 L1674.0 1277.9 L1676.0 1279.5 L1678.0 1281.1 L1680.0 1282.7 L1682.0 1284.4 L1684.0 1286.1 L1686.0 1287.9 L1688.0 1289.7 L1690.0 1291.6 L1692.0 1293.5 L1694.0 1295.4 L1696.0 1297.3 L1698.0 1299.2 L1700.0 1301.0 L1702.0 1302.8 L1704.0 1304.6 L1706.0 1306.3 L1708.0 1308.1 L1710.0 1309.8 L1712.0 1311.5 L1714.0 1313.1 L1716.0 1314.7 L1718.0 1316.1 L1720.0 1317.5 L1722.0 1318.9 L1724.0 1320.2 L1726.0 1321.5 L1728.0 1322.7 L1730.0 1323.9 L1732.0 1325.0 L1734.0 1326.0 L1736.0 1327.0 L1738.0 1327.9 L1740.0 1328.8 L1742.0 1329.6 L1744.0 1330.4 L1746.0 1331.1 L1748.0 1331.8 L1750.0 1332.4 L1752.0 1333.0 L1754.0 1333.4 L1756.0 1333.9 L1758.0 1334.3 L1760.0 1334.8 L1762.0 1335.2 L1764.0 1335.6 L1766.0 1336.0 L1768.0 1336.4 L1770.0 1336.7 L1772.0 1337.0 L1774.0 1337.3 L1776.0 1337.6 L1778.0 1337.9 L1780.0 1338.1 L1782.0 1338.3 L1784.0 1338.4 L1786.0 1338.6 L1788.0 1338.7 L1790.0 1338.8 L1792.0 1338.8 L1794.0 1338.9 L1796.0 1339.0 L1798.0 1339.1 L1800.0 1339.2 L1802.0 1339.2 L1804.0 1339.3 L1806.0 1339.4 L1808.0 1339.4 L1810.0 1339.5 L1812.0 1339.5 L1814.0 1339.5 L1816.0 1339.6 L1818.0 1339.6 L1820.0 1339.6 L1822.0 1339.6 L1824.0 1339.6 L1826.0 1339.6 L1828.0 1339.6 L1830.0 1339.6 L1832.0 1339.6 L1834.0 1339.6 L1836.0 1339.6 L1838.0 1339.6 L1840.0 1339.6 L1842.0 1339.6 L1844.0 1339.6 L1846.0 1339.6 L1848.0 1339.6 L1850.0 1339.6 L1852.0 1339.6 L1854.0 1339.7 L1856.0 1339.7 L1858.0 1339.7 L1860.0 1339.7 L1862.0 1339.7 L1864.0 1339.7 L1866.0 1339.7 L1868.0 1339.7 L1870.0 1339.7 L1872.0 1339.7 L1874.0 1339.7 L1876.0 1339.7 L1878.0 1339.7 L1880.0 1339.7 L1882.0 1339.7 L1884.0 1339.7 L1886.0 1339.7 L1888.0 1339.7 L1890.0 1339.7 L1892.0 1339.7 L1894.0 1339.7 L1896.0 1339.7 L1898.0 1339.7 L1900.0 1339.7 L1902.0 1339.7 L1904.0 1339.7 L1906.0 1339.7 L1908.0 1339.7 L1910.0 1339.7 L1912.0 1339.7 L1914.0 1339.7 L1916.0 1339.7 L1918.0 1339.7 L1920.0 1339.7 L1922.0 1339.7 L1924.0 1339.7 L1926.0 1339.7 L1928.0 1339.7 L1930.0 1339.7 L1932.0 1339.7 L1934.0 1339.7 L1936.0 1339.7 L1938.0 1339.7 L1940.0 1339.7 L1942.0 1339.7 L1944.0 1339.8 L1946.0 1339.8 L1948.0 1339.8 L1950.0 1339.8 L1952.0 1339.8 L1954.0 1339.8 L1956.0 1339.8 L1958.0 1339.8 L1960.0 1339.8 L1962.0 1339.8 L1964.0 1339.8 L1966.0 1339.8 L1968.0 1339.8 L1970.0 1339.8 L1972.0 1339.8 L1974.0 1339.8 L1976.0 1339.8 L1978.0 1339.8 L1980.0 1339.8 L1982.0 1339.8 L1984.0 1339.8 L1986.0 1339.8 L1988.0 1339.8 L1990.0 1339.8 L1992.0 1339.8 L1994.0 1339.8 L1996.0 1339.8 L1998.0 1339.8 L2000.0 1339.8 L2002.0 1339.8 L2004.0 1339.8 L2006.0 1339.8 L2008.0 1339.8 L2010.0 1339.8 L2012.0 1339.8 L2014.0 1339.8 L2016.0 1339.8 L2018.0 1339.8 L2020.0 1339.8 L2022.0 1339.8 L2024.0 1339.8 L2026.0 1339.8 L2028.0 1339.8 L2030.0 1339.8 L2032.0 1339.8 L2034.0 1339.8 L2036.0 1339.8 L2038.0 1339.8 L2040.0 1339.8 L2042.0 1339.8 L2044.0 1339.8 L2046.0 1339.8 L2048.0 1339.8 L2050.0 1339.8 L2052.0 1339.8 L2054.0 1339.8 L2056.0 1339.8 L2058.0 1339.8 L2060.0 1339.8 L2062.0 1339.8 L2064.0 1339.8 L2066.0 1339.8 L2068.0 1339.8 L2070.0 1339.8 L2072.0 1339.8 L2074.0 1339.8 L2076.0 1339.8 L2078.0 1339.8 L2080.0 1339.8 L2082.0 1339.8 L2084.0 1339.8 L2086.0 1339.8 L2088.0 1339.8 L2090.0 1339.8 L2092.0 1339.8 L2094.0 1339.8 L2096.0 1339.8 L2098.0 1339.8 L2100.0 1339.8 L2102.0 1339.8 L2104.0 1339.8 L2106.0 1339.8 L2108.0 1339.8 L2110.0 1339.8" fill="none" stroke="#0000ff" stroke-width="6.6" stroke-linejoin="round" stroke-linecap="butt"/>
<path d="M276.3 1350.3l11.3 20.5h-22.6zM311.5 1339.4l11.3 20.5h-22.6zM346.6 1334.9l11.3 20.5h-22.6zM381.8 1332.0l11.3 20.5h-22.6zM416.9 1330.4l11.3 20.5h-22.6zM452.1 1329.3l11.3 20.5h-22.6zM487.3 1328.7l11.3 20.5h-22.6zM522.4 1328.4l11.3 20.5h-22.6zM557.6 1328.1l11.3 20.5h-22.6zM592.7 1327.8l11.3 20.5h-22.6zM627.9 1327.7l11.3 20.5h-22.6zM663.1 1327.5l11.3 20.5h-22.6zM698.2 1327.4l11.3 20.5h-22.6zM733.4 1327.2l11.3 20.5h-22.6zM768.5 1327.1l11.3 20.5h-22.6zM803.7 1327.0l11.3 20.5h-22.6zM838.9 1326.9l11.3 20.5h-22.6zM874.0 1326.8l11.3 20.5h-22.6zM909.2 1326.8l11.3 20.5h-22.6zM944.3 1326.7l11.3 20.5h-22.6zM979.5 1326.5l11.3 20.5h-22.6zM1014.7 1326.1l11.3 20.5h-22.6zM1049.8 1324.2l11.3 20.5h-22.6zM1085.0 1321.9l11.3 20.5h-22.6zM1120.1 1320.3l11.3 20.5h-22.6zM1155.3 1317.9l11.3 20.5h-22.6zM1190.5 1311.9l11.3 20.5h-22.6zM1225.6 1299.0l11.3 20.5h-22.6zM1260.8 1299.0l11.3 20.5h-22.6zM1295.9 1299.0l11.3 20.5h-22.6zM1331.1 1297.7l11.3 20.5h-22.6zM1366.3 1294.7l11.3 20.5h-22.6zM1401.4 1292.0l11.3 20.5h-22.6zM1436.6 1286.9l11.3 20.5h-22.6zM1471.7 1273.2l11.3 20.5h-22.6zM1506.9 1258.6l11.3 20.5h-22.6zM1542.1 1238.4l11.3 20.5h-22.6zM1577.2 1230.3l11.3 20.5h-22.6zM1612.4 1235.1l11.3 20.5h-22.6zM1647.5 1249.5l11.3 20.5h-22.6zM1682.7 1272.0l11.3 20.5h-22.6zM1717.9 1303.0l11.3 20.5h-22.6zM1753.0 1320.2l11.3 20.5h-22.6zM1788.2 1325.7l11.3 20.5h-22.6zM1823.3 1326.6l11.3 20.5h-22.6zM1858.5 1326.7l11.3 20.5h-22.6zM1893.7 1326.7l11.3 20.5h-22.6zM1928.8 1326.7l11.3 20.5h-22.6zM1964.0 1326.8l11.3 20.5h-22.6zM1999.1 1326.8l11.3 20.5h-22.6zM2034.3 1326.8l11.3 20.5h-22.6zM2069.5 1326.8l11.3 20.5h-22.6zM2104.6 1326.8l11.3 20.5h-22.6z" fill="#0000ff"/>
<path d="M276.0 1349.0 L278.0 1348.9 L280.0 1348.7 L282.0 1348.6 L284.0 1348.5 L286.0 1348.4 L288.0 1348.3 L290.0 1348.1 L292.0 1348.0 L294.0 1347.9 L296.0 1347.8 L298.0 1347.7 L300.0 1347.6 L302.0 1347.5 L304.0 1347.4 L306.0 1347.3 L308.0 1347.1 L310.0 1347.0 L312.0 1347.0 L314.0 1346.9 L316.0 1346.8 L318.0 1346.7 L320.0 1346.6 L322.0 1346.5 L324.0 1346.5 L326.0 1346.4 L328.0 1346.3 L330.0 1346.2 L332.0 1346.1 L334.0 1346.1 L336.0 1346.0 L338.0 1345.9 L340.0 1345.8 L342.0 1345.7 L344.0 1345.6 L346.0 1345.5 L348.0 1345.4 L350.0 1345.2 L352.0 1345.1 L354.0 1344.9 L356.0 1344.7 L358.0 1344.5 L360.0 1344.3 L362.0 1344.1 L364.0 1343.9 L366.0 1343.8 L368.0 1343.6 L370.0 1343.4 L372.0 1343.2 L374.0 1343.1 L376.0 1342.9 L378.0 1342.8 L380.0 1342.7 L382.0 1342.7 L384.0 1342.6 L386.0 1342.6 L388.0 1342.5 L390.0 1342.5 L392.0 1342.4 L394.0 1342.4 L396.0 1342.3 L398.0 1342.3 L400.0 1342.2 L402.0 1342.2 L404.0 1342.2 L406.0 1342.1 L408.0 1342.1 L410.0 1342.1 L412.0 1342.1 L414.0 1342.0 L416.0 1342.0 L418.0 1342.0 L420.0 1341.9 L422.0 1341.9 L424.0 1341.9 L426.0 1341.9 L428.0 1341.8 L430.0 1341.8 L432.0 1341.8 L434.0 1341.8 L436.0 1341.7 L438.0 1341.7 L440.0 1341.7 L442.0 1341.7 L444.0 1341.7 L446.0 1341.6 L448.0 1341.6 L450.0 1341.6 L452.0 1341.6 L454.0 1341.6 L456.0 1341.6 L458.0 1341.5 L460.0 1341.5 L462.0 1341.5 L464.0 1341.5 L466.0 1341.5 L468.0 1341.5 L470.0 1341.5 L472.0 1341.4 L474.0 1341.4 L476.0 1341.4 L478.0 1341.4 L480.0 1341.4 L482.0 1341.4 L484.0 1341.4 L486.0 1341.4 L488.0 1341.3 L490.0 1341.3 L492.0 1341.3 L494.0 1341.3 L496.0 1341.3 L498.0 1341.3 L500.0 1341.3 L502.0 1341.3 L504.0 1341.2 L506.0 1341.2 L508.0 1341.2 L510.0 1341.2 L512.0 1341.2 L514.0 1341.2 L516.0 1341.2 L518.0 1341.2 L520.0 1341.2 L522.0 1341.1 L524.0 1341.1 L526.0 1341.1 L528.0 1341.1 L530.0 1341.1 L532.0 1341.1 L534.0 1341.1 L536.0 1341.1 L538.0 1341.1 L540.0 1341.1 L542.0 1341.0 L544.0 1341.0 L546.0 1341.0 L548.0 1341.0 L550.0 1341.0 L552.0 1341.0 L554.0 1341.0 L556.0 1341.0 L558.0 1341.0 L560.0 1341.0 L562.0 1341.0 L564.0 1340.9 L566.0 1340.9 L568.0 1340.9 L570.0 1340.9 L572.0 1340.9 L574.0 1340.9 L576.0 1340.9 L578.0 1340.9 L580.0 1340.9 L582.0 1340.9 L584.0 1340.9 L586.0 1340.9 L588.0 1340.8 L590.0 1340.8 L592.0 1340.8 L594.0 1340.8 L596.0 1340.8 L598.0 1340.8 L600.0 1340.8 L602.0 1340.8 L604.0 1340.8 L606.0 1340.8 L608.0 1340.8 L610.0 1340.8 L612.0 1340.8 L614.0 1340.7 L616.0 1340.7 L618.0 1340.7 L620.0 1340.7 L622.0 1340.7 L624.0 1340.7 L626.0 1340.7 L628.0 1340.7 L630.0 1340.7 L632.0 1340.7 L634.0 1340.7 L636.0 1340.7 L638.0 1340.7 L640.0 1340.7 L642.0 1340.7 L644.0 1340.6 L646.0 1340.6 L648.0 1340.6 L650.0 1340.6 L652.0 1340.6 L654.0 1340.6 L656.0 1340.6 L658.0 1340.6 L660.0 1340.6 L662.0 1340.6 L664.0 1340.6 L666.0 1340.6 L668.0 1340.6 L670.0 1340.6 L672.0 1340.6 L674.0 1340.6 L676.0 1340.5 L678.0 1340.5 L680.0 1340.5 L682.0 1340.5 L684.0 1340.5 L686.0 1340.5 L688.0 1340.5 L690.0 1340.5 L692.0 1340.5 L694.0 1340.5 L696.0 1340.5 L698.0 1340.5 L700.0 1340.5 L702.0 1340.5 L704.0 1340.5 L706.0 1340.5 L708.0 1340.5 L710.0 1340.4 L712.0 1340.4 L714.0 1340.4 L716.0 1340.4 L718.0 1340.4 L720.0 1340.4 L722.0 1340.4 L724.0 1340.4 L726.0 1340.4 L728.0 1340.4 L730.0 1340.4 L732.0 1340.4 L734.0 1340.4 L736.0 1340.4 L738.0 1340.4 L740.0 1340.4 L742.0 1340.4 L744.0 1340.4 L746.0 1340.4 L748.0 1340.3 L750.0 1340.3 L752.0 1340.3 L754.0 1340.3 L756.0 1340.3 L758.0 1340.3 L760.0 1340.3 L762.0 1340.3 L764.0 1340.3 L766.0 1340.3 L768.0 1340.3 L770.0 1340.3 L772.0 1340.3 L774.0 1340.3 L776.0 1340.3 L778.0 1340.3 L780.0 1340.3 L782.0 1340.3 L784.0 1340.2 L786.0 1340.2 L788.0 1340.2 L790.0 1340.2 L792.0 1340.2 L794.0 1340.2 L796.0 1340.2 L798.0 1340.2 L800.0 1340.2 L802.0 1340.2 L804.0 1340.2 L806.0 1340.2 L808.0 1340.2 L810.0 1340.2 L812.0 1340.2 L814.0 1340.2 L816.0 1340.2 L818.0 1340.1 L820.0 1340.1 L822.0 1340.1 L824.0 1340.1 L826.0 1340.1 L828.0 1340.1 L830.0 1340.1 L832.0 1340.1 L834.0 1340.1 L836.0 1340.1 L838.0 1340.1 L840.0 1340.1 L842.0 1340.1 L844.0 1340.1 L846.0 1340.1 L848.0 1340.1 L850.0 1340.1 L852.0 1340.1 L854.0 1340.1 L856.0 1340.1 L858.0 1340.1 L860.0 1340.1 L862.0 1340.0 L864.0 1340.0 L866.0 1340.0 L868.0 1340.0 L870.0 1340.0 L872.0 1340.0 L874.0 1340.0 L876.0 1340.0 L878.0 1340.0 L880.0 1340.0 L882.0 1340.0 L884.0 1340.0 L886.0 1340.0 L888.0 1340.0 L890.0 1340.0 L892.0 1340.0 L894.0 1340.0 L896.0 1340.0 L898.0 1340.0 L900.0 1340.0 L902.0 1340.0 L904.0 1340.0 L906.0 1339.9 L908.0 1339.9 L910.0 1339.9 L912.0 1339.9 L914.0 1339.9 L916.0 1339.9 L918.0 1339.9 L920.0 1339.9 L922.0 1339.9 L924.0 1339.9 L926.0 1339.9 L928.0 1339.9 L930.0 1339.9 L932.0 1339.9 L934.0 1339.9 L936.0 1339.9 L938.0 1339.9 L940.0 1339.9 L942.0 1339.8 L944.0 1339.8 L946.0 1339.8 L948.0 1339.8 L950.0 1339.8 L952.0 1339.8 L954.0 1339.8 L956.0 1339.8 L958.0 1339.8 L960.0 1339.8 L962.0 1339.8 L964.0 1339.8 L966.0 1339.8 L968.0 1339.8 L970.0 1339.7 L972.0 1339.7 L974.0 1339.7 L976.0 1339.7 L978.0 1339.7 L980.0 1339.7 L982.0 1339.7 L984.0 1339.7 L986.0 1339.7 L988.0 1339.7 L990.0 1339.7 L992.0 1339.6 L994.0 1339.6 L996.0 1339.6 L998.0 1339.6 L1000.0 1339.6 L1002.0 1339.6 L1004.0 1339.6 L1006.0 1339.6 L1008.0 1339.5 L1010.0 1339.5 L1012.0 1339.5 L1014.0 1339.5 L1016.0 1339.5 L1018.0 1339.5 L1020.0 1339.4 L1022.0 1339.4 L1024.0 1339.4 L1026.0 1339.4 L1028.0 1339.4 L1030.0 1339.3 L1032.0 1339.3 L1034.0 1339.3 L1036.0 1339.2 L1038.0 1339.2 L1040.0 1339.2 L1042.0 1339.2 L1044.0 1339.1 L1046.0 1339.1 L1048.0 1339.1 L1050.0 1339.0 L1052.0 1339.0 L1054.0 1339.0 L1056.0 1338.9 L1058.0 1338.9 L1060.0 1338.9 L1062.0 1338.8 L1064.0 1338.8 L1066.0 1338.8 L1068.0 1338.7 L1070.0 1338.7 L1072.0 1338.6 L1074.0 1338.6 L1076.0 1338.6 L1078.0 1338.5 L1080.0 1338.5 L1082.0 1338.5 L1084.0 1338.4 L1086.0 1338.4 L1088.0 1338.3 L1090.0 1338.3 L1092.0 1338.2 L1094.0 1338.2 L1096.0 1338.2 L1098.0 1338.1 L1100.0 1338.1 L1102.0 1338.0 L1104.0 1338.0 L1106.0 1337.9 L1108.0 1337.9 L1110.0 1337.8 L1112.0 1337.8 L1114.0 1337.7 L1116.0 1337.6 L1118.0 1337.6 L1120.0 1337.5 L1122.0 1337.5 L1124.0 1337.4 L1126.0 1337.3 L1128.0 1337.2 L1130.0 1337.2 L1132.0 1337.1 L1134.0 1337.0 L1136.0 1336.9 L1138.0 1336.8 L1140.0 1336.8 L1142.0 1336.7 L1144.0 1336.6 L1146.0 1336.5 L1148.0 1336.4 L1150.0 1336.3 L1152.0 1336.1 L1154.0 1336.0 L1156.0 1335.9 L1158.0 1335.7 L1160.0 1335.6 L1162.0 1335.4 L1164.0 1335.1 L1166.0 1334.9 L1168.0 1334.6 L1170.0 1334.4 L1172.0 1334.1 L1174.0 1333.8 L1176.0 1333.4 L1178.0 1333.1 L1180.0 1332.8 L1182.0 1332.4 L1184.0 1332.1 L1186.0 1331.7 L1188.0 1331.3 L1190.0 1330.9 L1192.0 1330.5 L1194.0 1330.1 L1196.0 1329.6 L1198.0 1329.1 L1200.0 1328.6 L1202.0 1328.0 L1204.0 1327.4 L1206.0 1326.8 L1208.0 1326.2 L1210.0 1325.6 L1212.0 1325.0 L1214.0 1324.3 L1216.0 1323.7 L1218.0 1323.1 L1220.0 1322.5 L1222.0 1321.9 L1224.0 1321.3 L1226.0 1320.8 L1228.0 1320.2 L1230.0 1319.6 L1232.0 1319.1 L1234.0 1318.5 L1236.0 1317.9 L1238.0 1317.3 L1240.0 1316.7 L1242.0 1316.1 L1244.0 1315.5 L1246.0 1314.9 L1248.0 1314.4 L1250.0 1313.9 L1252.0 1313.4 L1254.0 1313.0 L1256.0 1312.6 L1258.0 1312.2 L1260.0 1311.9 L1262.0 1311.5 L1264.0 1311.2 L1266.0 1310.9 L1268.0 1310.6 L1270.0 1310.3 L1272.0 1310.0 L1274.0 1309.7 L1276.0 1309.5 L1278.0 1309.2 L1280.0 1309.0 L1282.0 1308.7 L1284.0 1308.5 L1286.0 1308.4 L1288.0 1308.2 L1290.0 1308.1 L1292.0 1308.1 L1294.0 1308.0 L1296.0 1308.0 L1298.0 1308.2 L1300.0 1308.4 L1302.0 1308.9 L1304.0 1309.4 L1306.0 1310.0 L1308.0 1310.7 L1310.0 1311.4 L1312.0 1312.2 L1314.0 1313.0 L1316.0 1313.7 L1318.0 1314.4 L1320.0 1315.1 L1322.0 1315.7 L1324.0 1316.3 L1326.0 1316.7 L1328.0 1317.0 L1330.0 1317.1 L1332.0 1317.1 L1334.0 1316.9 L1336.0 1316.7 L1338.0 1316.4 L1340.0 1316.0 L1342.0 1315.6 L1344.0 1315.1 L1346.0 1314.6 L1348.0 1314.0 L1350.0 1313.4 L1352.0 1312.8 L1354.0 1312.2 L1356.0 1311.6 L1358.0 1311.0 L1360.0 1310.5 L1362.0 1310.0 L1364.0 1309.5 L1366.0 1309.1 L1368.0 1308.7 L1370.0 1308.3 L1372.0 1307.9 L1374.0 1307.6 L1376.0 1307.2 L1378.0 1306.8 L1380.0 1306.4 L1382.0 1306.1 L1384.0 1305.7 L1386.0 1305.3 L1388.0 1305.0 L1390.0 1304.7 L1392.0 1304.4 L1394.0 1304.1 L1396.0 1303.8 L1398.0 1303.5 L1400.0 1303.2 L1402.0 1303.0 L1404.0 1302.7 L1406.0 1302.5 L1408.0 1302.3 L1410.0 1302.1 L1412.0 1302.0 L1414.0 1301.8 L1416.0 1301.6 L1418.0 1301.5 L1420.0 1301.3 L1422.0 1301.2 L1424.0 1301.0 L1426.0 1300.8 L1428.0 1300.6 L1430.0 1300.4 L1432.0 1300.2 L1434.0 1299.9 L1436.0 1299.7 L1438.0 1299.4 L1440.0 1299.1 L1442.0 1298.7 L1444.0 1298.4 L1446.0 1298.0 L1448.0 1297.5 L1450.0 1297.1 L1452.0 1296.7 L1454.0 1296.2 L1456.0 1295.7 L1458.0 1295.2 L1460.0 1294.7 L1462.0 1294.2 L1464.0 1293.7 L1466.0 1293.2 L1468.0 1292.7 L1470.0 1292.2 L1472.0 1291.7 L1474.0 1291.2 L1476.0 1290.7 L1478.0 1290.2 L1480.0 1289.7 L1482.0 1289.1 L1484.0 1288.6 L1486.0 1288.0 L1488.0 1287.5 L1490.0 1286.9 L1492.0 1286.3 L1494.0 1285.8 L1496.0 1285.2 L1498.0 1284.6 L1500.0 1283.9 L1502.0 1283.3 L1504.0 1282.7 L1506.0 1282.0 L1508.0 1281.3 L1510.0 1280.6 L1512.0 1279.9 L1514.0 1279.2 L1516.0 1278.5 L1518.0 1277.8 L1520.0 1277.0 L1522.0 1276.3 L1524.0 1275.5 L1526.0 1274.7 L1528.0 1273.8 L1530.0 1273.0 L1532.0 1272.1 L1534.0 1271.2 L1536.0 1270.3 L1538.0 1269.3 L1540.0 1268.3 L1542.0 1267.3 L1544.0 1266.2 L1546.0 1264.9 L1548.0 1263.6 L1550.0 1262.3 L1552.0 1260.9 L1554.0 1259.6 L1556.0 1258.3 L1558.0 1257.1 L1560.0 1256.0 L1562.0 1255.0 L1564.0 1254.0 L1566.0 1253.1 L1568.0 1252.2 L1570.0 1251.4 L1572.0 1250.6 L1574.0 1249.8 L1576.0 1249.1 L1578.0 1248.3 L1580.0 1247.6 L1582.0 1246.8 L1584.0 1246.0 L1586.0 1245.2 L1588.0 1244.5 L1590.0 1243.8 L1592.0 1243.2 L1594.0 1242.7 L1596.0 1242.3 L1598.0 1242.1 L1600.0 1242.0 L1602.0 1242.0 L1604.0 1242.1 L1606.0 1242.2 L1608.0 1242.3 L1610.0 1242.4 L1612.0 1242.5 L1614.0 1242.7 L1616.0 1242.9 L1618.0 1243.3 L1620.0 1243.6 L1622.0 1244.1 L1624.0 1244.5 L1626.0 1245.0 L1628.0 1245.5 L1630.0 1246.0 L1632.0 1246.5 L1634.0 1247.2 L1636.0 1247.9 L1638.0 1248.6 L1640.0 1249.4 L1642.0 1250.2 L1644.0 1251.0 L1646.0 1251.8 L1648.0 1252.6 L1650.0 1253.4 L1652.0 1254.3 L1654.0 1255.2 L1656.0 1256.1 L1658.0 1257.0 L1660.0 1258.0 L1662.0 1259.0 L1664.0 1260.0 L1666.0 1261.1 L1668.0 1262.1 L1670.0 1263.2 L1672.0 1264.4 L1674.0 1265.5 L1676.0 1266.8 L1678.0 1268.1 L1680.0 1269.5 L1682.0 1271.0 L1684.0 1272.7 L1686.0 1274.6 L1688.0 1276.7 L1690.0 1279.0 L1692.0 1281.3 L1694.0 1283.8 L1696.0 1286.2 L1698.0 1288.6 L1700.0 1291.0 L1702.0 1293.4 L1704.0 1295.8 L1706.0 1298.3 L1708.0 1300.8 L1710.0 1303.3 L1712.0 1305.8 L1714.0 1308.1 L1716.0 1310.3 L1718.0 1312.3 L1720.0 1314.2 L1722.0 1316.0 L1724.0 1317.7 L1726.0 1319.4 L1728.0 1321.0 L1730.0 1322.6 L1732.0 1324.0 L1734.0 1325.4 L1736.0 1326.6 L1738.0 1327.9 L1740.0 1329.2 L1742.0 1330.4 L1744.0 1331.6 L1746.0 1332.7 L1748.0 1333.7 L1750.0 1334.5 L1752.0 1335.1 L1754.0 1335.6 L1756.0 1336.1 L1758.0 1336.4 L1760.0 1336.8 L1762.0 1337.1 L1764.0 1337.4 L1766.0 1337.6 L1768.0 1337.8 L1770.0 1338.0 L1772.0 1338.2 L1774.0 1338.3 L1776.0 1338.4 L1778.0 1338.6 L1780.0 1338.7 L1782.0 1338.8 L1784.0 1338.9 L1786.0 1338.9 L1788.0 1339.0 L1790.0 1339.0 L1792.0 1339.1 L1794.0 1339.1 L1796.0 1339.2 L1798.0 1339.2 L1800.0 1339.2 L1802.0 1339.2 L1804.0 1339.3 L1806.0 1339.3 L1808.0 1339.3 L1810.0 1339.3 L1812.0 1339.4 L1814.0 1339.4 L1816.0 1339.4 L1818.0 1339.4 L1820.0 1339.4 L1822.0 1339.4 L1824.0 1339.4 L1826.0 1339.4 L1828.0 1339.4 L1830.0 1339.4 L1832.0 1339.4 L1834.0 1339.4 L1836.0 1339.4 L1838.0 1339.4 L1840.0 1339.4 L1842.0 1339.4 L1844.0 1339.4 L1846.0 1339.4 L1848.0 1339.4 L1850.0 1339.4 L1852.0 1339.4 L1854.0 1339.5 L1856.0 1339.5 L1858.0 1339.5 L1860.0 1339.5 L1862.0 1339.5 L1864.0 1339.5 L1866.0 1339.5 L1868.0 1339.5 L1870.0 1339.5 L1872.0 1339.5 L1874.0 1339.5 L1876.0 1339.5 L1878.0 1339.5 L1880.0 1339.5 L1882.0 1339.5 L1884.0 1339.5 L1886.0 1339.5 L1888.0 1339.5 L1890.0 1339.5 L1892.0 1339.5 L1894.0 1339.5 L1896.0 1339.5 L1898.0 1339.5 L1900.0 1339.5 L1902.0 1339.5 L1904.0 1339.5 L1906.0 1339.5 L1908.0 1339.5 L1910.0 1339.5 L1912.0 1339.5 L1914.0 1339.5 L1916.0 1339.5 L1918.0 1339.5 L1920.0 1339.5 L1922.0 1339.5 L1924.0 1339.5 L1926.0 1339.5 L1928.0 1339.5 L1930.0 1339.5 L1932.0 1339.5 L1934.0 1339.5 L1936.0 1339.5 L1938.0 1339.5 L1940.0 1339.5 L1942.0 1339.5 L1944.0 1339.5 L1946.0 1339.5 L1948.0 1339.5 L1950.0 1339.6 L1952.0 1339.6 L1954.0 1339.6 L1956.0 1339.6 L1958.0 1339.6 L1960.0 1339.6 L1962.0 1339.6 L1964.0 1339.6 L1966.0 1339.6 L1968.0 1339.6 L1970.0 1339.6 L1972.0 1339.6 L1974.0 1339.6 L1976.0 1339.6 L1978.0 1339.6 L1980.0 1339.6 L1982.0 1339.6 L1984.0 1339.6 L1986.0 1339.6 L1988.0 1339.6 L1990.0 1339.6 L1992.0 1339.6 L1994.0 1339.6 L1996.0 1339.6 L1998.0 1339.6 L2000.0 1339.6 L2002.0 1339.6 L2004.0 1339.6 L2006.0 1339.6 L2008.0 1339.6 L2010.0 1339.6 L2012.0 1339.6 L2014.0 1339.6 L2016.0 1339.6 L2018.0 1339.6 L2020.0 1339.6 L2022.0 1339.6 L2024.0 1339.6 L2026.0 1339.6 L2028.0 1339.6 L2030.0 1339.6 L2032.0 1339.6 L2034.0 1339.6 L2036.0 1339.6 L2038.0 1339.6 L2040.0 1339.6 L2042.0 1339.6 L2044.0 1339.6 L2046.0 1339.6 L2048.0 1339.6 L2050.0 1339.6 L2052.0 1339.6 L2054.0 1339.6 L2056.0 1339.6 L2058.0 1339.6 L2060.0 1339.6 L2062.0 1339.6 L2064.0 1339.6 L2066.0 1339.6 L2068.0 1339.6 L2070.0 1339.6 L2072.0 1339.6 L2074.0 1339.6 L2076.0 1339.6 L2078.0 1339.6 L2080.0 1339.6 L2082.0 1339.6 L2084.0 1339.6 L2086.0 1339.6 L2088.0 1339.6 L2090.0 1339.6 L2092.0 1339.6 L2094.0 1339.6 L2096.0 1339.6 L2098.0 1339.6 L2100.0 1339.6 L2102.0 1339.6 L2104.0 1339.6 L2106.0 1339.6 L2108.0 1339.6 L2110.0 1339.6" fill="none" stroke="#ff00ff" stroke-width="6.6" stroke-linejoin="round" stroke-linecap="butt"/>
<path d="M276.3 1362.5l11.3 -20.5h-22.6zM311.5 1360.5l11.3 -20.5h-22.6zM346.6 1359.0l11.3 -20.5h-22.6zM381.8 1356.2l11.3 -20.5h-22.6zM416.9 1355.5l11.3 -20.5h-22.6zM452.1 1355.1l11.3 -20.5h-22.6zM487.3 1354.8l11.3 -20.5h-22.6zM522.4 1354.6l11.3 -20.5h-22.6zM557.6 1354.5l11.3 -20.5h-22.6zM592.7 1354.3l11.3 -20.5h-22.6zM627.9 1354.2l11.3 -20.5h-22.6zM663.1 1354.1l11.3 -20.5h-22.6zM698.2 1354.0l11.3 -20.5h-22.6zM733.4 1353.9l11.3 -20.5h-22.6zM768.5 1353.8l11.3 -20.5h-22.6zM803.7 1353.7l11.3 -20.5h-22.6zM838.9 1353.6l11.3 -20.5h-22.6zM874.0 1353.5l11.3 -20.5h-22.6zM909.2 1353.4l11.3 -20.5h-22.6zM944.3 1353.3l11.3 -20.5h-22.6zM979.5 1353.2l11.3 -20.5h-22.6zM1014.7 1353.0l11.3 -20.5h-22.6zM1049.8 1352.5l11.3 -20.5h-22.6zM1085.0 1351.9l11.3 -20.5h-22.6zM1120.1 1351.0l11.3 -20.5h-22.6zM1155.3 1349.4l11.3 -20.5h-22.6zM1190.5 1344.4l11.3 -20.5h-22.6zM1225.6 1334.4l11.3 -20.5h-22.6zM1260.8 1325.2l11.3 -20.5h-22.6zM1295.9 1321.5l11.3 -20.5h-22.6zM1331.1 1330.6l11.3 -20.5h-22.6zM1366.3 1322.6l11.3 -20.5h-22.6zM1401.4 1316.5l11.3 -20.5h-22.6zM1436.6 1313.1l11.3 -20.5h-22.6zM1471.7 1305.3l11.3 -20.5h-22.6zM1506.9 1295.2l11.3 -20.5h-22.6zM1542.1 1280.8l11.3 -20.5h-22.6zM1577.2 1262.1l11.3 -20.5h-22.6zM1612.4 1256.0l11.3 -20.5h-22.6zM1647.5 1265.9l11.3 -20.5h-22.6zM1682.7 1285.1l11.3 -20.5h-22.6zM1717.9 1325.7l11.3 -20.5h-22.6zM1753.0 1348.9l11.3 -20.5h-22.6zM1788.2 1352.5l11.3 -20.5h-22.6zM1823.3 1352.9l11.3 -20.5h-22.6zM1858.5 1353.0l11.3 -20.5h-22.6zM1893.7 1353.0l11.3 -20.5h-22.6zM1928.8 1353.0l11.3 -20.5h-22.6zM1964.0 1353.1l11.3 -20.5h-22.6zM1999.1 1353.1l11.3 -20.5h-22.6zM2034.3 1353.1l11.3 -20.5h-22.6zM2069.5 1353.1l11.3 -20.5h-22.6zM2104.6 1353.1l11.3 -20.5h-22.6z" fill="#ff00ff"/>
<path d="M276.0 1358.2 L278.0 1357.5 L280.0 1356.9 L282.0 1356.2 L284.0 1355.6 L286.0 1355.0 L288.0 1354.5 L290.0 1354.0 L292.0 1353.5 L294.0 1353.1 L296.0 1352.7 L298.0 1352.3 L300.0 1351.9 L302.0 1351.5 L304.0 1351.1 L306.0 1350.8 L308.0 1350.5 L310.0 1350.2 L312.0 1349.9 L314.0 1349.6 L316.0 1349.3 L318.0 1349.0 L320.0 1348.7 L322.0 1348.5 L324.0 1348.2 L326.0 1347.9 L328.0 1347.7 L330.0 1347.5 L332.0 1347.2 L334.0 1347.0 L336.0 1346.8 L338.0 1346.6 L340.0 1346.4 L342.0 1346.2 L344.0 1346.0 L346.0 1345.8 L348.0 1345.6 L350.0 1345.4 L352.0 1345.3 L354.0 1345.1 L356.0 1344.9 L358.0 1344.7 L360.0 1344.6 L362.0 1344.4 L364.0 1344.3 L366.0 1344.1 L368.0 1344.0 L370.0 1343.9 L372.0 1343.7 L374.0 1343.6 L376.0 1343.5 L378.0 1343.4 L380.0 1343.3 L382.0 1343.3 L384.0 1343.2 L386.0 1343.1 L388.0 1343.1 L390.0 1343.0 L392.0 1343.0 L394.0 1342.9 L396.0 1342.9 L398.0 1342.9 L400.0 1342.8 L402.0 1342.8 L404.0 1342.7 L406.0 1342.7 L408.0 1342.7 L410.0 1342.6 L412.0 1342.6 L414.0 1342.5 L416.0 1342.5 L418.0 1342.5 L420.0 1342.4 L422.0 1342.4 L424.0 1342.3 L426.0 1342.3 L428.0 1342.2 L430.0 1342.2 L432.0 1342.2 L434.0 1342.1 L436.0 1342.1 L438.0 1342.0 L440.0 1342.0 L442.0 1342.0 L444.0 1341.9 L446.0 1341.9 L448.0 1341.9 L450.0 1341.8 L452.0 1341.8 L454.0 1341.7 L456.0 1341.7 L458.0 1341.7 L460.0 1341.6 L462.0 1341.6 L464.0 1341.6 L466.0 1341.5 L468.0 1341.5 L470.0 1341.4 L472.0 1341.4 L474.0 1341.4 L476.0 1341.3 L478.0 1341.3 L480.0 1341.3 L482.0 1341.2 L484.0 1341.2 L486.0 1341.2 L488.0 1341.1 L490.0 1341.1 L492.0 1341.1 L494.0 1341.1 L496.0 1341.0 L498.0 1341.0 L500.0 1341.0 L502.0 1341.0 L504.0 1341.0 L506.0 1340.9 L508.0 1340.9 L510.0 1340.9 L512.0 1340.9 L514.0 1340.9 L516.0 1340.9 L518.0 1340.8 L520.0 1340.8 L522.0 1340.8 L524.0 1340.8 L526.0 1340.8 L528.0 1340.8 L530.0 1340.8 L532.0 1340.7 L534.0 1340.7 L536.0 1340.7 L538.0 1340.7 L540.0 1340.7 L542.0 1340.7 L544.0 1340.7 L546.0 1340.7 L548.0 1340.6 L550.0 1340.6 L552.0 1340.6 L554.0 1340.6 L556.0 1340.6 L558.0 1340.6 L560.0 1340.6 L562.0 1340.6 L564.0 1340.6 L566.0 1340.6 L568.0 1340.5 L570.0 1340.5 L572.0 1340.5 L574.0 1340.5 L576.0 1340.5 L578.0 1340.5 L580.0 1340.5 L582.0 1340.5 L584.0 1340.5 L586.0 1340.5 L588.0 1340.5 L590.0 1340.4 L592.0 1340.4 L594.0 1340.4 L596.0 1340.4 L598.0 1340.4 L600.0 1340.4 L602.0 1340.4 L604.0 1340.4 L606.0 1340.4 L608.0 1340.4 L610.0 1340.4 L612.0 1340.4 L614.0 1340.3 L616.0 1340.3 L618.0 1340.3 L620.0 1340.3 L622.0 1340.3 L624.0 1340.3 L626.0 1340.3 L628.0 1340.3 L630.0 1340.3 L632.0 1340.3 L634.0 1340.3 L636.0 1340.3 L638.0 1340.3 L640.0 1340.2 L642.0 1340.2 L644.0 1340.2 L646.0 1340.2 L648.0 1340.2 L650.0 1340.2 L652.0 1340.2 L654.0 1340.2 L656.0 1340.2 L658.0 1340.2 L660.0 1340.2 L662.0 1340.2 L664.0 1340.2 L666.0 1340.2 L668.0 1340.2 L670.0 1340.1 L672.0 1340.1 L674.0 1340.1 L676.0 1340.1 L678.0 1340.1 L680.0 1340.1 L682.0 1340.1 L684.0 1340.1 L686.0 1340.1 L688.0 1340.1 L690.0 1340.1 L692.0 1340.1 L694.0 1340.1 L696.0 1340.1 L698.0 1340.1 L700.0 1340.1 L702.0 1340.1 L704.0 1340.0 L706.0 1340.0 L708.0 1340.0 L710.0 1340.0 L712.0 1340.0 L714.0 1340.0 L716.0 1340.0 L718.0 1340.0 L720.0 1340.0 L722.0 1340.0 L724.0 1340.0 L726.0 1340.0 L728.0 1340.0 L730.0 1340.0 L732.0 1340.0 L734.0 1340.0 L736.0 1340.0 L738.0 1340.0 L740.0 1339.9 L742.0 1339.9 L744.0 1339.9 L746.0 1339.9 L748.0 1339.9 L750.0 1339.9 L752.0 1339.9 L754.0 1339.9 L756.0 1339.9 L758.0 1339.9 L760.0 1339.9 L762.0 1339.9 L764.0 1339.9 L766.0 1339.9 L768.0 1339.9 L770.0 1339.9 L772.0 1339.9 L774.0 1339.9 L776.0 1339.9 L778.0 1339.9 L780.0 1339.8 L782.0 1339.8 L784.0 1339.8 L786.0 1339.8 L788.0 1339.8 L790.0 1339.8 L792.0 1339.8 L794.0 1339.8 L796.0 1339.8 L798.0 1339.8 L800.0 1339.8 L802.0 1339.8 L804.0 1339.8 L806.0 1339.8 L808.0 1339.8 L810.0 1339.8 L812.0 1339.8 L814.0 1339.8 L816.0 1339.8 L818.0 1339.8 L820.0 1339.8 L822.0 1339.7 L824.0 1339.7 L826.0 1339.7 L828.0 1339.7 L830.0 1339.7 L832.0 1339.7 L834.0 1339.7 L836.0 1339.7 L838.0 1339.7 L840.0 1339.7 L842.0 1339.7 L844.0 1339.7 L846.0 1339.7 L848.0 1339.7 L850.0 1339.7 L852.0 1339.7 L854.0 1339.7 L856.0 1339.7 L858.0 1339.7 L860.0 1339.7 L862.0 1339.7 L864.0 1339.7 L866.0 1339.7 L868.0 1339.7 L870.0 1339.7 L872.0 1339.6 L874.0 1339.6 L876.0 1339.6 L878.0 1339.6 L880.0 1339.6 L882.0 1339.6 L884.0 1339.6 L886.0 1339.6 L888.0 1339.6 L890.0 1339.6 L892.0 1339.6 L894.0 1339.6 L896.0 1339.6 L898.0 1339.6 L900.0 1339.6 L902.0 1339.6 L904.0 1339.6 L906.0 1339.6 L908.0 1339.6 L910.0 1339.6 L912.0 1339.6 L914.0 1339.6 L916.0 1339.6 L918.0 1339.6 L920.0 1339.6 L922.0 1339.6 L924.0 1339.6 L926.0 1339.5 L928.0 1339.5 L930.0 1339.5 L932.0 1339.5 L934.0 1339.5 L936.0 1339.5 L938.0 1339.5 L940.0 1339.5 L942.0 1339.5 L944.0 1339.5 L946.0 1339.5 L948.0 1339.5 L950.0 1339.5 L952.0 1339.5 L954.0 1339.5 L956.0 1339.5 L958.0 1339.5 L960.0 1339.5 L962.0 1339.5 L964.0 1339.5 L966.0 1339.5 L968.0 1339.5 L970.0 1339.5 L972.0 1339.5 L974.0 1339.5 L976.0 1339.5 L978.0 1339.4 L980.0 1339.4 L982.0 1339.4 L984.0 1339.4 L986.0 1339.4 L988.0 1339.4 L990.0 1339.4 L992.0 1339.4 L994.0 1339.4 L996.0 1339.4 L998.0 1339.4 L1000.0 1339.4 L1002.0 1339.4 L1004.0 1339.4 L1006.0 1339.4 L1008.0 1339.4 L1010.0 1339.4 L1012.0 1339.4 L1014.0 1339.4 L1016.0 1339.4 L1018.0 1339.4 L1020.0 1339.4 L1022.0 1339.4 L1024.0 1339.4 L1026.0 1339.3 L1028.0 1339.3 L1030.0 1339.3 L1032.0 1339.3 L1034.0 1339.3 L1036.0 1339.3 L1038.0 1339.3 L1040.0 1339.3 L1042.0 1339.3 L1044.0 1339.3 L1046.0 1339.3 L1048.0 1339.3 L1050.0 1339.3 L1052.0 1339.3 L1054.0 1339.3 L1056.0 1339.3 L1058.0 1339.3 L1060.0 1339.3 L1062.0 1339.3 L1064.0 1339.3 L1066.0 1339.3 L1068.0 1339.3 L1070.0 1339.2 L1072.0 1339.2 L1074.0 1339.2 L1076.0 1339.2 L1078.0 1339.2 L1080.0 1339.2 L1082.0 1339.2 L1084.0 1339.2 L1086.0 1339.2 L1088.0 1339.2 L1090.0 1339.2 L1092.0 1339.2 L1094.0 1339.2 L1096.0 1339.2 L1098.0 1339.1 L1100.0 1339.1 L1102.0 1339.1 L1104.0 1339.1 L1106.0 1339.1 L1108.0 1339.1 L1110.0 1339.1 L1112.0 1339.1 L1114.0 1339.1 L1116.0 1339.0 L1118.0 1339.0 L1120.0 1339.0 L1122.0 1339.0 L1124.0 1338.9 L1126.0 1338.8 L1128.0 1338.8 L1130.0 1338.7 L1132.0 1338.6 L1134.0 1338.4 L1136.0 1338.3 L1138.0 1338.2 L1140.0 1338.0 L1142.0 1337.9 L1144.0 1337.8 L1146.0 1337.6 L1148.0 1337.5 L1150.0 1337.3 L1152.0 1337.2 L1154.0 1337.0 L1156.0 1336.9 L1158.0 1336.8 L1160.0 1336.6 L1162.0 1336.5 L1164.0 1336.4 L1166.0 1336.2 L1168.0 1336.1 L1170.0 1335.9 L1172.0 1335.8 L1174.0 1335.6 L1176.0 1335.5 L1178.0 1335.3 L1180.0 1335.1 L1182.0 1334.9 L1184.0 1334.7 L1186.0 1334.5 L1188.0 1334.2 L1190.0 1334.0 L1192.0 1333.6 L1194.0 1333.3 L1196.0 1332.8 L1198.0 1332.3 L1200.0 1331.7 L1202.0 1331.1 L1204.0 1330.5 L1206.0 1329.8 L1208.0 1329.1 L1210.0 1328.4 L1212.0 1327.6 L1214.0 1326.8 L1216.0 1326.0 L1218.0 1325.2 L1220.0 1324.4 L1222.0 1323.6 L1224.0 1322.9 L1226.0 1322.1 L1228.0 1321.3 L1230.0 1320.4 L1232.0 1319.5 L1234.0 1318.6 L1236.0 1317.6 L1238.0 1316.6 L1240.0 1315.6 L1242.0 1314.6 L1244.0 1313.6 L1246.0 1312.6 L1248.0 1311.6 L1250.0 1310.7 L1252.0 1309.7 L1254.0 1308.8 L1256.0 1308.0 L1258.0 1307.2 L1260.0 1306.5 L1262.0 1305.8 L1264.0 1305.1 L1266.0 1304.5 L1268.0 1303.9 L1270.0 1303.3 L1272.0 1302.7 L1274.0 1302.1 L1276.0 1301.5 L1278.0 1301.0 L1280.0 1300.4 L1282.0 1299.9 L1284.0 1299.4 L1286.0 1298.9 L1288.0 1298.4 L1290.0 1297.8 L1292.0 1297.3 L1294.0 1296.8 L1296.0 1296.3 L1298.0 1295.8 L1300.0 1295.2 L1302.0 1294.6 L1304.0 1294.0 L1306.0 1293.4 L1308.0 1292.8 L1310.0 1292.1 L1312.0 1291.5 L1314.0 1291.0 L1316.0 1290.4 L1318.0 1289.9 L1320.0 1289.5 L1322.0 1289.1 L1324.0 1288.8 L1326.0 1288.5 L1328.0 1288.4 L1330.0 1288.3 L1332.0 1288.3 L1334.0 1288.4 L1336.0 1288.5 L1338.0 1288.7 L1340.0 1288.9 L1342.0 1289.1 L1344.0 1289.4 L1346.0 1289.7 L1348.0 1290.0 L1350.0 1290.4 L1352.0 1290.7 L1354.0 1291.1 L1356.0 1291.4 L1358.0 1291.7 L1360.0 1292.0 L1362.0 1292.3 L1364.0 1292.6 L1366.0 1292.8 L1368.0 1293.0 L1370.0 1293.3 L1372.0 1293.5 L1374.0 1293.8 L1376.0 1294.1 L1378.0 1294.3 L1380.0 1294.6 L1382.0 1294.8 L1384.0 1295.1 L1386.0 1295.3 L1388.0 1295.5 L1390.0 1295.7 L1392.0 1295.8 L1394.0 1296.0 L1396.0 1296.1 L1398.0 1296.2 L1400.0 1296.2 L1402.0 1296.2 L1404.0 1296.1 L1406.0 1296.0 L1408.0 1295.8 L1410.0 1295.6 L1412.0 1295.4 L1414.0 1295.1 L1416.0 1294.8 L1418.0 1294.4 L1420.0 1294.0 L1422.0 1293.7 L1424.0 1293.3 L1426.0 1292.8 L1428.0 1292.4 L1430.0 1292.0 L1432.0 1291.6 L1434.0 1291.3 L1436.0 1290.9 L1438.0 1290.5 L1440.0 1290.1 L1442.0 1289.7 L1444.0 1289.3 L1446.0 1288.9 L1448.0 1288.4 L1450.0 1288.0 L1452.0 1287.5 L1454.0 1287.1 L1456.0 1286.6 L1458.0 1286.1 L1460.0 1285.7 L1462.0 1285.2 L1464.0 1284.7 L1466.0 1284.3 L1468.0 1283.8 L1470.0 1283.4 L1472.0 1282.9 L1474.0 1282.5 L1476.0 1282.1 L1478.0 1281.7 L1480.0 1281.3 L1482.0 1280.9 L1484.0 1280.5 L1486.0 1280.1 L1488.0 1279.7 L1490.0 1279.3 L1492.0 1278.9 L1494.0 1278.5 L1496.0 1278.1 L1498.0 1277.6 L1500.0 1277.1 L1502.0 1276.6 L1504.0 1276.1 L1506.0 1275.5 L1508.0 1274.9 L1510.0 1274.3 L1512.0 1273.6 L1514.0 1272.9 L1516.0 1272.2 L1518.0 1271.5 L1520.0 1270.7 L1522.0 1269.9 L1524.0 1269.0 L1526.0 1268.1 L1528.0 1267.2 L1530.0 1266.3 L1532.0 1265.3 L1534.0 1264.2 L1536.0 1263.2 L1538.0 1262.1 L1540.0 1260.9 L1542.0 1259.7 L1544.0 1258.2 L1546.0 1256.6 L1548.0 1254.8 L1550.0 1252.9 L1552.0 1251.0 L1554.0 1249.1 L1556.0 1247.3 L1558.0 1245.6 L1560.0 1244.0 L1562.0 1242.5 L1564.0 1241.1 L1566.0 1239.6 L1568.0 1238.2 L1570.0 1236.9 L1572.0 1235.7 L1574.0 1234.5 L1576.0 1233.5 L1578.0 1232.5 L1580.0 1231.5 L1582.0 1230.6 L1584.0 1229.6 L1586.0 1228.8 L1588.0 1228.1 L1590.0 1227.6 L1592.0 1227.3 L1594.0 1227.3 L1596.0 1227.3 L1598.0 1227.4 L1600.0 1227.5 L1602.0 1227.7 L1604.0 1227.8 L1606.0 1228.0 L1608.0 1228.2 L1610.0 1228.5 L1612.0 1228.7 L1614.0 1229.1 L1616.0 1229.7 L1618.0 1230.5 L1620.0 1231.4 L1622.0 1232.4 L1624.0 1233.6 L1626.0 1234.7 L1628.0 1235.9 L1630.0 1237.0 L1632.0 1238.1 L1634.0 1239.4 L1636.0 1240.6 L1638.0 1242.0 L1640.0 1243.4 L1642.0 1244.8 L1644.0 1246.3 L1646.0 1247.9 L1648.0 1249.5 L1650.0 1251.3 L1652.0 1253.1 L1654.0 1255.0 L1656.0 1256.9 L1658.0 1258.9 L1660.0 1261.0 L1662.0 1263.0 L1664.0 1265.0 L1666.0 1267.0 L1668.0 1269.1 L1670.0 1271.2 L1672.0 1273.4 L1674.0 1275.5 L1676.0 1277.7 L1678.0 1279.8 L1680.0 1281.9 L1682.0 1284.0 L1684.0 1286.1 L1686.0 1288.1 L1688.0 1290.2 L1690.0 1292.3 L1692.0 1294.3 L1694.0 1296.3 L1696.0 1298.3 L1698.0 1300.2 L1700.0 1302.0 L1702.0 1303.8 L1704.0 1305.6 L1706.0 1307.3 L1708.0 1309.1 L1710.0 1310.7 L1712.0 1312.3 L1714.0 1313.9 L1716.0 1315.3 L1718.0 1316.7 L1720.0 1317.9 L1722.0 1319.2 L1724.0 1320.4 L1726.0 1321.5 L1728.0 1322.6 L1730.0 1323.6 L1732.0 1324.6 L1734.0 1325.5 L1736.0 1326.4 L1738.0 1327.3 L1740.0 1328.1 L1742.0 1329.0 L1744.0 1329.7 L1746.0 1330.5 L1748.0 1331.1 L1750.0 1331.8 L1752.0 1332.3 L1754.0 1332.9 L1756.0 1333.4 L1758.0 1333.9 L1760.0 1334.3 L1762.0 1334.8 L1764.0 1335.2 L1766.0 1335.6 L1768.0 1335.9 L1770.0 1336.2 L1772.0 1336.5 L1774.0 1336.8 L1776.0 1337.0 L1778.0 1337.3 L1780.0 1337.5 L1782.0 1337.7 L1784.0 1337.8 L1786.0 1338.0 L1788.0 1338.1 L1790.0 1338.2 L1792.0 1338.2 L1794.0 1338.3 L1796.0 1338.4 L1798.0 1338.5 L1800.0 1338.6 L1802.0 1338.6 L1804.0 1338.7 L1806.0 1338.8 L1808.0 1338.8 L1810.0 1338.9 L1812.0 1338.9 L1814.0 1338.9 L1816.0 1339.0 L1818.0 1339.0 L1820.0 1339.0 L1822.0 1339.0 L1824.0 1339.0 L1826.0 1339.0 L1828.0 1339.0 L1830.0 1339.0 L1832.0 1339.0 L1834.0 1339.0 L1836.0 1339.0 L1838.0 1339.0 L1840.0 1339.0 L1842.0 1339.0 L1844.0 1339.0 L1846.0 1339.0 L1848.0 1339.0 L1850.0 1339.0 L1852.0 1339.0 L1854.0 1339.1 L1856.0 1339.1 L1858.0 1339.1 L1860.0 1339.1 L1862.0 1339.1 L1864.0 1339.1 L1866.0 1339.1 L1868.0 1339.1 L1870.0 1339.1 L1872.0 1339.1 L1874.0 1339.1 L1876.0 1339.1 L1878.0 1339.1 L1880.0 1339.1 L1882.0 1339.1 L1884.0 1339.1 L1886.0 1339.1 L1888.0 1339.1 L1890.0 1339.1 L1892.0 1339.1 L1894.0 1339.1 L1896.0 1339.1 L1898.0 1339.1 L1900.0 1339.1 L1902.0 1339.1 L1904.0 1339.1 L1906.0 1339.1 L1908.0 1339.1 L1910.0 1339.1 L1912.0 1339.1 L1914.0 1339.1 L1916.0 1339.1 L1918.0 1339.1 L1920.0 1339.1 L1922.0 1339.1 L1924.0 1339.1 L1926.0 1339.1 L1928.0 1339.1 L1930.0 1339.1 L1932.0 1339.1 L1934.0 1339.1 L1936.0 1339.1 L1938.0 1339.1 L1940.0 1339.1 L1942.0 1339.1 L1944.0 1339.2 L1946.0 1339.2 L1948.0 1339.2 L1950.0 1339.2 L1952.0 1339.2 L1954.0 1339.2 L1956.0 1339.2 L1958.0 1339.2 L1960.0 1339.2 L1962.0 1339.2 L1964.0 1339.2 L1966.0 1339.2 L1968.0 1339.2 L1970.0 1339.2 L1972.0 1339.2 L1974.0 1339.2 L1976.0 1339.2 L1978.0 1339.2 L1980.0 1339.2 L1982.0 1339.2 L1984.0 1339.2 L1986.0 1339.2 L1988.0 1339.2 L1990.0 1339.2 L1992.0 1339.2 L1994.0 1339.2 L1996.0 1339.2 L1998.0 1339.2 L2000.0 1339.2 L2002.0 1339.2 L2004.0 1339.2 L2006.0 1339.2 L2008.0 1339.2 L2010.0 1339.2 L2012.0 1339.2 L2014.0 1339.2 L2016.0 1339.2 L2018.0 1339.2 L2020.0 1339.2 L2022.0 1339.2 L2024.0 1339.2 L2026.0 1339.2 L2028.0 1339.2 L2030.0 1339.2 L2032.0 1339.2 L2034.0 1339.2 L2036.0 1339.2 L2038.0 1339.2 L2040.0 1339.2 L2042.0 1339.2 L2044.0 1339.2 L2046.0 1339.2 L2048.0 1339.2 L2050.0 1339.2 L2052.0 1339.2 L2054.0 1339.2 L2056.0 1339.2 L2058.0 1339.2 L2060.0 1339.2 L2062.0 1339.2 L2064.0 1339.2 L2066.0 1339.2 L2068.0 1339.2 L2070.0 1339.2 L2072.0 1339.2 L2074.0 1339.2 L2076.0 1339.2 L2078.0 1339.2 L2080.0 1339.2 L2082.0 1339.2 L2084.0 1339.2 L2086.0 1339.2 L2088.0 1339.2 L2090.0 1339.2 L2092.0 1339.2 L2094.0 1339.2 L2096.0 1339.2 L2098.0 1339.2 L2100.0 1339.2 L2102.0 1339.2 L2104.0 1339.2 L2106.0 1339.2 L2108.0 1339.2 L2110.0 1339.2" fill="none" stroke="#ff0000" stroke-width="6.6" stroke-linejoin="round" stroke-linecap="butt"/>
<path d="M276.3 1345.9l11.4 12.2l-11.4 12.2l-11.4 -12.2zM311.5 1337.7l11.4 12.2l-11.4 12.2l-11.4 -12.2zM346.6 1333.5l11.4 12.2l-11.4 12.2l-11.4 -12.2zM381.8 1331.1l11.4 12.2l-11.4 12.2l-11.4 -12.2zM416.9 1330.3l11.4 12.2l-11.4 12.2l-11.4 -12.2zM452.1 1329.6l11.4 12.2l-11.4 12.2l-11.4 -12.2zM487.3 1329.0l11.4 12.2l-11.4 12.2l-11.4 -12.2zM522.4 1328.6l11.4 12.2l-11.4 12.2l-11.4 -12.2zM557.6 1328.4l11.4 12.2l-11.4 12.2l-11.4 -12.2zM592.7 1328.2l11.4 12.2l-11.4 12.2l-11.4 -12.2zM627.9 1328.1l11.4 12.2l-11.4 12.2l-11.4 -12.2zM663.1 1328.0l11.4 12.2l-11.4 12.2l-11.4 -12.2zM698.2 1327.9l11.4 12.2l-11.4 12.2l-11.4 -12.2zM733.4 1327.8l11.4 12.2l-11.4 12.2l-11.4 -12.2zM768.5 1327.7l11.4 12.2l-11.4 12.2l-11.4 -12.2zM803.7 1327.6l11.4 12.2l-11.4 12.2l-11.4 -12.2zM838.9 1327.5l11.4 12.2l-11.4 12.2l-11.4 -12.2zM874.0 1327.4l11.4 12.2l-11.4 12.2l-11.4 -12.2zM909.2 1327.4l11.4 12.2l-11.4 12.2l-11.4 -12.2zM944.3 1327.3l11.4 12.2l-11.4 12.2l-11.4 -12.2zM979.5 1327.2l11.4 12.2l-11.4 12.2l-11.4 -12.2zM1014.7 1327.2l11.4 12.2l-11.4 12.2l-11.4 -12.2zM1049.8 1327.1l11.4 12.2l-11.4 12.2l-11.4 -12.2zM1085.0 1327.0l11.4 12.2l-11.4 12.2l-11.4 -12.2zM1120.1 1326.8l11.4 12.2l-11.4 12.2l-11.4 -12.2zM1155.3 1324.7l11.4 12.2l-11.4 12.2l-11.4 -12.2zM1190.5 1321.7l11.4 12.2l-11.4 12.2l-11.4 -12.2zM1225.6 1310.0l11.4 12.2l-11.4 12.2l-11.4 -12.2zM1260.8 1294.0l11.4 12.2l-11.4 12.2l-11.4 -12.2zM1295.9 1284.1l11.4 12.2l-11.4 12.2l-11.4 -12.2zM1331.1 1276.1l11.4 12.2l-11.4 12.2l-11.4 -12.2zM1366.3 1280.6l11.4 12.2l-11.4 12.2l-11.4 -12.2zM1401.4 1284.0l11.4 12.2l-11.4 12.2l-11.4 -12.2zM1436.6 1278.6l11.4 12.2l-11.4 12.2l-11.4 -12.2zM1471.7 1270.8l11.4 12.2l-11.4 12.2l-11.4 -12.2zM1506.9 1263.0l11.4 12.2l-11.4 12.2l-11.4 -12.2zM1542.1 1247.4l11.4 12.2l-11.4 12.2l-11.4 -12.2zM1577.2 1220.7l11.4 12.2l-11.4 12.2l-11.4 -12.2zM1612.4 1216.6l11.4 12.2l-11.4 12.2l-11.4 -12.2zM1647.5 1236.9l11.4 12.2l-11.4 12.2l-11.4 -12.2zM1682.7 1272.5l11.4 12.2l-11.4 12.2l-11.4 -12.2zM1717.9 1304.4l11.4 12.2l-11.4 12.2l-11.4 -12.2zM1753.0 1320.4l11.4 12.2l-11.4 12.2l-11.4 -12.2zM1788.2 1325.9l11.4 12.2l-11.4 12.2l-11.4 -12.2zM1823.3 1326.8l11.4 12.2l-11.4 12.2l-11.4 -12.2zM1858.5 1326.9l11.4 12.2l-11.4 12.2l-11.4 -12.2zM1893.7 1326.9l11.4 12.2l-11.4 12.2l-11.4 -12.2zM1928.8 1326.9l11.4 12.2l-11.4 12.2l-11.4 -12.2zM1964.0 1327.0l11.4 12.2l-11.4 12.2l-11.4 -12.2zM1999.1 1327.0l11.4 12.2l-11.4 12.2l-11.4 -12.2zM2034.3 1327.0l11.4 12.2l-11.4 12.2l-11.4 -12.2zM2069.5 1327.0l11.4 12.2l-11.4 12.2l-11.4 -12.2zM2104.6 1327.0l11.4 12.2l-11.4 12.2l-11.4 -12.2z" fill="#ff0000"/>
<path d="M276.0 1341.2 L278.0 1341.2 L280.0 1341.2 L282.0 1341.2 L284.0 1341.2 L286.0 1341.1 L288.0 1341.1 L290.0 1341.1 L292.0 1341.1 L294.0 1341.1 L296.0 1341.1 L298.0 1341.1 L300.0 1341.1 L302.0 1341.0 L304.0 1341.0 L306.0 1341.0 L308.0 1341.0 L310.0 1341.0 L312.0 1341.0 L314.0 1341.0 L316.0 1341.0 L318.0 1341.0 L320.0 1340.9 L322.0 1340.9 L324.0 1340.9 L326.0 1340.9 L328.0 1340.9 L330.0 1340.9 L332.0 1340.9 L334.0 1340.9 L336.0 1340.9 L338.0 1340.8 L340.0 1340.8 L342.0 1340.8 L344.0 1340.8 L346.0 1340.8 L348.0 1340.8 L350.0 1340.8 L352.0 1340.8 L354.0 1340.8 L356.0 1340.7 L358.0 1340.7 L360.0 1340.7 L362.0 1340.7 L364.0 1340.7 L366.0 1340.7 L368.1 1340.7 L370.1 1340.7 L372.1 1340.7 L374.1 1340.7 L376.1 1340.7 L378.1 1340.6 L380.1 1340.6 L382.1 1340.6 L384.1 1340.6 L386.1 1340.6 L388.1 1340.6 L390.1 1340.6 L392.1 1340.6 L394.1 1340.6 L396.1 1340.6 L398.1 1340.5 L400.1 1340.5 L402.1 1340.5 L404.1 1340.5 L406.1 1340.5 L408.1 1340.5 L410.1 1340.5 L412.1 1340.5 L414.1 1340.5 L416.1 1340.5 L418.1 1340.5 L420.1 1340.4 L422.1 1340.4 L424.1 1340.4 L426.1 1340.4 L428.1 1340.4 L430.1 1340.4 L432.1 1340.4 L434.1 1340.4 L436.1 1340.4 L438.1 1340.4 L440.1 1340.4 L442.1 1340.3 L444.1 1340.3 L446.1 1340.3 L448.1 1340.3 L450.1 1340.3 L452.1 1340.3 L454.1 1340.3 L456.1 1340.3 L458.1 1340.3 L460.1 1340.2 L462.1 1340.2 L464.1 1340.2 L466.1 1340.2 L468.1 1340.2 L470.1 1340.2 L472.1 1340.2 L474.1 1340.2 L476.1 1340.2 L478.1 1340.2 L480.1 1340.1 L482.1 1340.1 L484.1 1340.1 L486.1 1340.1 L488.1 1340.1 L490.1 1340.1 L492.1 1340.1 L494.1 1340.1 L496.1 1340.1 L498.1 1340.1 L500.1 1340.0 L502.1 1340.0 L504.1 1340.0 L506.1 1340.0 L508.1 1340.0 L510.1 1340.0 L512.1 1340.0 L514.1 1340.0 L516.1 1340.0 L518.1 1340.0 L520.1 1340.0 L522.1 1340.0 L524.1 1339.9 L526.1 1339.9 L528.1 1339.9 L530.1 1339.9 L532.1 1339.9 L534.1 1339.9 L536.1 1339.9 L538.1 1339.9 L540.1 1339.9 L542.1 1339.9 L544.1 1339.9 L546.1 1339.9 L548.2 1339.8 L550.2 1339.8 L552.2 1339.8 L554.2 1339.8 L556.2 1339.8 L558.2 1339.8 L560.2 1339.8 L562.2 1339.8 L564.2 1339.8 L566.2 1339.8 L568.2 1339.8 L570.2 1339.8 L572.2 1339.8 L574.2 1339.7 L576.2 1339.7 L578.2 1339.7 L580.2 1339.7 L582.2 1339.7 L584.2 1339.7 L586.2 1339.7 L588.2 1339.7 L590.2 1339.7 L592.2 1339.7 L594.2 1339.7 L596.2 1339.7 L598.2 1339.7 L600.2 1339.7 L602.2 1339.7 L604.2 1339.7 L606.2 1339.6 L608.2 1339.6 L610.2 1339.6 L612.2 1339.6 L614.2 1339.6 L616.2 1339.6 L618.2 1339.6 L620.2 1339.6 L622.2 1339.6 L624.2 1339.6 L626.2 1339.6 L628.2 1339.6 L630.2 1339.6 L632.2 1339.6 L634.2 1339.6 L636.2 1339.6 L638.2 1339.6 L640.2 1339.6 L642.2 1339.5 L644.2 1339.5 L646.2 1339.5 L648.2 1339.5 L650.2 1339.5 L652.2 1339.5 L654.2 1339.5 L656.2 1339.5 L658.2 1339.5 L660.2 1339.5 L662.2 1339.5 L664.2 1339.5 L666.2 1339.5 L668.2 1339.5 L670.2 1339.5 L672.2 1339.5 L674.2 1339.5 L676.2 1339.5 L678.2 1339.5 L680.2 1339.4 L682.2 1339.4 L684.2 1339.4 L686.2 1339.4 L688.2 1339.4 L690.2 1339.4 L692.2 1339.4 L694.2 1339.4 L696.2 1339.4 L698.2 1339.4 L700.2 1339.4 L702.2 1339.4 L704.2 1339.4 L706.2 1339.4 L708.2 1339.4 L710.2 1339.4 L712.2 1339.4 L714.2 1339.4 L716.2 1339.4 L718.2 1339.3 L720.2 1339.3 L722.2 1339.3 L724.2 1339.3 L726.2 1339.3 L728.2 1339.3 L730.3 1339.3 L732.3 1339.3 L734.3 1339.3 L736.3 1339.3 L738.3 1339.3 L740.3 1339.3 L742.3 1339.3 L744.3 1339.3 L746.3 1339.3 L748.3 1339.3 L750.3 1339.3 L752.3 1339.3 L754.3 1339.3 L756.3 1339.2 L758.3 1339.2 L760.3 1339.2 L762.3 1339.2 L764.3 1339.2 L766.3 1339.2 L768.3 1339.2 L770.3 1339.2 L772.3 1339.2 L774.3 1339.2 L776.3 1339.2 L778.3 1339.2 L780.3 1339.2 L782.3 1339.2 L784.3 1339.2 L786.3 1339.2 L788.3 1339.1 L790.3 1339.1 L792.3 1339.1 L794.3 1339.1 L796.3 1339.1 L798.3 1339.1 L800.3 1339.1 L802.3 1339.1 L804.3 1339.1 L806.3 1339.1 L808.3 1339.1 L810.3 1339.1 L812.3 1339.0 L814.3 1339.0 L816.3 1339.0 L818.3 1339.0 L820.3 1339.0 L822.3 1339.0 L824.3 1339.0 L826.3 1339.0 L828.3 1339.0 L830.3 1339.0 L832.3 1339.0 L834.3 1338.9 L836.3 1338.9 L838.3 1338.9 L840.3 1338.9 L842.3 1338.9 L844.3 1338.9 L846.3 1338.9 L848.3 1338.9 L850.3 1338.9 L852.3 1338.8 L854.3 1338.8 L856.3 1338.8 L858.3 1338.8 L860.3 1338.8 L862.3 1338.8 L864.3 1338.8 L866.3 1338.8 L868.3 1338.8 L870.3 1338.7 L872.3 1338.7 L874.3 1338.7 L876.3 1338.7 L878.3 1338.7 L880.3 1338.7 L882.3 1338.7 L884.3 1338.6 L886.3 1338.6 L888.3 1338.6 L890.3 1338.6 L892.3 1338.6 L894.3 1338.6 L896.3 1338.6 L898.3 1338.6 L900.3 1338.5 L902.3 1338.5 L904.3 1338.5 L906.3 1338.5 L908.3 1338.5 L910.4 1338.5 L912.4 1338.4 L914.4 1338.4 L916.4 1338.4 L918.4 1338.4 L920.4 1338.4 L922.4 1338.4 L924.4 1338.4 L926.4 1338.3 L928.4 1338.3 L930.4 1338.3 L932.4 1338.3 L934.4 1338.3 L936.4 1338.3 L938.4 1338.2 L940.4 1338.2 L942.4 1338.2 L944.4 1338.2 L946.4 1338.2 L948.4 1338.2 L950.4 1338.1 L952.4 1338.1 L954.4 1338.1 L956.4 1338.1 L958.4 1338.1 L960.4 1338.1 L962.4 1338.0 L964.4 1338.0 L966.4 1338.0 L968.4 1338.0 L970.4 1338.0 L972.4 1337.9 L974.4 1337.9 L976.4 1337.9 L978.4 1337.9 L980.4 1337.9 L982.4 1337.8 L984.4 1337.8 L986.4 1337.8 L988.4 1337.8 L990.4 1337.7 L992.4 1337.7 L994.4 1337.7 L996.4 1337.7 L998.4 1337.6 L1000.4 1337.6 L1002.4 1337.6 L1004.4 1337.5 L1006.4 1337.5 L1008.4 1337.5 L1010.4 1337.5 L1012.4 1337.4 L1014.4 1337.4 L1016.4 1337.4 L1018.4 1337.3 L1020.4 1337.3 L1022.4 1337.2 L1024.4 1337.2 L1026.4 1337.1 L1028.4 1337.1 L1030.4 1337.0 L1032.4 1337.0 L1034.4 1336.9 L1036.4 1336.8 L1038.4 1336.8 L1040.4 1336.7 L1042.4 1336.7 L1044.4 1336.6 L1046.4 1336.5 L1048.4 1336.4 L1050.4 1336.4 L1052.4 1336.3 L1054.4 1336.2 L1056.4 1336.1 L1058.4 1336.1 L1060.4 1336.0 L1062.4 1335.9 L1064.4 1335.8 L1066.4 1335.7 L1068.4 1335.6 L1070.4 1335.5 L1072.4 1335.4 L1074.4 1335.3 L1076.4 1335.2 L1078.4 1335.1 L1080.4 1334.9 L1082.4 1334.8 L1084.4 1334.6 L1086.4 1334.5 L1088.4 1334.3 L1090.5 1334.1 L1092.5 1333.9 L1094.5 1333.7 L1096.5 1333.4 L1098.5 1333.2 L1100.5 1332.9 L1102.5 1332.7 L1104.5 1332.4 L1106.5 1332.1 L1108.5 1331.8 L1110.5 1331.4 L1112.5 1331.1 L1114.5 1330.7 L1116.5 1330.3 L1118.5 1329.8 L1120.5 1329.2 L1122.5 1328.6 L1124.5 1328.0 L1126.5 1327.4 L1128.5 1326.8 L1130.5 1326.2 L1132.5 1325.5 L1134.5 1324.9 L1136.5 1324.4 L1138.5 1323.9 L1140.5 1323.4 L1142.5 1322.9 L1144.5 1322.4 L1146.5 1322.0 L1148.5 1321.5 L1150.5 1321.1 L1152.5 1320.6 L1154.5 1320.2 L1156.5 1319.7 L1158.5 1319.2 L1160.5 1318.7 L1162.5 1318.3 L1164.5 1317.8 L1166.5 1317.5 L1168.5 1317.2 L1170.5 1316.9 L1172.5 1316.7 L1174.5 1316.5 L1176.5 1316.3 L1178.5 1316.1 L1180.5 1315.9 L1182.5 1315.7 L1184.5 1315.6 L1186.5 1315.5 L1188.5 1315.4 L1190.5 1315.4 L1192.5 1315.4 L1194.5 1315.5 L1196.5 1315.6 L1198.5 1315.8 L1200.5 1316.0 L1202.5 1316.2 L1204.5 1316.5 L1206.5 1316.8 L1208.5 1317.1 L1210.5 1317.5 L1212.5 1318.0 L1214.5 1318.6 L1216.5 1319.2 L1218.5 1320.0 L1220.5 1320.7 L1222.5 1321.5 L1224.5 1322.2 L1226.5 1322.8 L1228.5 1323.6 L1230.5 1324.3 L1232.5 1325.1 L1234.5 1325.9 L1236.5 1326.6 L1238.5 1327.3 L1240.5 1327.9 L1242.5 1328.3 L1244.5 1328.6 L1246.5 1328.9 L1248.5 1329.2 L1250.5 1329.5 L1252.5 1329.7 L1254.5 1329.9 L1256.5 1330.0 L1258.5 1330.2 L1260.5 1330.2 L1262.5 1330.2 L1264.5 1330.0 L1266.5 1329.7 L1268.5 1329.3 L1270.5 1328.8 L1272.6 1328.3 L1274.6 1327.7 L1276.6 1327.1 L1278.6 1326.1 L1280.6 1324.9 L1282.6 1323.6 L1284.6 1322.1 L1286.6 1320.6 L1288.6 1319.1 L1290.6 1317.6 L1292.6 1316.4 L1294.6 1315.3 L1296.6 1314.3 L1298.6 1313.4 L1300.6 1312.5 L1302.6 1311.6 L1304.6 1310.8 L1306.6 1310.0 L1308.6 1309.2 L1310.6 1308.5 L1312.6 1307.8 L1314.6 1307.2 L1316.6 1306.5 L1318.6 1305.9 L1320.6 1305.4 L1322.6 1304.8 L1324.6 1304.3 L1326.6 1303.8 L1328.6 1303.3 L1330.6 1302.8 L1332.6 1302.3 L1334.6 1301.8 L1336.6 1301.3 L1338.6 1300.8 L1340.6 1300.3 L1342.6 1299.7 L1344.6 1299.2 L1346.6 1298.6 L1348.6 1298.1 L1350.6 1297.6 L1352.6 1297.0 L1354.6 1296.5 L1356.6 1295.9 L1358.6 1295.4 L1360.6 1294.8 L1362.6 1294.2 L1364.6 1293.6 L1366.6 1293.0 L1368.6 1292.4 L1370.6 1291.8 L1372.6 1291.1 L1374.6 1290.4 L1376.6 1289.8 L1378.6 1289.1 L1380.6 1288.4 L1382.6 1287.7 L1384.6 1287.1 L1386.6 1286.5 L1388.6 1285.9 L1390.6 1285.3 L1392.6 1284.8 L1394.6 1284.3 L1396.6 1283.9 L1398.6 1283.4 L1400.6 1283.0 L1402.6 1282.6 L1404.6 1282.3 L1406.6 1281.9 L1408.6 1281.6 L1410.6 1281.2 L1412.6 1280.9 L1414.6 1280.5 L1416.6 1280.2 L1418.6 1279.8 L1420.6 1279.5 L1422.6 1279.1 L1424.6 1278.7 L1426.6 1278.3 L1428.6 1277.9 L1430.6 1277.4 L1432.6 1276.9 L1434.6 1276.4 L1436.6 1275.8 L1438.6 1275.1 L1440.6 1274.4 L1442.6 1273.7 L1444.6 1272.8 L1446.6 1272.0 L1448.6 1271.0 L1450.6 1270.1 L1452.7 1269.1 L1454.7 1268.1 L1456.7 1267.1 L1458.7 1266.0 L1460.7 1264.8 L1462.7 1263.6 L1464.7 1262.3 L1466.7 1261.0 L1468.7 1259.7 L1470.7 1258.3 L1472.7 1257.0 L1474.7 1255.8 L1476.7 1254.5 L1478.7 1253.3 L1480.7 1252.1 L1482.7 1250.9 L1484.7 1249.7 L1486.7 1248.6 L1488.7 1247.6 L1490.7 1246.6 L1492.7 1245.8 L1494.7 1245.0 L1496.7 1244.4 L1498.7 1243.8 L1500.7 1243.1 L1502.7 1242.4 L1504.7 1241.6 L1506.7 1240.7 L1508.7 1239.7 L1510.7 1238.7 L1512.7 1237.5 L1514.7 1236.3 L1516.7 1235.0 L1518.7 1233.6 L1520.7 1232.1 L1522.7 1230.6 L1524.7 1228.8 L1526.7 1226.9 L1528.7 1224.8 L1530.7 1222.5 L1532.7 1220.0 L1534.7 1217.4 L1536.7 1214.6 L1538.7 1211.5 L1540.7 1208.0 L1542.7 1204.3 L1544.7 1200.2 L1546.7 1195.6 L1548.7 1190.4 L1550.7 1184.9 L1552.7 1179.1 L1554.7 1173.4 L1556.7 1167.4 L1558.7 1161.3 L1560.7 1154.9 L1562.7 1148.2 L1564.7 1141.2 L1566.7 1133.9 L1568.7 1126.1 L1570.7 1118.0 L1572.7 1109.5 L1574.7 1100.4 L1576.7 1090.3 L1578.7 1078.2 L1580.7 1064.9 L1582.7 1051.5 L1584.7 1037.6 L1586.7 1024.1 L1588.7 1011.7 L1590.7 999.2 L1592.7 986.2 L1594.7 973.1 L1596.7 959.7 L1598.7 946.2 L1600.7 932.4 L1602.7 918.2 L1604.7 902.8 L1606.7 890.1 L1608.7 878.7 L1610.7 868.6 L1612.7 859.6 L1614.7 852.0 L1616.7 846.2 L1618.7 841.8 L1620.7 839.4 L1622.7 838.1 L1624.7 839.0 L1626.7 841.1 L1628.7 844.5 L1630.7 849.5 L1632.7 856.6 L1634.8 866.1 L1636.8 876.8 L1638.8 889.3 L1640.8 904.6 L1642.8 925.7 L1644.8 946.6 L1646.8 966.7 L1648.8 986.9 L1650.8 1008.6 L1652.8 1030.5 L1654.8 1048.9 L1656.8 1067.6 L1658.8 1087.5 L1660.8 1107.5 L1662.8 1127.8 L1664.8 1147.4 L1666.8 1164.7 L1668.8 1181.5 L1670.8 1199.0 L1672.8 1217.9 L1674.8 1246.0 L1676.8 1269.0 L1678.8 1284.7 L1680.8 1296.4 L1682.8 1306.1 L1684.8 1313.9 L1686.8 1320.0 L1688.8 1325.3 L1690.8 1329.6 L1692.8 1332.3 L1694.8 1334.3 L1696.8 1335.9 L1698.8 1337.1 L1700.8 1337.9 L1702.8 1338.4 L1704.8 1338.7 L1706.8 1339.0 L1708.8 1339.3 L1710.8 1339.5 L1712.8 1339.7 L1714.8 1339.9 L1716.8 1340.1 L1718.8 1340.3 L1720.8 1340.4 L1722.8 1340.6 L1724.8 1340.8 L1726.8 1340.9 L1728.8 1341.0 L1730.8 1341.0 L1732.8 1341.0 L1734.8 1341.0 L1736.8 1341.0 L1738.8 1341.0 L1740.8 1341.0 L1742.8 1341.0 L1744.8 1341.0 L1746.8 1341.0 L1748.8 1341.0 L1750.8 1341.0 L1752.8 1341.0 L1754.8 1341.0 L1756.8 1341.0 L1758.8 1341.0 L1760.8 1341.0 L1762.8 1341.0 L1764.8 1341.0 L1766.8 1341.0 L1768.8 1341.0 L1770.8 1341.0 L1772.8 1341.0 L1774.8 1341.0 L1776.8 1341.0 L1778.8 1341.0 L1780.8 1341.0 L1782.8 1341.0 L1784.8 1341.0 L1786.8 1341.0 L1788.8 1341.0 L1790.8 1341.0 L1792.8 1341.0 L1794.8 1341.0 L1796.8 1341.0 L1798.8 1341.0 L1800.8 1341.0 L1802.8 1341.0 L1804.8 1341.0 L1806.8 1341.0 L1808.8 1341.0 L1810.8 1341.0 L1812.8 1341.0 L1814.9 1341.0 L1816.9 1341.0 L1818.9 1341.0 L1820.9 1341.0 L1822.9 1341.0 L1824.9 1341.0 L1826.9 1341.0 L1828.9 1341.0 L1830.9 1341.0 L1832.9 1341.0 L1834.9 1341.0 L1836.9 1341.0 L1838.9 1341.0 L1840.9 1341.0 L1842.9 1341.0 L1844.9 1341.0 L1846.9 1341.0 L1848.9 1341.0 L1850.9 1341.0 L1852.9 1341.0 L1854.9 1341.0 L1856.9 1341.0 L1858.9 1341.0 L1860.9 1341.0 L1862.9 1341.0 L1864.9 1341.0 L1866.9 1341.0 L1868.9 1341.0 L1870.9 1341.0 L1872.9 1341.0 L1874.9 1341.0 L1876.9 1341.0 L1878.9 1341.0 L1880.9 1341.0 L1882.9 1341.0 L1884.9 1341.0 L1886.9 1341.0 L1888.9 1341.0 L1890.9 1341.0 L1892.9 1341.0 L1894.9 1341.0 L1896.9 1341.0 L1898.9 1341.0 L1900.9 1341.0 L1902.9 1341.0 L1904.9 1341.0 L1906.9 1341.0 L1908.9 1341.0 L1910.9 1341.0 L1912.9 1341.0 L1914.9 1341.0 L1916.9 1341.0 L1918.9 1341.0 L1920.9 1341.0 L1922.9 1341.0 L1924.9 1341.0 L1926.9 1341.0 L1928.9 1341.0 L1930.9 1341.0 L1932.9 1341.0 L1934.9 1341.0 L1936.9 1341.0 L1938.9 1341.0 L1940.9 1341.0 L1942.9 1341.0 L1944.9 1341.0 L1946.9 1341.0 L1948.9 1341.0 L1950.9 1341.0 L1952.9 1341.0 L1954.9 1341.0 L1956.9 1341.0 L1958.9 1341.0 L1960.9 1341.0 L1962.9 1341.0 L1964.9 1341.0 L1966.9 1341.0 L1968.9 1341.0 L1970.9 1341.0 L1972.9 1341.0 L1974.9 1341.0 L1976.9 1341.0 L1978.9 1341.0 L1980.9 1341.0 L1982.9 1341.0 L1984.9 1341.0 L1986.9 1341.0 L1988.9 1341.0 L1990.9 1341.0 L1992.9 1341.0 L1995.0 1341.0 L1997.0 1341.0 L1999.0 1341.0 L2001.0 1341.0 L2003.0 1341.0 L2005.0 1341.0 L2007.0 1341.0 L2009.0 1341.0 L2011.0 1341.0 L2013.0 1341.0 L2015.0 1341.0 L2017.0 1341.0 L2019.0 1341.0 L2021.0 1341.0 L2023.0 1341.0 L2025.0 1341.0 L2027.0 1341.0 L2029.0 1341.0 L2031.0 1341.0 L2033.0 1341.0 L2035.0 1341.0 L2037.0 1341.0 L2039.0 1341.0 L2041.0 1341.0 L2043.0 1341.0 L2045.0 1341.0 L2047.0 1341.0 L2049.0 1341.0 L2051.0 1341.0 L2053.0 1341.0 L2055.0 1341.0 L2057.0 1341.0 L2059.0 1341.0 L2061.0 1341.0 L2063.0 1341.0 L2065.0 1341.0 L2067.0 1341.0 L2069.0 1341.0 L2071.0 1341.0 L2073.0 1341.0 L2075.0 1341.0 L2077.0 1341.0 L2079.0 1341.0 L2081.0 1341.0 L2083.0 1341.0 L2085.0 1341.0" fill="none" stroke="#000000" stroke-width="6.2" stroke-linejoin="round" stroke-linecap="butt"/>
<path d="M337.9 1332.5h16.6v16.6h-16.6zM421.3 1332.1h16.6v16.6h-16.6zM503.2 1331.7h16.6v16.6h-16.6zM579.6 1331.4h16.6v16.6h-16.6zM652.3 1331.2h16.6v16.6h-16.6zM723.2 1331.0h16.6v16.6h-16.6zM794.4 1330.8h16.6v16.6h-16.6zM864.0 1330.4h16.6v16.6h-16.6zM935.2 1329.9h16.6v16.6h-16.6zM1005.4 1329.1h16.6v16.6h-16.6zM1076.5 1326.3h16.6v16.6h-16.6zM1146.1 1311.9h16.6v16.6h-16.6zM1216.9 1314.1h16.6v16.6h-16.6zM1286.0 1307.1h16.6v16.6h-16.6zM1356.8 1285.2h16.6v16.6h-16.6zM1427.6 1267.7h16.6v16.6h-16.6zM1497.1 1233.0h16.6v16.6h-16.6zM1568.3 1082.6h16.6v16.6h-16.6zM1644.0 1017.6h16.6v16.6h-16.6zM1703.7 1331.3h16.6v16.6h-16.6zM1777.1 1332.7h16.6v16.6h-16.6zM1848.4 1332.7h16.6v16.6h-16.6zM1919.7 1332.7h16.6v16.6h-16.6zM1990.0 1332.7h16.6v16.6h-16.6zM2060.7 1332.7h16.6v16.6h-16.6z" fill="#000000"/>
</g>
</g>
<path d="M2105.7 56.7V1421.5" fill="none" stroke="#000" stroke-width="3.6"/>
<path d="M2105.7 136.8h-14.0M2105.7 217.1h-27.0M2105.7 297.3h-14.0M2105.7 377.6h-27.0M2105.7 457.8h-14.0M2105.7 538.1h-27.0M2105.7 618.3h-14.0M2105.7 698.6h-27.0M2105.7 778.8h-14.0M2105.7 859.1h-27.0M2105.7 939.3h-14.0M2105.7 1019.6h-27.0M2105.7 1099.8h-14.0M2105.7 1180.1h-27.0M2105.7 1260.3h-14.0M2105.7 1340.6h-27.0" fill="none" stroke="#000" stroke-width="3.6" stroke-linecap="round"/>
<path d="M1447.2 321H620" stroke="#000" stroke-width="3.6" stroke-linecap="round" fill="none"/>
<path d="M596 321L629 312.6V329.4z" fill="#000" stroke="#000" stroke-width="3.6" stroke-linejoin="round"/>
<path d="M1723.4 1148H2040" stroke="#000" stroke-width="3.6" stroke-linecap="round" fill="none"/>
<path d="M2067 1148L2034.5 1139.6V1156.4z" fill="#000" stroke="#000" stroke-width="3.6" stroke-linejoin="round"/>
<rect x="332.7" y="517" width="610" height="432" fill="#fff" stroke="#000" stroke-width="1.8"/>
<g font-size="68" letter-spacing="-1.5">
<path d="M356.5 563.4H504" stroke="#000000" stroke-width="8" stroke-linecap="round" fill="none"/><path d="M421.7 556.6h16.6v16.6h-16.6z" fill="#000000"/><text x="520.6" y="585.8">SR</text>
<path d="M356.5 648.4H504" stroke="#ff0000" stroke-width="8" stroke-linecap="round" fill="none"/><path d="M430.0 637.7l11.4 12.2l-11.4 12.2l-11.4 -12.2z" fill="#ff0000"/><text x="520.6" y="670.8">SR/ZrPOSS-1</text>
<path d="M356.5 733.5H504" stroke="#ff00ff" stroke-width="8" stroke-linecap="round" fill="none"/><path d="M430.0 720.5l11.3 20.5h-22.6z" fill="#ff00ff"/><text x="520.6" y="755.9">SR/ZrPOSS-2</text>
<path d="M356.5 818.5H504" stroke="#0000ff" stroke-width="8" stroke-linecap="round" fill="none"/><path d="M430.0 832.0l11.3 -20.5h-22.6z" fill="#0000ff"/><text x="520.6" y="840.9">SR/ZrPOSS-3</text>
<path d="M356.5 903.6H504" stroke="#008000" stroke-width="8" stroke-linecap="round" fill="none"/><path d="M420.7 903.6a9.3 9.3 0 1 0 18.6 0a9.3 9.3 0 1 0 -18.6 0z" fill="#008000"/><text x="520.6" y="926.0">SR/ZrPOSS-4</text>
</g>
<g font-size="66" text-anchor="end">
<text x="232.2" y="1439.4">-20</text>
<text x="232.2" y="1217.6">0</text>
<text x="232.2" y="995.7">20</text>
<text x="232.2" y="773.9">40</text>
<text x="232.2" y="552.0">60</text>
<text x="232.2" y="330.2">80</text>
<text x="232.2" y="108.4">100</text>
</g>
<g font-size="66">
<text x="2133" y="75.2">-80</text>
<text x="2133" y="235.7">-70</text>
<text x="2133" y="396.2">-60</text>
<text x="2133" y="556.7">-50</text>
<text x="2133" y="717.2">-40</text>
<text x="2133" y="877.7">-30</text>
<text x="2133" y="1038.2">-20</text>
<text x="2133" y="1198.7">-10</text>
<text x="2133" y="1359.2">0</text>
</g>
<g font-size="66" text-anchor="middle">
<text x="416.8" y="1514.4">100</text>
<text x="698.1" y="1514.4">200</text>
<text x="979.4" y="1514.4">300</text>
<text x="1260.7" y="1514.4">400</text>
<text x="1542.1" y="1514.4">500</text>
<text x="1823.4" y="1514.4">600</text>
<text x="2104.7" y="1514.4">700</text>
</g>
<text font-size="84" letter-spacing="-0.5" text-anchor="middle" transform="translate(86 790.8) rotate(-90)">Weight (%)</text>
<text font-size="84" letter-spacing="-0.5" text-anchor="middle" transform="translate(2309.3 695.5) rotate(-90)">Derivate weight (%/min)</text>
<text font-size="82" letter-spacing="-1.1" x="902" y="1620.6">Temperature<tspan font-weight="400" font-size="63" x="1352" y="1621">(</tspan><tspan font-size="58" letter-spacing="0" x="1375" y="1586.6">o</tspan><tspan x="1403.5" y="1620.6">C</tspan><tspan font-weight="400" font-size="63" x="1461" y="1621">)</tspan></text>
<text font-size="92" x="1072" y="756">Air</text>
</svg>
</body>
</html>
